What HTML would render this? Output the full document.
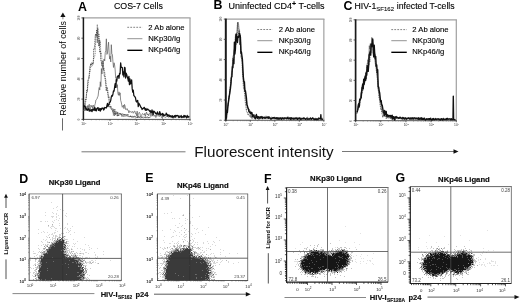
<!DOCTYPE html>
<html lang="en"><head><meta charset="utf-8"><title>Figure</title>
<style>html,body{margin:0;padding:0;background:#fff;width:520px;height:304px;overflow:hidden}svg{display:block}</style></head>
<body>
<svg width="520" height="304" viewBox="0 0 520 304" font-family='"Liberation Sans", sans-serif'>
<rect width="520" height="304" fill="#fff"/>
<line x1="83.4" y1="17.9" x2="190.6" y2="17.9" stroke="#a0a0a0" stroke-width="1.2" />
<line x1="190" y1="17.9" x2="190" y2="119.4" stroke="#a0a0a0" stroke-width="1.2" />
<line x1="83.4" y1="17.4" x2="83.4" y2="119.9" stroke="#1a1a1a" stroke-width="1.5" />
<line x1="82.9" y1="119.4" x2="190.5" y2="119.4" stroke="#2a2a2a" stroke-width="0.8" />
<line x1="81.4" y1="17.9" x2="83.4" y2="17.9" stroke="#333" stroke-width="0.8" />
<text transform="translate(79.8 17.9) rotate(-90)" font-size="3" text-anchor="middle" fill="#444">100</text>
<line x1="81.4" y1="38.2" x2="83.4" y2="38.2" stroke="#333" stroke-width="0.8" />
<text transform="translate(79.8 38.2) rotate(-90)" font-size="3" text-anchor="middle" fill="#444">80</text>
<line x1="81.4" y1="58.5" x2="83.4" y2="58.5" stroke="#333" stroke-width="0.8" />
<text transform="translate(79.8 58.5) rotate(-90)" font-size="3" text-anchor="middle" fill="#444">60</text>
<line x1="81.4" y1="78.8" x2="83.4" y2="78.8" stroke="#333" stroke-width="0.8" />
<text transform="translate(79.8 78.8) rotate(-90)" font-size="3" text-anchor="middle" fill="#444">40</text>
<line x1="81.4" y1="99.1" x2="83.4" y2="99.1" stroke="#333" stroke-width="0.8" />
<text transform="translate(79.8 99.1) rotate(-90)" font-size="3" text-anchor="middle" fill="#444">20</text>
<line x1="81.4" y1="119.4" x2="83.4" y2="119.4" stroke="#333" stroke-width="0.8" />
<text transform="translate(79.8 119.4) rotate(-90)" font-size="3" text-anchor="middle" fill="#444">0</text>
<line x1="83.4" y1="119.4" x2="83.4" y2="120.9" stroke="#333" stroke-width="0.8" />
<text x="83.7" y="124.7" font-size="3.3" text-anchor="middle" fill="#333">10<tspan dy="-1.15" font-size="2.31">0</tspan></text>
<line x1="110.05" y1="119.4" x2="110.05" y2="120.9" stroke="#333" stroke-width="0.8" />
<text x="110.35" y="124.7" font-size="3.3" text-anchor="middle" fill="#333">10<tspan dy="-1.15" font-size="2.31">1</tspan></text>
<line x1="136.7" y1="119.4" x2="136.7" y2="120.9" stroke="#333" stroke-width="0.8" />
<text x="137" y="124.7" font-size="3.3" text-anchor="middle" fill="#333">10<tspan dy="-1.15" font-size="2.31">2</tspan></text>
<line x1="163.35" y1="119.4" x2="163.35" y2="120.9" stroke="#333" stroke-width="0.8" />
<text x="163.65" y="124.7" font-size="3.3" text-anchor="middle" fill="#333">10<tspan dy="-1.15" font-size="2.31">3</tspan></text>
<line x1="190" y1="119.4" x2="190" y2="120.9" stroke="#333" stroke-width="0.8" />
<text x="190.3" y="124.7" font-size="3.3" text-anchor="middle" fill="#333">10<tspan dy="-1.15" font-size="2.31">4</tspan></text>
<line x1="91.42" y1="119.4" x2="91.42" y2="120.4" stroke="#555" stroke-width="0.4" />
<line x1="96.12" y1="119.4" x2="96.12" y2="120.4" stroke="#555" stroke-width="0.4" />
<line x1="99.44" y1="119.4" x2="99.44" y2="120.4" stroke="#555" stroke-width="0.4" />
<line x1="102.03" y1="119.4" x2="102.03" y2="120.4" stroke="#555" stroke-width="0.4" />
<line x1="104.14" y1="119.4" x2="104.14" y2="120.4" stroke="#555" stroke-width="0.4" />
<line x1="105.92" y1="119.4" x2="105.92" y2="120.4" stroke="#555" stroke-width="0.4" />
<line x1="107.47" y1="119.4" x2="107.47" y2="120.4" stroke="#555" stroke-width="0.4" />
<line x1="108.83" y1="119.4" x2="108.83" y2="120.4" stroke="#555" stroke-width="0.4" />
<line x1="118.07" y1="119.4" x2="118.07" y2="120.4" stroke="#555" stroke-width="0.4" />
<line x1="122.77" y1="119.4" x2="122.77" y2="120.4" stroke="#555" stroke-width="0.4" />
<line x1="126.09" y1="119.4" x2="126.09" y2="120.4" stroke="#555" stroke-width="0.4" />
<line x1="128.68" y1="119.4" x2="128.68" y2="120.4" stroke="#555" stroke-width="0.4" />
<line x1="130.79" y1="119.4" x2="130.79" y2="120.4" stroke="#555" stroke-width="0.4" />
<line x1="132.57" y1="119.4" x2="132.57" y2="120.4" stroke="#555" stroke-width="0.4" />
<line x1="134.12" y1="119.4" x2="134.12" y2="120.4" stroke="#555" stroke-width="0.4" />
<line x1="135.48" y1="119.4" x2="135.48" y2="120.4" stroke="#555" stroke-width="0.4" />
<line x1="144.72" y1="119.4" x2="144.72" y2="120.4" stroke="#555" stroke-width="0.4" />
<line x1="149.42" y1="119.4" x2="149.42" y2="120.4" stroke="#555" stroke-width="0.4" />
<line x1="152.74" y1="119.4" x2="152.74" y2="120.4" stroke="#555" stroke-width="0.4" />
<line x1="155.33" y1="119.4" x2="155.33" y2="120.4" stroke="#555" stroke-width="0.4" />
<line x1="157.44" y1="119.4" x2="157.44" y2="120.4" stroke="#555" stroke-width="0.4" />
<line x1="159.22" y1="119.4" x2="159.22" y2="120.4" stroke="#555" stroke-width="0.4" />
<line x1="160.77" y1="119.4" x2="160.77" y2="120.4" stroke="#555" stroke-width="0.4" />
<line x1="162.13" y1="119.4" x2="162.13" y2="120.4" stroke="#555" stroke-width="0.4" />
<line x1="171.37" y1="119.4" x2="171.37" y2="120.4" stroke="#555" stroke-width="0.4" />
<line x1="176.07" y1="119.4" x2="176.07" y2="120.4" stroke="#555" stroke-width="0.4" />
<line x1="179.39" y1="119.4" x2="179.39" y2="120.4" stroke="#555" stroke-width="0.4" />
<line x1="181.98" y1="119.4" x2="181.98" y2="120.4" stroke="#555" stroke-width="0.4" />
<line x1="184.09" y1="119.4" x2="184.09" y2="120.4" stroke="#555" stroke-width="0.4" />
<line x1="185.87" y1="119.4" x2="185.87" y2="120.4" stroke="#555" stroke-width="0.4" />
<line x1="187.42" y1="119.4" x2="187.42" y2="120.4" stroke="#555" stroke-width="0.4" />
<line x1="188.78" y1="119.4" x2="188.78" y2="120.4" stroke="#555" stroke-width="0.4" />
<text x="114" y="8.85" font-size="8.8" fill="#000" stroke="#000" stroke-width="0.12">COS-7 Cells</text>
<text transform="translate(78.1 10.7) scale(1 1)" font-size="12.4" font-weight="bold" fill="#000">A</text>
<line x1="127.3" y1="27.3" x2="142.4" y2="27.3" stroke="#666" stroke-width="0.8" stroke-dasharray="1.8 1.2"/>
<text x="148.3" y="29.55" font-size="7.7" font-weight="normal" text-anchor="start" fill="#000" stroke="#000" stroke-width="0.12">2 Ab alone</text>
<line x1="127.3" y1="38.7" x2="142.4" y2="38.7" stroke="#666" stroke-width="0.7"/>
<text x="148.3" y="40.95" font-size="7.7" font-weight="normal" text-anchor="start" fill="#000" stroke="#000" stroke-width="0.12">NKp30/Ig</text>
<line x1="127.3" y1="50.3" x2="142.4" y2="50.3" stroke="#000" stroke-width="1.35"/>
<text x="148.3" y="52.25" font-size="7.7" font-weight="normal" text-anchor="start" fill="#000" stroke="#000" stroke-width="0.12">NKp46/Ig</text>
<path d="M83.8 111.07 L84.3 109 L84.8 105.76 L85.3 99.47 L85.8 100.14 L86.3 97.02 L86.8 89.8 L87.3 90.85 L87.8 80.79 L88.3 79.27 L88.8 78.75 L89.3 74 L89.8 67.13 L90.3 65.65 L90.8 64.01 L91.3 65 L91.8 62.58 L92.3 62.77 L92.8 64.56 L93.3 63.56 L93.8 48.41 L94.3 48.73 L94.8 44.34 L95.3 34.84 L95.8 33.98 L96.3 36.61 L96.8 29.74 L97.3 42.78 L97.8 27.83 L98.3 35.62 L98.8 46.08 L99.3 39.92 L99.8 52.31 L100.3 50.68 L100.8 60.22 L101.3 61.37 L101.8 65.56 L102.3 60.86 L102.8 61.3 L103.3 69.9 L103.8 68.08 L104.3 76.17 L104.8 75.95 L105.3 79.74 L105.8 84.99 L106.3 90.91 L106.8 87.16 L107.3 89.51 L107.8 93.71 L108.3 97.49 L108.8 96.4 L109.3 102.52 L109.8 107.67 L110.3 108.11 L110.8 106.29 L111.3 109.25 L111.8 108.81 L112.3 110.04 L112.8 112.24 L113.3 109.12 L113.8 113.05 L114.3 115.89 L114.8 108.98 L115.3 115.07 L115.8 111.97 L116.3 111.85 L116.8 113.34 L117.3 116.36 L117.8 111.97 L118.3 116.28 L118.8 115.56 L119.3 114.59 L119.8 112.82 L120.3 113.43 L120.8 112.82 L121.3 115.2 L121.8 114.82 L122.3 116.17 L122.8 115.39 L123.3 114.66 L123.8 115.4 L124.3 114.52 L124.8 115.95 L125.3 116.29 L125.8 115.55 L126.3 115.97 L126.8 115.19 L127.3 115.48 L127.8 114.03 L128.3 116.17 L128.8 116.29 L129.3 117.08 L129.8 116.34 L130.3 115.91 L130.8 117.22 L131.3 116.7 L131.8 115.99 L132.3 116.81 L132.8 117.23 L133.3 116.24 L133.8 116.91 L134.3 116.6 L134.8 116.11 L135.3 116.34 L135.8 117.15 L136.3 117.39 L136.8 116.69 L137.3 117.1 L137.8 118.07 L138.3 116.34 L138.8 117.12 L139.3 116.65 L139.8 117.74 L140.3 116.36 L140.8 117.64 L141.3 117.26 L141.8 118.02 L142.3 117.39 L142.8 117.46 L143.3 117.25 L143.8 117.12 L144.3 117.38 L144.8 116.81 L145.3 117.62 L145.8 117.93 L146.3 117.38 L146.8 117.11 L147.3 116.85 L147.8 117.04 L148.3 118.35 L148.8 117.41 L149.3 116.89 L149.8 117.6" fill="none" stroke="#3a3a3a" stroke-width="0.85" stroke-linejoin="round" stroke-dasharray="1.1 0.7" />
<path d="M84.3 110.45 L84.8 106.91 L85.3 102 L85.8 101.68 L86.3 96.46 L86.8 91.93 L87.3 92.27 L87.8 85.92 L88.3 83.45 L88.8 76.66 L89.3 77.51 L89.8 71.02 L90.3 71.42 L90.8 63.37 L91.3 66.12 L91.8 66.73 L92.3 65.42 L92.8 64.36 L93.3 61.3 L93.8 58.13 L94.3 57.73 L94.8 55.81 L95.3 52.8 L95.8 36.38 L96.3 34.11 L96.8 34.17 L97.3 24.33 L97.8 37.77 L98.3 34.83 L98.8 33.77 L99.3 34.19 L99.8 45.78 L100.3 40.85 L100.8 53.59 L101.3 52.6 L101.8 57.39 L102.3 66.67 L102.8 61.97 L103.3 63.25 L103.8 68.8 L104.3 72.4 L104.8 71.83 L105.3 78.31 L105.8 79.24 L106.3 85.31 L106.8 86.93 L107.3 87.35 L107.8 90.12 L108.3 95 L108.8 96.37 L109.3 101.93 L109.8 104.35 L110.3 106.9 L110.8 106.06 L111.3 108.17 L111.8 109.59 L112.3 109.3 L112.8 108.13 L113.3 115.28 L113.8 111.83 L114.3 111.73 L114.8 111.52 L115.3 112.54 L115.8 114.81 L116.3 114.46 L116.8 111.86 L117.3 111.71 L117.8 113.6 L118.3 114.76 L118.8 113.89 L119.3 114.08 L119.8 113.43 L120.3 113.92 L120.8 115.21 L121.3 113.68 L121.8 116.45 L122.3 113.82 L122.8 113.35 L123.3 116.7 L123.8 114.65 L124.3 116.3 L124.8 113.83 L125.3 114 L125.8 115.85 L126.3 114.01 L126.8 115.79 L127.3 116.46 L127.8 116.79 L128.3 116.11 L128.8 116.35 L129.3 116.35 L129.8 116.79 L130.3 115.74 L130.8 115.73 L131.3 116.87 L131.8 117.61 L132.3 116.3 L132.8 115.99 L133.3 117.02 L133.8 117.82 L134.3 116.69 L134.8 115.82 L135.3 118.23 L135.8 116.86 L136.3 117.11 L136.8 117.7 L137.3 116.68 L137.8 117.68 L138.3 116.87 L138.8 116.39 L139.3 117.13 L139.8 117.54 L140.3 118.2 L140.8 117.87 L141.3 118.17 L141.8 116.3 L142.3 117.4 L142.8 117.92 L143.3 118.26 L143.8 118.01 L144.3 117.51 L144.8 118.04 L145.3 116.46 L145.8 117.79 L146.3 117.8 L146.8 117.22 L147.3 116.81 L147.8 116.86 L148.3 117.86 L148.8 117.33 L149.3 117.47 L149.8 117.28 L150.3 117.36" fill="none" stroke="#4a4a4a" stroke-width="0.7" stroke-linejoin="round" stroke-dasharray="0.9 0.9" />
<path d="M83.8 111.03 L84.35 109.6 L84.9 104.67 L85.45 108.12 L86 106.21 L86.55 108.19 L87.1 110.8 L87.65 105.58 L88.2 108.38 L88.75 105.17 L89.3 104.29 L89.85 109.76 L90.4 110 L90.95 105.1 L91.5 106.61 L92.05 105.85 L92.6 108.42 L93.15 105.01 L93.7 106.44 L94.25 110.25 L94.8 104.97 L95.35 103.43 L95.9 100.07 L96.45 99.55 L97 98.93 L97.55 96.91 L98.1 96.19 L98.65 91.01 L99.2 87.51 L99.75 90.04 L100.3 81.79 L100.85 86.59 L101.4 68.57 L101.95 73.99 L102.5 65.83 L103.05 67.39 L103.6 60.32 L104.15 58.97 L104.7 60.97 L105.25 52.52 L105.8 50.7 L106.35 38.82 L106.9 54.42 L107.45 53.41 L108 46.97 L108.55 42.16 L109.1 52.27 L109.65 59.08 L110.2 56.14 L110.75 61.97 L111.3 44.7 L111.85 53.67 L112.4 54.46 L112.95 61.76 L113.5 67.46 L114.05 62.77 L114.6 65 L115.15 69.78 L115.7 77.99 L116.25 77.5 L116.8 87.61 L117.35 84.65 L117.9 93.37 L118.45 95.27 L119 91.87 L119.55 95.38 L120.1 92.85 L120.65 100.34 L121.2 102 L121.75 104.91 L122.3 107.29 L122.85 106.21 L123.4 105.15 L123.95 108.64 L124.5 104.45 L125.05 106.02 L125.6 109.45 L126.15 109.79 L126.7 108.74 L127.25 108.72 L127.8 110.45 L128.35 110.45 L128.9 112.9 L129.45 110.89 L130 111.24 L130.55 111.78 L131.1 111.48 L131.65 112.56 L132.2 111.68 L132.75 111.54 L133.3 113.24 L133.85 112.31 L134.4 111.12 L134.95 111.11 L135.5 113.58 L136.05 113.09 L136.6 115.74 L137.15 111.15 L137.7 116.84 L138.25 114.04 L138.8 113.35 L139.35 112.27 L139.9 113.33 L140.45 115.84 L141 116.41 L141.55 115.8 L142.1 113.95 L142.65 113.48 L143.2 114.34 L143.75 114.83 L144.3 115.07 L144.85 113.25 L145.4 116.23 L145.95 114.15 L146.5 112.04 L147.05 113.81 L147.6 115.01 L148.15 113.87 L148.7 115.8 L149.25 114.28 L149.8 113.1 L150.35 112.44 L150.9 116.56 L151.45 114.17 L152 112.48 L152.55 116.11 L153.1 114.24 L153.65 114.4 L154.2 116.38 L154.75 115.33 L155.3 115.03 L155.85 117.56 L156.4 115.34 L156.95 116.29 L157.5 114.62 L158.05 113.56 L158.6 115.34 L159.15 116.7 L159.7 115.8 L160.25 115.69 L160.8 114.93 L161.35 117.39 L161.9 117.23 L162.45 118.52 L163 115.63 L163.55 116.54 L164.1 116.83 L164.65 116.83 L165.2 117.04 L165.75 117.46 L166.3 116.49 L166.85 116.83 L167.4 115.65 L167.95 117.09 L168.5 117.29 L169.05 117 L169.6 115.66 L170.15 116.63 L170.7 116.75 L171.25 116.43 L171.8 115.57 L172.35 117.95 L172.9 117.41 L173.45 118.26 L174 116.51 L174.55 117.49 L175.1 117.3 L175.65 117.55 L176.2 116.55 L176.75 116.96 L177.3 117.1 L177.85 116.54 L178.4 117.48 L178.95 117.72 L179.5 115.48 L180.05 117.01 L180.6 117.37 L181.15 117.28 L181.7 117.3 L182.25 116.81 L182.8 116.45 L183.35 116.42 L183.9 117.2 L184.45 117.88 L185 117.11 L185.55 116.56 L186.1 116.64 L186.65 117.06 L187.2 117.12 L187.75 117.56 L188.3 117.63 L188.85 117.94 L189.4 117.32" fill="none" stroke="#5a5a5a" stroke-width="0.7" stroke-linejoin="round" />
<path d="M83.8 105.15 L84.35 106.55 L84.9 106.54 L85.45 107.11 L86 110.04 L86.55 108.82 L87.1 109.15 L87.65 110.25 L88.2 109.37 L88.75 108.54 L89.3 111.17 L89.85 109.89 L90.4 110.32 L90.95 110.99 L91.5 109.62 L92.05 111.56 L92.6 109.48 L93.15 109.02 L93.7 110.12 L94.25 110.15 L94.8 107.47 L95.35 110.63 L95.9 108.88 L96.45 110.93 L97 108.7 L97.55 107.82 L98.1 107.72 L98.65 110.36 L99.2 110.08 L99.75 108.43 L100.3 111.15 L100.85 108.61 L101.4 109.7 L101.95 108.03 L102.5 108.41 L103.05 107.86 L103.6 110 L104.15 109.42 L104.7 107.4 L105.25 107.77 L105.8 107.61 L106.35 107.97 L106.9 105.71 L107.45 103.41 L108 106.59 L108.55 104.47 L109.1 103.53 L109.65 102.39 L110.2 101.97 L110.75 100.34 L111.3 96.97 L111.85 95.52 L112.4 96.07 L112.95 93.98 L113.5 90.88 L114.05 91.14 L114.6 87.23 L115.15 83.52 L115.7 87.37 L116.25 79.65 L116.8 81.17 L117.35 76.54 L117.9 76.06 L118.45 75.54 L119 78.27 L119.55 73.38 L120.1 73.89 L120.65 62.78 L121.2 67.34 L121.75 67.3 L122.3 67.54 L122.85 74.9 L123.4 71.99 L123.95 76.81 L124.5 67.33 L125.05 67.68 L125.6 78.03 L126.15 73.18 L126.7 74.6 L127.25 76.85 L127.8 78.47 L128.35 81.02 L128.9 76.28 L129.45 84.63 L130 78.99 L130.55 83.95 L131.1 83.17 L131.65 79.95 L132.2 88.64 L132.75 92.03 L133.3 90.19 L133.85 95.75 L134.4 96.04 L134.95 96.79 L135.5 97.86 L136.05 101.11 L136.6 102.03 L137.15 100.89 L137.7 100.37 L138.25 106.74 L138.8 103.24 L139.35 104.18 L139.9 105.12 L140.45 106.26 L141 107.6 L141.55 107.58 L142.1 109.49 L142.65 108.58 L143.2 108.58 L143.75 107.71 L144.3 107.41 L144.85 109.11 L145.4 110.25 L145.95 108.38 L146.5 110.26 L147.05 109.97 L147.6 108.97 L148.15 109.47 L148.7 109.87 L149.25 110.67 L149.8 111.54 L150.35 110.66 L150.9 112.64 L151.45 112.49 L152 109.97 L152.55 111.85 L153.1 114.71 L153.65 111.1 L154.2 111.5 L154.75 111.94 L155.3 113.28 L155.85 113.02 L156.4 114.12 L156.95 114.05 L157.5 111.89 L158.05 113.81 L158.6 114.03 L159.15 114.87 L159.7 111.55 L160.25 113.16 L160.8 115.07 L161.35 114.52 L161.9 113.95 L162.45 113.34 L163 116.16 L163.55 114.06 L164.1 115.17 L164.65 115.48 L165.2 115.06 L165.75 114.92 L166.3 113.04 L166.85 115.13 L167.4 114.38 L167.95 116.26 L168.5 115.23 L169.05 114.81 L169.6 116.67 L170.15 116.15 L170.7 115.67 L171.25 117.16 L171.8 116.61 L172.35 115.75 L172.9 117.58 L173.45 116.75 L174 116.3 L174.55 115.65 L175.1 117.21 L175.65 115.36 L176.2 116.03 L176.75 115.64 L177.3 115.44 L177.85 115.84 L178.4 115.77 L178.95 117.51 L179.5 117.16 L180.05 116.89 L180.6 116.38 L181.15 115.49 L181.7 117.69 L182.25 116.73 L182.8 117.1 L183.35 117.25 L183.9 115.34 L184.45 116.91 L185 115.61 L185.55 116.43 L186.1 117.09 L186.65 117.78 L187.2 115.45 L187.75 116.98 L188.3 117.21 L188.85 116.42 L189.4 116.56" fill="none" stroke="#111" stroke-width="1.25" stroke-linejoin="round" />
<line x1="225.8" y1="19.1" x2="324.45" y2="19.1" stroke="#a0a0a0" stroke-width="1.2" />
<line x1="323.85" y1="19.1" x2="323.85" y2="120.25" stroke="#a0a0a0" stroke-width="1.2" />
<line x1="225.8" y1="18.6" x2="225.8" y2="120.75" stroke="#1a1a1a" stroke-width="2.0" />
<line x1="225.3" y1="120.25" x2="324.35" y2="120.25" stroke="#2a2a2a" stroke-width="0.8" />
<line x1="223.8" y1="19.1" x2="225.8" y2="19.1" stroke="#333" stroke-width="0.8" />
<text transform="translate(222.2 19.1) rotate(-90)" font-size="3" text-anchor="middle" fill="#444">100</text>
<line x1="223.8" y1="39.33" x2="225.8" y2="39.33" stroke="#333" stroke-width="0.8" />
<text transform="translate(222.2 39.33) rotate(-90)" font-size="3" text-anchor="middle" fill="#444">80</text>
<line x1="223.8" y1="59.56" x2="225.8" y2="59.56" stroke="#333" stroke-width="0.8" />
<text transform="translate(222.2 59.56) rotate(-90)" font-size="3" text-anchor="middle" fill="#444">60</text>
<line x1="223.8" y1="79.79" x2="225.8" y2="79.79" stroke="#333" stroke-width="0.8" />
<text transform="translate(222.2 79.79) rotate(-90)" font-size="3" text-anchor="middle" fill="#444">40</text>
<line x1="223.8" y1="100.02" x2="225.8" y2="100.02" stroke="#333" stroke-width="0.8" />
<text transform="translate(222.2 100.02) rotate(-90)" font-size="3" text-anchor="middle" fill="#444">20</text>
<line x1="223.8" y1="120.25" x2="225.8" y2="120.25" stroke="#333" stroke-width="0.8" />
<text transform="translate(222.2 120.25) rotate(-90)" font-size="3" text-anchor="middle" fill="#444">0</text>
<line x1="225.8" y1="120.25" x2="225.8" y2="121.75" stroke="#333" stroke-width="0.8" />
<text x="226.1" y="125.55" font-size="3.3" text-anchor="middle" fill="#333">10<tspan dy="-1.15" font-size="2.31">0</tspan></text>
<line x1="250.31" y1="120.25" x2="250.31" y2="121.75" stroke="#333" stroke-width="0.8" />
<text x="250.61" y="125.55" font-size="3.3" text-anchor="middle" fill="#333">10<tspan dy="-1.15" font-size="2.31">1</tspan></text>
<line x1="274.83" y1="120.25" x2="274.83" y2="121.75" stroke="#333" stroke-width="0.8" />
<text x="275.13" y="125.55" font-size="3.3" text-anchor="middle" fill="#333">10<tspan dy="-1.15" font-size="2.31">2</tspan></text>
<line x1="299.34" y1="120.25" x2="299.34" y2="121.75" stroke="#333" stroke-width="0.8" />
<text x="299.64" y="125.55" font-size="3.3" text-anchor="middle" fill="#333">10<tspan dy="-1.15" font-size="2.31">3</tspan></text>
<line x1="323.85" y1="120.25" x2="323.85" y2="121.75" stroke="#333" stroke-width="0.8" />
<text x="324.15" y="125.55" font-size="3.3" text-anchor="middle" fill="#333">10<tspan dy="-1.15" font-size="2.31">4</tspan></text>
<line x1="233.18" y1="120.25" x2="233.18" y2="121.25" stroke="#555" stroke-width="0.4" />
<line x1="237.5" y1="120.25" x2="237.5" y2="121.25" stroke="#555" stroke-width="0.4" />
<line x1="240.56" y1="120.25" x2="240.56" y2="121.25" stroke="#555" stroke-width="0.4" />
<line x1="242.93" y1="120.25" x2="242.93" y2="121.25" stroke="#555" stroke-width="0.4" />
<line x1="244.87" y1="120.25" x2="244.87" y2="121.25" stroke="#555" stroke-width="0.4" />
<line x1="246.52" y1="120.25" x2="246.52" y2="121.25" stroke="#555" stroke-width="0.4" />
<line x1="247.94" y1="120.25" x2="247.94" y2="121.25" stroke="#555" stroke-width="0.4" />
<line x1="249.19" y1="120.25" x2="249.19" y2="121.25" stroke="#555" stroke-width="0.4" />
<line x1="257.69" y1="120.25" x2="257.69" y2="121.25" stroke="#555" stroke-width="0.4" />
<line x1="262.01" y1="120.25" x2="262.01" y2="121.25" stroke="#555" stroke-width="0.4" />
<line x1="265.07" y1="120.25" x2="265.07" y2="121.25" stroke="#555" stroke-width="0.4" />
<line x1="267.45" y1="120.25" x2="267.45" y2="121.25" stroke="#555" stroke-width="0.4" />
<line x1="269.39" y1="120.25" x2="269.39" y2="121.25" stroke="#555" stroke-width="0.4" />
<line x1="271.03" y1="120.25" x2="271.03" y2="121.25" stroke="#555" stroke-width="0.4" />
<line x1="272.45" y1="120.25" x2="272.45" y2="121.25" stroke="#555" stroke-width="0.4" />
<line x1="273.7" y1="120.25" x2="273.7" y2="121.25" stroke="#555" stroke-width="0.4" />
<line x1="282.2" y1="120.25" x2="282.2" y2="121.25" stroke="#555" stroke-width="0.4" />
<line x1="286.52" y1="120.25" x2="286.52" y2="121.25" stroke="#555" stroke-width="0.4" />
<line x1="289.58" y1="120.25" x2="289.58" y2="121.25" stroke="#555" stroke-width="0.4" />
<line x1="291.96" y1="120.25" x2="291.96" y2="121.25" stroke="#555" stroke-width="0.4" />
<line x1="293.9" y1="120.25" x2="293.9" y2="121.25" stroke="#555" stroke-width="0.4" />
<line x1="295.54" y1="120.25" x2="295.54" y2="121.25" stroke="#555" stroke-width="0.4" />
<line x1="296.96" y1="120.25" x2="296.96" y2="121.25" stroke="#555" stroke-width="0.4" />
<line x1="298.22" y1="120.25" x2="298.22" y2="121.25" stroke="#555" stroke-width="0.4" />
<line x1="306.72" y1="120.25" x2="306.72" y2="121.25" stroke="#555" stroke-width="0.4" />
<line x1="311.03" y1="120.25" x2="311.03" y2="121.25" stroke="#555" stroke-width="0.4" />
<line x1="314.1" y1="120.25" x2="314.1" y2="121.25" stroke="#555" stroke-width="0.4" />
<line x1="316.47" y1="120.25" x2="316.47" y2="121.25" stroke="#555" stroke-width="0.4" />
<line x1="318.41" y1="120.25" x2="318.41" y2="121.25" stroke="#555" stroke-width="0.4" />
<line x1="320.05" y1="120.25" x2="320.05" y2="121.25" stroke="#555" stroke-width="0.4" />
<line x1="321.47" y1="120.25" x2="321.47" y2="121.25" stroke="#555" stroke-width="0.4" />
<line x1="322.73" y1="120.25" x2="322.73" y2="121.25" stroke="#555" stroke-width="0.4" />
<text x="228.5" y="8.6" font-size="9" fill="#000" stroke="#000" stroke-width="0.12">Uninfected CD4<tspan dy="-3.0" font-size="7" font-weight="bold">+</tspan><tspan dy="3.0"> T-cells</tspan></text>
<text transform="translate(213.4 8.9) scale(1 1)" font-size="12.4" font-weight="bold" fill="#000">B</text>
<line x1="257.3" y1="29.5" x2="272.4" y2="29.5" stroke="#666" stroke-width="0.8" stroke-dasharray="1.8 1.2"/>
<text x="278.7" y="31.75" font-size="7.7" font-weight="normal" text-anchor="start" fill="#000" stroke="#000" stroke-width="0.12">2 Ab alone</text>
<line x1="257.3" y1="40.7" x2="272.4" y2="40.7" stroke="#666" stroke-width="0.7"/>
<text x="278.7" y="42.95" font-size="7.7" font-weight="normal" text-anchor="start" fill="#000" stroke="#000" stroke-width="0.12">NKp30/Ig</text>
<line x1="257.3" y1="52.3" x2="272.4" y2="52.3" stroke="#000" stroke-width="1.35"/>
<text x="278.7" y="54.25" font-size="7.7" font-weight="normal" text-anchor="start" fill="#000" stroke="#000" stroke-width="0.12">NKp46/Ig</text>
<path d="M226.5 116.93 L227 112.17 L227.5 108 L228 105.45 L228.5 99.4 L229 97.32 L229.5 95.03 L230 87.51 L230.5 83.83 L231 78.66 L231.5 79.19 L232 70.65 L232.5 69.34 L233 57.82 L233.5 62.56 L234 55.6 L234.5 53.19 L235 46.05 L235.5 35.69 L236 44.83 L236.5 32.98 L237 40.18 L237.5 22.37 L238 29.08 L238.5 34.38 L239 32.39 L239.5 29.85 L240 38.3 L240.5 41.35 L241 57.75 L241.5 58.39 L242 59.52 L242.5 73.32 L243 78.3 L243.5 88.43 L244 88.13 L244.5 93.19 L245 97.97 L245.5 104.16 L246 106.37 L246.5 111.15 L247 111.38 L247.5 113.31 L248 114.73 L248.5 113.83 L249 114.98 L249.5 115.99 L250 116.75 L250.5 115.25 L251 117.73 L251.5 116.37 L252 118.67 L252.5 118.15 L253 117.3 L253.5 117.68 L254 115.71 L254.5 115.95 L255 118.58 L255.5 118.38 L256 118.02 L256.5 116.88 L257 117.04 L257.5 117.81 L258 118.66 L258.5 118.38 L259 119.5 L259.5 118.97 L260 117.88 L260.5 117.85 L261 118.86 L261.5 118.19" fill="none" stroke="#3a3a3a" stroke-width="0.85" stroke-linejoin="round" stroke-dasharray="1.1 0.7" />
<path d="M226.5 113.63 L227 113.47 L227.5 107.44 L228 103.65 L228.5 102.37 L229 95.51 L229.5 95.1 L230 91.98 L230.5 85.99 L231 83.36 L231.5 72.39 L232 71.04 L232.5 62.62 L233 56.84 L233.5 54.83 L234 50.7 L234.5 48.59 L235 49.88 L235.5 33.72 L236 41.34 L236.5 34.3 L237 33.2 L237.5 24.18 L238 22.14 L238.5 23.57 L239 29.71 L239.5 44.69 L240 35.16 L240.5 38.5 L241 49.32 L241.5 55.57 L242 59.55 L242.5 62.36 L243 72.15 L243.5 82.22 L244 86.25 L244.5 86.81 L245 91.95 L245.5 92.33 L246 100.28 L246.5 100.16 L247 104.75 L247.5 106.58 L248 108.87 L248.5 110.46 L249 109.01 L249.5 111.72 L250 110.78 L250.5 114.87 L251 115.45 L251.5 114.26 L252 113.76 L252.5 114.84 L253 114.21 L253.5 116.29 L254 114.19 L254.5 115.07 L255 117.32 L255.5 115.29 L256 116.75 L256.5 115.47 L257 117.33 L257.5 116.1 L258 116.4 L258.5 119.3 L259 118.77 L259.5 116.77 L260 117.16 L260.5 116.48 L261 116.79 L261.5 118.05 L262 117.14 L262.5 117.77 L263 117.4 L263.5 117.77 L264 116.95 L264.5 118.71 L265 118.13 L265.5 118.88 L266 115.85 L266.5 118.15 L267 117.84 L267.5 118.29 L268 118.02 L268.5 117.96 L269 117.06 L269.5 117.46 L270 117.28 L270.5 118.24 L271 117.52 L271.5 116.83 L272 117.56 L272.5 117.53 L273 119.23 L273.5 117.38 L274 117.61 L274.5 116.84 L275 119.47 L275.5 117.52 L276 117.75 L276.5 117.72 L277 118.2 L277.5 117.5 L278 117.11 L278.5 117.75 L279 117.96 L279.5 117.99 L280 117.99 L280.5 117.62 L281 118.63 L281.5 119.05 L282 116.98 L282.5 119.24 L283 117.85 L283.5 118.67 L284 117.96 L284.5 118.63 L285 117.6 L285.5 118.37 L286 118.72 L286.5 117.48 L287 116.96 L287.5 117.56 L288 117.68 L288.5 118.81 L289 117.75 L289.5 117.68 L290 118.29 L290.5 117.27 L291 118.05 L291.5 117.69 L292 118.16 L292.5 118.26 L293 117.78 L293.5 117.94 L294 117.92 L294.5 118.74 L295 118.39 L295.5 117.58 L296 119.08 L296.5 117.43 L297 117.86 L297.5 117.9 L298 118.38 L298.5 117.72 L299 118.11 L299.5 116.99 L300 117.76 L300.5 119.16 L301 117.86 L301.5 118.33 L302 118.6 L302.5 118.21 L303 118.16 L303.5 117.98 L304 117.68 L304.5 117.87 L305 118.5 L305.5 118.95 L306 118.61 L306.5 117.67 L307 117.6 L307.5 117.17 L308 118.88 L308.5 118.25 L309 118.32 L309.5 118.46 L310 118.06 L310.5 118.47 L311 118.63 L311.5 118.65 L312 117.99 L312.5 117.48 L313 117.34 L313.5 118.65 L314 118.85 L314.5 118.53 L315 118.75 L315.5 117.89 L316 118.89 L316.5 118.25 L317 118.98 L317.5 118.53 L318 118.23 L318.5 117.42 L319 118.69 L319.5 118.23 L320 119.29 L320.5 119.12 L321 118.71 L321.5 118.71 L322 118.29 L322.5 118.12" fill="none" stroke="#555" stroke-width="0.75" stroke-linejoin="round" />
<path d="M226.4 118.66 L226.9 110.14 L227.4 112.55 L227.9 106.32 L228.4 102.35 L228.9 98.7 L229.4 95.29 L229.9 91.37 L230.4 88.83 L230.9 83.87 L231.4 77.31 L231.9 76.76 L232.4 66.6 L232.9 67.8 L233.4 59.12 L233.9 63.63 L234.4 42.12 L234.9 54.03 L235.4 49.16 L235.9 36.13 L236.4 34.53 L236.9 38.9 L237.4 42.52 L237.9 36.91 L238.4 36.15 L238.9 37.16 L239.4 33.13 L239.9 34.77 L240.4 37.12 L240.9 53.14 L241.4 51.85 L241.9 55.74 L242.4 59.35 L242.9 70.25 L243.4 77.52 L243.9 82.01 L244.4 81.64 L244.9 91.1 L245.4 90.67 L245.9 94.18 L246.4 97.9 L246.9 104.78 L247.4 105.86 L247.9 107.83 L248.4 108.73 L248.9 111.69 L249.4 111.79 L249.9 112.53 L250.4 113.34 L250.9 112.04 L251.4 113.49 L251.9 112.67 L252.4 116.81 L252.9 115.02 L253.4 115.28 L253.9 115.76 L254.4 117.58 L254.9 118.14 L255.4 118.76 L255.9 116.98 L256.4 114.54 L256.9 116.83 L257.4 118.32 L257.9 116.77 L258.4 117.67 L258.9 116.86 L259.4 117.79 L259.9 118.28 L260.4 117.92 L260.9 116.85 L261.4 117.31 L261.9 116.6 L262.4 118.48 L262.9 117.17 L263.4 117.72 L263.9 117.69 L264.4 117.22 L264.9 118.05 L265.4 117.98 L265.9 117.6 L266.4 117.68 L266.9 117.55 L267.4 117 L267.9 117.73 L268.4 118.27 L268.9 116.64 L269.4 118.12 L269.9 117.96 L270.4 118.43 L270.9 119.2 L271.4 118.88 L271.9 118.14 L272.4 117.93 L272.9 118.23 L273.4 117.66 L273.9 117.76 L274.4 117.63 L274.9 118.3 L275.4 118.26 L275.9 118.31 L276.4 118.79 L276.9 117.61 L277.4 119.03 L277.9 118.45 L278.4 118.17 L278.9 119.32 L279.4 118.13 L279.9 118.66 L280.4 118.05 L280.9 118.61 L281.4 119.19 L281.9 118.28 L282.4 118.45 L282.9 118.01 L283.4 118.15 L283.9 119.11 L284.4 117.98 L284.9 117.98 L285.4 118.14 L285.9 118.28 L286.4 118.8 L286.9 118.28 L287.4 118.62 L287.9 117.19 L288.4 118.69 L288.9 119 L289.4 118.73 L289.9 117.94 L290.4 118.81 L290.9 119.57 L291.4 117.87 L291.9 118.31 L292.4 118.67 L292.9 118.26 L293.4 119.05 L293.9 119.19 L294.4 118.15 L294.9 118.77 L295.4 118.25 L295.9 118.72 L296.4 118.19 L296.9 118.51 L297.4 119.38 L297.9 118.33 L298.4 118.88 L298.9 118.39 L299.4 118.69 L299.9 118.13 L300.4 118.91 L300.9 119.65 L301.4 118.96 L301.9 118.48 L302.4 118.83 L302.9 118.87 L303.4 118.06 L303.9 118.71 L304.4 118.17 L304.9 118.77 L305.4 119.41 L305.9 119.25 L306.4 118.96 L306.9 118.6 L307.4 119.13 L307.9 119.29 L308.4 119.08 L308.9 118.97 L309.4 119.18 L309.9 119.05 L310.4 117.94 L310.9 118.62 L311.4 119.21 L311.9 118.76 L312.4 118.11 L312.9 118.44 L313.4 118.76 L313.9 119.31 L314.4 119.59 L314.9 119.07 L315.4 118.99 L315.9 119.58 L316.4 119.53 L316.9 118.97 L317.4 119.65 L317.9 119.65 L318.4 118.83 L318.9 118.48 L319.4 118.74 L319.9 118.4 L320.4 118.26 L320.55 118.75 L320.85 114.75 L321.15 119.05 L323.05 119.25" fill="none" stroke="#111" stroke-width="1.4" stroke-linejoin="round" />
<line x1="355.6" y1="19.8" x2="456.9" y2="19.8" stroke="#a0a0a0" stroke-width="1.2" />
<line x1="456.3" y1="19.8" x2="456.3" y2="120.7" stroke="#a0a0a0" stroke-width="1.2" />
<line x1="355.6" y1="19.3" x2="355.6" y2="121.2" stroke="#1a1a1a" stroke-width="1.7" />
<line x1="355.1" y1="120.7" x2="456.8" y2="120.7" stroke="#2a2a2a" stroke-width="0.8" />
<line x1="353.6" y1="19.8" x2="355.6" y2="19.8" stroke="#333" stroke-width="0.8" />
<text transform="translate(352 19.8) rotate(-90)" font-size="3" text-anchor="middle" fill="#444">100</text>
<line x1="353.6" y1="39.98" x2="355.6" y2="39.98" stroke="#333" stroke-width="0.8" />
<text transform="translate(352 39.98) rotate(-90)" font-size="3" text-anchor="middle" fill="#444">80</text>
<line x1="353.6" y1="60.16" x2="355.6" y2="60.16" stroke="#333" stroke-width="0.8" />
<text transform="translate(352 60.16) rotate(-90)" font-size="3" text-anchor="middle" fill="#444">60</text>
<line x1="353.6" y1="80.34" x2="355.6" y2="80.34" stroke="#333" stroke-width="0.8" />
<text transform="translate(352 80.34) rotate(-90)" font-size="3" text-anchor="middle" fill="#444">40</text>
<line x1="353.6" y1="100.52" x2="355.6" y2="100.52" stroke="#333" stroke-width="0.8" />
<text transform="translate(352 100.52) rotate(-90)" font-size="3" text-anchor="middle" fill="#444">20</text>
<line x1="353.6" y1="120.7" x2="355.6" y2="120.7" stroke="#333" stroke-width="0.8" />
<text transform="translate(352 120.7) rotate(-90)" font-size="3" text-anchor="middle" fill="#444">0</text>
<line x1="355.6" y1="120.7" x2="355.6" y2="122.2" stroke="#333" stroke-width="0.8" />
<text x="355.9" y="126" font-size="3.3" text-anchor="middle" fill="#333">10<tspan dy="-1.15" font-size="2.31">0</tspan></text>
<line x1="380.78" y1="120.7" x2="380.78" y2="122.2" stroke="#333" stroke-width="0.8" />
<text x="381.08" y="126" font-size="3.3" text-anchor="middle" fill="#333">10<tspan dy="-1.15" font-size="2.31">1</tspan></text>
<line x1="405.95" y1="120.7" x2="405.95" y2="122.2" stroke="#333" stroke-width="0.8" />
<text x="406.25" y="126" font-size="3.3" text-anchor="middle" fill="#333">10<tspan dy="-1.15" font-size="2.31">2</tspan></text>
<line x1="431.12" y1="120.7" x2="431.12" y2="122.2" stroke="#333" stroke-width="0.8" />
<text x="431.43" y="126" font-size="3.3" text-anchor="middle" fill="#333">10<tspan dy="-1.15" font-size="2.31">3</tspan></text>
<line x1="456.3" y1="120.7" x2="456.3" y2="122.2" stroke="#333" stroke-width="0.8" />
<text x="456.6" y="126" font-size="3.3" text-anchor="middle" fill="#333">10<tspan dy="-1.15" font-size="2.31">4</tspan></text>
<line x1="363.18" y1="120.7" x2="363.18" y2="121.7" stroke="#555" stroke-width="0.4" />
<line x1="367.61" y1="120.7" x2="367.61" y2="121.7" stroke="#555" stroke-width="0.4" />
<line x1="370.76" y1="120.7" x2="370.76" y2="121.7" stroke="#555" stroke-width="0.4" />
<line x1="373.2" y1="120.7" x2="373.2" y2="121.7" stroke="#555" stroke-width="0.4" />
<line x1="375.19" y1="120.7" x2="375.19" y2="121.7" stroke="#555" stroke-width="0.4" />
<line x1="376.88" y1="120.7" x2="376.88" y2="121.7" stroke="#555" stroke-width="0.4" />
<line x1="378.34" y1="120.7" x2="378.34" y2="121.7" stroke="#555" stroke-width="0.4" />
<line x1="379.62" y1="120.7" x2="379.62" y2="121.7" stroke="#555" stroke-width="0.4" />
<line x1="388.35" y1="120.7" x2="388.35" y2="121.7" stroke="#555" stroke-width="0.4" />
<line x1="392.79" y1="120.7" x2="392.79" y2="121.7" stroke="#555" stroke-width="0.4" />
<line x1="395.93" y1="120.7" x2="395.93" y2="121.7" stroke="#555" stroke-width="0.4" />
<line x1="398.37" y1="120.7" x2="398.37" y2="121.7" stroke="#555" stroke-width="0.4" />
<line x1="400.36" y1="120.7" x2="400.36" y2="121.7" stroke="#555" stroke-width="0.4" />
<line x1="402.05" y1="120.7" x2="402.05" y2="121.7" stroke="#555" stroke-width="0.4" />
<line x1="403.51" y1="120.7" x2="403.51" y2="121.7" stroke="#555" stroke-width="0.4" />
<line x1="404.8" y1="120.7" x2="404.8" y2="121.7" stroke="#555" stroke-width="0.4" />
<line x1="413.53" y1="120.7" x2="413.53" y2="121.7" stroke="#555" stroke-width="0.4" />
<line x1="417.96" y1="120.7" x2="417.96" y2="121.7" stroke="#555" stroke-width="0.4" />
<line x1="421.11" y1="120.7" x2="421.11" y2="121.7" stroke="#555" stroke-width="0.4" />
<line x1="423.55" y1="120.7" x2="423.55" y2="121.7" stroke="#555" stroke-width="0.4" />
<line x1="425.54" y1="120.7" x2="425.54" y2="121.7" stroke="#555" stroke-width="0.4" />
<line x1="427.23" y1="120.7" x2="427.23" y2="121.7" stroke="#555" stroke-width="0.4" />
<line x1="428.69" y1="120.7" x2="428.69" y2="121.7" stroke="#555" stroke-width="0.4" />
<line x1="429.97" y1="120.7" x2="429.97" y2="121.7" stroke="#555" stroke-width="0.4" />
<line x1="438.7" y1="120.7" x2="438.7" y2="121.7" stroke="#555" stroke-width="0.4" />
<line x1="443.14" y1="120.7" x2="443.14" y2="121.7" stroke="#555" stroke-width="0.4" />
<line x1="446.28" y1="120.7" x2="446.28" y2="121.7" stroke="#555" stroke-width="0.4" />
<line x1="448.72" y1="120.7" x2="448.72" y2="121.7" stroke="#555" stroke-width="0.4" />
<line x1="450.71" y1="120.7" x2="450.71" y2="121.7" stroke="#555" stroke-width="0.4" />
<line x1="452.4" y1="120.7" x2="452.4" y2="121.7" stroke="#555" stroke-width="0.4" />
<line x1="453.86" y1="120.7" x2="453.86" y2="121.7" stroke="#555" stroke-width="0.4" />
<line x1="455.15" y1="120.7" x2="455.15" y2="121.7" stroke="#555" stroke-width="0.4" />
<text x="354.6" y="8.6" font-size="8.7" fill="#000" stroke="#000" stroke-width="0.12">HIV-1<tspan dy="2.3" font-size="6" fill="#1a1a1a">SF162</tspan><tspan dy="-2.3" dx="0.4"> infected T-cells</tspan></text>
<text transform="translate(343.4 9.85) scale(1 1)" font-size="12.4" font-weight="bold" fill="#000">C</text>
<line x1="391.3" y1="29.6" x2="406.8" y2="29.6" stroke="#666" stroke-width="0.8" stroke-dasharray="1.8 1.2"/>
<text x="412.3" y="31.85" font-size="7.7" font-weight="normal" text-anchor="start" fill="#000" stroke="#000" stroke-width="0.12">2 Ab alone</text>
<line x1="391.3" y1="40.7" x2="406.8" y2="40.7" stroke="#666" stroke-width="0.7"/>
<text x="412.3" y="42.95" font-size="7.7" font-weight="normal" text-anchor="start" fill="#000" stroke="#000" stroke-width="0.12">NKp30/Ig</text>
<line x1="391.3" y1="52.3" x2="406.8" y2="52.3" stroke="#000" stroke-width="1.35"/>
<text x="412.3" y="54.25" font-size="7.7" font-weight="normal" text-anchor="start" fill="#000" stroke="#000" stroke-width="0.12">NKp46/Ig</text>
<path d="M356.8 113.83 L357.3 110.98 L357.8 109.87 L358.3 106.23 L358.8 104.13 L359.3 104.9 L359.8 105.57 L360.3 98.87 L360.8 96.41 L361.3 98.27 L361.8 92.91 L362.3 92.79 L362.8 90.2 L363.3 87.35 L363.8 82.77 L364.3 83.18 L364.8 78.09 L365.3 75.76 L365.8 73.03 L366.3 73.29 L366.8 68.64 L367.3 64.29 L367.8 59.33 L368.3 59.09 L368.8 56.79 L369.3 53.75 L369.8 62.02 L370.3 43.54 L370.8 46.51 L371.3 45.1 L371.8 47.33 L372.3 40.77 L372.8 39.78 L373.3 53.63 L373.8 46.47 L374.3 52.35 L374.8 52.92 L375.3 60.76 L375.8 65.05 L376.3 70.38 L376.8 73.32 L377.3 78.23 L377.8 84.57 L378.3 89.75 L378.8 96.02 L379.3 98.33 L379.8 102.21 L380.3 105.9 L380.8 109.48 L381.3 108.53 L381.8 112.28 L382.3 114.73 L382.8 117.51 L383.3 115.17 L383.8 115.52 L384.3 115.63 L384.8 115.63 L385.3 116.98 L385.8 116.43 L386.3 118.85 L386.8 117.29 L387.3 116.86 L387.8 118.19 L388.3 118.21 L388.8 117.94 L389.3 117.71 L389.8 117.24 L390.3 118.76 L390.8 117.43 L391.3 119.09 L391.8 118.68 L392.3 118.63 L392.8 118.26 L393.3 118.73 L393.8 118.19 L394.3 118.53 L394.8 117.54 L395.3 118.28 L395.8 118.56 L396.3 118.3 L396.8 118.41 L397.3 118.68 L397.8 119.15" fill="none" stroke="#3a3a3a" stroke-width="0.85" stroke-linejoin="round" stroke-dasharray="1.1 0.7" />
<path d="M356.8 112.79 L357.3 112.27 L357.8 105.81 L358.3 104.11 L358.8 105.98 L359.3 101.67 L359.8 102.23 L360.3 98.81 L360.8 92.95 L361.3 91.94 L361.8 87.23 L362.3 90.96 L362.8 89.59 L363.3 87.99 L363.8 85.55 L364.3 80 L364.8 82.3 L365.3 77.53 L365.8 73.18 L366.3 79.02 L366.8 73.04 L367.3 63.63 L367.8 63.3 L368.3 59.72 L368.8 65.1 L369.3 45.76 L369.8 49.02 L370.3 45.09 L370.8 53.1 L371.3 44.57 L371.8 37.46 L372.3 42.59 L372.8 43.42 L373.3 46.52 L373.8 44.95 L374.3 49.8 L374.8 55.82 L375.3 63.6 L375.8 66.71 L376.3 66.7 L376.8 69.08 L377.3 76.54 L377.8 80.19 L378.3 89.48 L378.8 91.02 L379.3 93.67 L379.8 98.08 L380.3 101.34 L380.8 104.39 L381.3 105.91 L381.8 108.45 L382.3 112.05 L382.8 112.79 L383.3 110.75 L383.8 110.51 L384.3 113.31 L384.8 116.4 L385.3 113.39 L385.8 114.9 L386.3 113.75 L386.8 116.72 L387.3 115.74 L387.8 116.71 L388.3 116.1 L388.8 117.78 L389.3 116.21 L389.8 117.84 L390.3 118.12 L390.8 116.96 L391.3 117.51 L391.8 119.32 L392.3 117.76 L392.8 117.73 L393.3 117.53 L393.8 116.38 L394.3 118.39 L394.8 118.3 L395.3 119.16 L395.8 119.3 L396.3 118.61 L396.8 118.11 L397.3 118.19 L397.8 118.01 L398.3 118.12 L398.8 117.83 L399.3 118.65 L399.8 118.26 L400.3 119.13 L400.8 118.31 L401.3 118.22 L401.8 119.06 L402.3 120.1 L402.8 119.09 L403.3 117.33 L403.8 118.97 L404.3 119.03 L404.8 118.73 L405.3 118.31 L405.8 118.57 L406.3 119.09 L406.8 119.56 L407.3 119.06 L407.8 119.35 L408.3 118.75 L408.8 118.3 L409.3 118.4 L409.8 119.24 L410.3 119.45 L410.8 119.62 L411.3 118.76 L411.8 118.53 L412.3 118.76 L412.8 118.87 L413.3 119.61 L413.8 119.96 L414.3 118.48 L414.8 119.43 L415.3 118.23 L415.8 120.1 L416.3 119.73 L416.8 119.58 L417.3 119.1 L417.8 118.96 L418.3 119.44 L418.8 119.07 L419.3 119.91 L419.8 119.46 L420.3 119.85 L420.8 119.52 L421.3 119.66 L421.8 119.14 L422.3 117.83 L422.8 119.87 L423.3 119.39 L423.8 119.02 L424.3 119.23 L424.8 118.71 L425.3 119.87 L425.8 118.94 L426.3 119.72 L426.8 118.95 L427.3 119.32 L427.8 119.23 L428.3 119.73 L428.8 120.1 L429.3 120.01 L429.8 119.08 L430.3 119.68 L430.8 119.22 L431.3 120.1 L431.8 119.17 L432.3 119 L432.8 120.1 L433.3 119.3 L433.8 118.6 L434.3 119.77 L434.8 119.01 L435.3 119.53 L435.8 119.13 L436.3 119.71 L436.8 119.86 L437.3 119.72 L437.8 119.71 L438.3 119.78 L438.8 119.95 L439.3 119.04 L439.8 119.83 L440.3 120.1 L440.8 119.97 L441.3 119.33 L441.8 120.1 L442.3 119.36 L442.8 119.31 L443.3 119.04 L443.8 119.82 L444.3 120.09 L444.8 119.62 L445.3 119.52 L445.8 119.07 L446.3 119.77 L446.8 119.87 L447.3 120.1 L447.8 119.83 L448.3 119.56 L448.8 119.12 L449.3 119.62 L449.8 119.11 L450.3 119.14 L450.8 120.04 L451.3 120.1 L451.8 120.05 L452.3 119.85 L452.8 120.1 L453.3 119.44 L453.8 119.5 L454.3 119.22 L454.8 119.66 L455.3 119.98" fill="none" stroke="#555" stroke-width="0.75" stroke-linejoin="round" />
<path d="M356.7 111.77 L357.2 111.86 L357.7 110.16 L358.2 107.6 L358.7 103.7 L359.2 106.97 L359.7 99.15 L360.2 99.79 L360.7 98.77 L361.2 97.18 L361.7 91.16 L362.2 87.44 L362.7 84.02 L363.2 88.8 L363.7 79.11 L364.2 84.29 L364.7 78.57 L365.2 76.25 L365.7 80.22 L366.2 72.25 L366.7 75.16 L367.2 65.6 L367.7 68.77 L368.2 71.33 L368.7 64.94 L369.2 54.72 L369.7 53.5 L370.2 51.72 L370.7 55.14 L371.2 43.93 L371.7 46.47 L372.2 45.52 L372.7 38.94 L373.2 48.88 L373.7 56.88 L374.2 45.14 L374.7 53.74 L375.2 58.68 L375.7 56.41 L376.2 66.09 L376.7 64.79 L377.2 72.66 L377.7 69.65 L378.2 87.04 L378.7 87.01 L379.2 91.07 L379.7 92.95 L380.2 98 L380.7 101.59 L381.2 100.67 L381.7 105.15 L382.2 104.99 L382.7 108.12 L383.2 111.17 L383.7 112.39 L384.2 115.31 L384.7 110.48 L385.2 114.69 L385.7 114.5 L386.2 111.43 L386.7 116.24 L387.2 115.99 L387.7 114.84 L388.2 116.56 L388.7 115.54 L389.2 115.98 L389.7 115.53 L390.2 116.15 L390.7 115.45 L391.2 117.37 L391.7 115.77 L392.2 115.23 L392.7 119.04 L393.2 116.95 L393.7 116.72 L394.2 119.03 L394.7 120.1 L395.2 116.94 L395.7 117.63 L396.2 116.58 L396.7 117.45 L397.2 117.22 L397.7 117.8 L398.2 117.61 L398.7 118.47 L399.2 118.09 L399.7 117.32 L400.2 117.85 L400.7 117.37 L401.2 118.06 L401.7 118.3 L402.2 118.51 L402.7 117.48 L403.2 118.24 L403.7 117.88 L404.2 119.17 L404.7 118.27 L405.2 117.82 L405.7 118.67 L406.2 119.24 L406.7 118.27 L407.2 118.2 L407.7 118.29 L408.2 118.63 L408.7 117.83 L409.2 118.38 L409.7 119.07 L410.2 117.96 L410.7 118.27 L411.2 118.96 L411.7 117.9 L412.2 118.85 L412.7 117.82 L413.2 118.9 L413.7 118.33 L414.2 117.68 L414.7 118.07 L415.2 118.17 L415.7 118.54 L416.2 118.05 L416.7 118.53 L417.2 118.52 L417.7 118.97 L418.2 117.63 L418.7 119.19 L419.2 118.24 L419.7 119.32 L420.2 118.41 L420.7 118 L421.2 119.36 L421.7 117.8 L422.2 119.34 L422.7 119.39 L423.2 118.64 L423.7 119.28 L424.2 118.05 L424.7 118.84 L425.2 120.1 L425.7 119.67 L426.2 119.21 L426.7 118.81 L427.2 119.42 L427.7 119.18 L428.2 118.74 L428.7 119.45 L429.2 118.69 L429.7 119.56 L430.2 118.7 L430.7 118.15 L431.2 119.64 L431.7 120.1 L432.2 119.89 L432.7 118.65 L433.2 119.41 L433.7 118.53 L434.2 119.8 L434.7 119.66 L435.2 119.22 L435.7 118.61 L436.2 119.41 L436.7 119.55 L437.2 119.07 L437.7 119.05 L438.2 118.81 L438.7 119.23 L439.2 119.43 L439.7 119.22 L440.2 120.1 L440.7 119.24 L441.2 118.65 L441.7 119.01 L442.2 119.88 L442.7 119.95 L443.2 118.51 L443.7 119.47 L444.2 119.28 L444.7 119.2 L445.2 119.65 L445.7 119.27 L446.2 118.62 L446.7 119.64 L447.2 118.34 L447.7 119.14 L448.2 119.24 L448.7 118.89 L449.2 118.94 L449.7 118.82 L450.2 119 L450.7 119.71 L451.2 118.71 L451.7 119.38 L452.2 119.64 L453 119.2 L453.3 96.2 L453.6 119.5 L455.5 119.7" fill="none" stroke="#111" stroke-width="1.4" stroke-linejoin="round" />
<text transform="translate(66.4 115.8) rotate(-90)" font-size="8.9" fill="#000">Relative number of cells</text>
<line x1="62.5" y1="118.3" x2="62.5" y2="130.5" stroke="#444" stroke-width="0.8" />
<line x1="62.9" y1="16.5" x2="62.9" y2="19.3" stroke="#555" stroke-width="0.7" />
<path d="M62.9 12.6 L60.3 17.1 L65.5 17.1 Z" fill="#111"/>
<line x1="81.5" y1="151.8" x2="185.5" y2="151.8" stroke="#555" stroke-width="0.8" />
<text x="194.3" y="156.6" font-size="15.2" font-weight="normal" text-anchor="start" fill="#111" >Fluorescent intensity</text>
<line x1="342" y1="151.5" x2="455" y2="151.5" stroke="#555" stroke-width="0.8" />
<path d="M458.5 151.5 L453.5 149.3 L453.5 153.7 Z" fill="#111"/>
<path d="M51.5 202h0.5v0.5h-0.5zM57.5 206h0.5v0.5h-0.5zM56 207.5h0.5v0.5h-0.5zM53.5 208.5h0.5v0.5h-0.5zM60 209h0.5v0.5h-0.5zM57 210h0.5v0.5h-0.5zM63.5 210.5h0.5v0.5h-0.5zM45 212.5h0.5v0.5h-0.5zM52 212.5h0.5v0.5h-0.5zM53 213.5h0.5v0.5h-0.5zM56.5 213.5h0.5v0.5h-0.5zM66.5 213.5h0.5v0.5h-0.5zM56.5 214h0.5v0.5h-0.5zM45.5 215.5h0.5v0.5h-0.5zM58.5 215.5h0.5v0.5h-0.5zM65.5 215.5h0.5v0.5h-0.5zM52.5 216h0.5v0.5h-0.5zM56 216h0.5v0.5h-0.5zM66 216h0.5v0.5h-0.5zM51.5 216.5h0.5v0.5h-0.5zM53.5 216.5h0.5v0.5h-0.5zM56 217h0.5v0.5h-0.5zM52.5 217.5h0.5v0.5h-0.5zM59.5 218h0.5v0.5h-0.5zM56.5 219.5h0.5v0.5h-0.5zM54 220.5h0.5v0.5h-0.5zM58.5 220.5h0.5v0.5h-0.5zM45 221h0.5v0.5h-0.5zM47 221h0.5v0.5h-0.5zM40.5 221.5h1v0.5h-1zM52.5 221.5h0.5v0.5h-0.5zM53.5 222h0.5v0.5h-0.5zM59 223.5h0.5v0.5h-0.5zM67 223.5h0.5v0.5h-0.5zM52.5 224h0.5v0.5h-0.5zM67 224h0.5v0.5h-0.5zM52 224.5h0.5v0.5h-0.5zM48.5 225h0.5v0.5h-0.5zM48 225.5h0.5v0.5h-0.5zM52 225.5h0.5v0.5h-0.5zM59.5 225.5h0.5v0.5h-0.5zM48.5 226h0.5v0.5h-0.5zM52 226h0.5v0.5h-0.5zM53.5 226h0.5v0.5h-0.5zM72.5 226h0.5v0.5h-0.5zM51.5 226.5h0.5v0.5h-0.5zM54.5 227h0.5v0.5h-0.5zM65.5 227h0.5v0.5h-0.5zM50.5 227.5h0.5v0.5h-0.5zM51 228h0.5v0.5h-0.5zM56 228h0.5v0.5h-0.5zM55 228.5h0.5v0.5h-0.5zM60 228.5h0.5v0.5h-0.5zM64 228.5h0.5v0.5h-0.5zM67 228.5h0.5v0.5h-0.5zM70 228.5h0.5v0.5h-0.5zM38.5 229h0.5v0.5h-0.5zM67.5 229.5h0.5v0.5h-0.5zM55.5 230.5h0.5v0.5h-0.5zM68.5 230.5h0.5v0.5h-0.5zM70.5 230.5h0.5v0.5h-0.5zM69 231h0.5v0.5h-0.5zM43.5 231.5h0.5v0.5h-0.5zM57.5 231.5h0.5v0.5h-0.5zM47.5 232h0.5v0.5h-0.5zM54 232h0.5v0.5h-0.5zM66 232h0.5v0.5h-0.5zM68.5 232h0.5v0.5h-0.5zM74.5 232h0.5v0.5h-0.5zM41 232.5h0.5v0.5h-0.5zM44 232.5h0.5v0.5h-0.5zM55.5 232.5h0.5v0.5h-0.5zM38.5 233h0.5v0.5h-0.5zM62.5 233h0.5v0.5h-0.5zM52 233.5h0.5v0.5h-0.5zM54.5 233.5h0.5v0.5h-0.5zM61.5 233.5h0.5v0.5h-0.5zM49.5 234h0.5v0.5h-0.5zM51.5 234h1v0.5h-1zM60 234h0.5v0.5h-0.5zM70.5 234h0.5v0.5h-0.5zM56.5 235h0.5v0.5h-0.5zM60.5 235h0.5v0.5h-0.5zM48 235.5h0.5v0.5h-0.5zM59 235.5h0.5v0.5h-0.5zM46 236h0.5v0.5h-0.5zM53.5 236h0.5v0.5h-0.5zM56 236h0.5v0.5h-0.5zM57 236h0.5v0.5h-0.5zM65.5 236h0.5v0.5h-0.5zM47.5 237h0.5v0.5h-0.5zM49 237h0.5v0.5h-0.5zM62 237h0.5v0.5h-0.5zM49 237.5h0.5v0.5h-0.5zM63.5 237.5h0.5v0.5h-0.5zM84.5 237.5h0.5v0.5h-0.5zM54.5 238h0.5v0.5h-0.5zM59 238h0.5v0.5h-0.5zM52.5 238.5h0.5v0.5h-0.5zM53.5 238.5h0.5v0.5h-0.5zM61 238.5h0.5v0.5h-0.5zM43.5 239h0.5v0.5h-0.5zM57 239h0.5v0.5h-0.5zM64 239h0.5v0.5h-0.5zM46.5 239.5h0.5v0.5h-0.5zM57.5 239.5h0.5v0.5h-0.5zM67.5 239.5h0.5v0.5h-0.5zM73 239.5h0.5v0.5h-0.5zM45 240h0.5v0.5h-0.5zM63.5 240h0.5v0.5h-0.5zM52.5 240.5h0.5v0.5h-0.5zM54.5 241h0.5v0.5h-0.5zM59 241h0.5v0.5h-0.5zM67 241h0.5v0.5h-0.5zM68.5 241h0.5v0.5h-0.5zM47.5 241.5h0.5v0.5h-0.5zM59.5 241.5h1v0.5h-1zM77 241.5h0.5v0.5h-0.5zM51 242h0.5v0.5h-0.5zM42.5 242.5h0.5v0.5h-0.5zM52.5 242.5h0.5v0.5h-0.5zM56 242.5h0.5v0.5h-0.5zM59.5 242.5h0.5v0.5h-0.5zM63.5 242.5h1v0.5h-1zM54 243h0.5v0.5h-0.5zM58 243h1v0.5h-1zM65.5 243h0.5v0.5h-0.5zM73.5 243h0.5v0.5h-0.5zM55 243.5h0.5v0.5h-0.5zM63 243.5h0.5v0.5h-0.5zM65.5 243.5h0.5v0.5h-0.5zM68.5 243.5h0.5v0.5h-0.5zM75 243.5h0.5v0.5h-0.5zM48.5 244h0.5v0.5h-0.5zM55.5 244h0.5v0.5h-0.5zM57 244h0.5v0.5h-0.5zM85.5 244h0.5v0.5h-0.5zM64 244.5h0.5v0.5h-0.5zM74.5 244.5h0.5v0.5h-0.5zM38.5 245h0.5v0.5h-0.5zM49 245h0.5v0.5h-0.5zM52.5 245h0.5v0.5h-0.5zM62.5 245h0.5v0.5h-0.5zM65 245h0.5v0.5h-0.5zM67 245h0.5v0.5h-0.5zM88.5 245h0.5v0.5h-0.5zM41.5 245.5h0.5v0.5h-0.5zM54 245.5h1v0.5h-1zM60.5 245.5h0.5v0.5h-0.5zM62 245.5h0.5v0.5h-0.5zM69 245.5h0.5v0.5h-0.5zM47 246h0.5v0.5h-0.5zM55 246h0.5v0.5h-0.5zM58 246h0.5v0.5h-0.5zM63 246h0.5v0.5h-0.5zM64.5 246h0.5v0.5h-0.5zM68.5 246h0.5v0.5h-0.5zM72.5 246h0.5v0.5h-0.5zM47.5 246.5h0.5v0.5h-0.5zM53 246.5h0.5v0.5h-0.5zM57.5 246.5h0.5v0.5h-0.5zM59 246.5h0.5v0.5h-0.5zM74 246.5h0.5v0.5h-0.5zM45.5 247h0.5v0.5h-0.5zM48.5 247h0.5v0.5h-0.5zM50 247h0.5v0.5h-0.5zM58 247h0.5v0.5h-0.5zM60.5 247h0.5v0.5h-0.5zM63 247h0.5v0.5h-0.5zM58 247.5h0.5v0.5h-0.5zM59.5 247.5h0.5v0.5h-0.5zM61.5 247.5h0.5v0.5h-0.5zM89 247.5h0.5v0.5h-0.5zM43.5 248h0.5v0.5h-0.5zM49.5 248h1v0.5h-1zM55 248h0.5v0.5h-0.5zM57.5 248h0.5v0.5h-0.5zM59 248h0.5v0.5h-0.5zM65 248h0.5v0.5h-0.5zM67.5 248h0.5v0.5h-0.5zM77.5 248h0.5v0.5h-0.5zM80.5 248h0.5v0.5h-0.5zM52 248.5h0.5v0.5h-0.5zM53 248.5h0.5v0.5h-0.5zM54 248.5h0.5v0.5h-0.5zM55 248.5h0.5v0.5h-0.5zM56.5 248.5h0.5v0.5h-0.5zM58 248.5h0.5v0.5h-0.5zM59.5 248.5h0.5v0.5h-0.5zM71.5 248.5h0.5v0.5h-0.5zM91.5 248.5h0.5v0.5h-0.5zM97 248.5h0.5v0.5h-0.5zM43.5 249h0.5v0.5h-0.5zM55 249h0.5v0.5h-0.5zM56 249h0.5v0.5h-0.5zM69 249h0.5v0.5h-0.5zM72 249h0.5v0.5h-0.5zM82 249h0.5v0.5h-0.5zM84.5 249h0.5v0.5h-0.5zM39 249.5h0.5v0.5h-0.5zM65.5 249.5h1v0.5h-1zM71.5 249.5h0.5v0.5h-0.5zM89.5 249.5h0.5v0.5h-0.5zM42 250h0.5v0.5h-0.5zM48.5 250h0.5v0.5h-0.5zM57 250h0.5v0.5h-0.5zM63.5 250h0.5v0.5h-0.5zM69.5 250h0.5v0.5h-0.5zM47 250.5h0.5v0.5h-0.5zM63 250.5h0.5v0.5h-0.5zM84 250.5h0.5v0.5h-0.5zM41 251h0.5v0.5h-0.5zM43 251h0.5v0.5h-0.5zM44 251h0.5v0.5h-0.5zM53.5 251h0.5v0.5h-0.5zM60.5 251h0.5v0.5h-0.5zM71 251h0.5v0.5h-0.5zM72 251h0.5v0.5h-0.5zM80 251h0.5v0.5h-0.5zM33 251.5h0.5v0.5h-0.5zM50.5 251.5h0.5v0.5h-0.5zM58.5 251.5h1.5v0.5h-1.5zM63.5 251.5h0.5v0.5h-0.5zM73 251.5h1v0.5h-1zM103 251.5h0.5v0.5h-0.5zM38.5 252h0.5v0.5h-0.5zM40.5 252h0.5v0.5h-0.5zM42 252h0.5v0.5h-0.5zM45 252h0.5v0.5h-0.5zM50.5 252h0.5v0.5h-0.5zM51.5 252h0.5v0.5h-0.5zM52.5 252h0.5v0.5h-0.5zM54.5 252h0.5v0.5h-0.5zM67.5 252h0.5v0.5h-0.5zM70.5 252h0.5v0.5h-0.5zM86.5 252h0.5v0.5h-0.5zM42.5 252.5h0.5v0.5h-0.5zM43.5 252.5h0.5v0.5h-0.5zM47.5 252.5h0.5v0.5h-0.5zM51.5 252.5h0.5v0.5h-0.5zM59 252.5h0.5v0.5h-0.5zM62.5 252.5h0.5v0.5h-0.5zM64 252.5h0.5v0.5h-0.5zM67 252.5h0.5v0.5h-0.5zM85.5 252.5h0.5v0.5h-0.5zM94 252.5h0.5v0.5h-0.5zM33 253h0.5v0.5h-0.5zM35 253h0.5v0.5h-0.5zM48.5 253h0.5v0.5h-0.5zM51 253h0.5v0.5h-0.5zM58 253h0.5v0.5h-0.5zM66 253h0.5v0.5h-0.5zM72.5 253h0.5v0.5h-0.5zM75.5 253h0.5v0.5h-0.5zM81 253h0.5v0.5h-0.5zM88 253h0.5v0.5h-0.5zM44.5 253.5h0.5v0.5h-0.5zM55 253.5h0.5v0.5h-0.5zM62 253.5h0.5v0.5h-0.5zM63.5 253.5h1v0.5h-1zM70 253.5h0.5v0.5h-0.5zM72.5 253.5h0.5v0.5h-0.5zM74 253.5h0.5v0.5h-0.5zM80 253.5h0.5v0.5h-0.5zM82 253.5h0.5v0.5h-0.5zM43.5 254h0.5v0.5h-0.5zM54 254h0.5v0.5h-0.5zM57 254h0.5v0.5h-0.5zM58 254h0.5v0.5h-0.5zM60 254h0.5v0.5h-0.5zM61.5 254h0.5v0.5h-0.5zM64.5 254h0.5v0.5h-0.5zM67.5 254h0.5v0.5h-0.5zM71.5 254h0.5v0.5h-0.5zM73 254h0.5v0.5h-0.5zM74.5 254h0.5v0.5h-0.5zM103 254h0.5v0.5h-0.5zM37 254.5h0.5v0.5h-0.5zM45 254.5h0.5v0.5h-0.5zM46 254.5h0.5v0.5h-0.5zM53 254.5h0.5v0.5h-0.5zM54.5 254.5h0.5v0.5h-0.5zM57 254.5h0.5v0.5h-0.5zM59 254.5h0.5v0.5h-0.5zM60.5 254.5h0.5v0.5h-0.5zM61.5 254.5h0.5v0.5h-0.5zM62.5 254.5h0.5v0.5h-0.5zM63.5 254.5h0.5v0.5h-0.5zM66 254.5h0.5v0.5h-0.5zM83.5 254.5h0.5v0.5h-0.5zM95.5 254.5h0.5v0.5h-0.5zM39 255h0.5v0.5h-0.5zM51 255h0.5v0.5h-0.5zM54 255h0.5v0.5h-0.5zM56 255h0.5v0.5h-0.5zM57 255h0.5v0.5h-0.5zM59 255h1.5v0.5h-1.5zM61 255h0.5v0.5h-0.5zM62 255h1v0.5h-1zM64 255h1v0.5h-1zM73 255h1v0.5h-1zM80 255h0.5v0.5h-0.5zM36.5 255.5h0.5v0.5h-0.5zM44 255.5h0.5v0.5h-0.5zM46 255.5h1v0.5h-1zM48.5 255.5h0.5v0.5h-0.5zM52 255.5h0.5v0.5h-0.5zM53.5 255.5h0.5v0.5h-0.5zM54.5 255.5h0.5v0.5h-0.5zM56 255.5h0.5v0.5h-0.5zM60 255.5h1v0.5h-1zM67.5 255.5h0.5v0.5h-0.5zM76.5 255.5h0.5v0.5h-0.5zM79.5 255.5h0.5v0.5h-0.5zM95 255.5h0.5v0.5h-0.5zM43 256h0.5v0.5h-0.5zM44.5 256h0.5v0.5h-0.5zM51.5 256h0.5v0.5h-0.5zM52.5 256h0.5v0.5h-0.5zM55.5 256h1v0.5h-1zM58.5 256h0.5v0.5h-0.5zM61 256h0.5v0.5h-0.5zM62 256h0.5v0.5h-0.5zM70.5 256h0.5v0.5h-0.5zM82 256h0.5v0.5h-0.5zM97 256h0.5v0.5h-0.5zM43 256.5h0.5v0.5h-0.5zM44.5 256.5h1v0.5h-1zM51 256.5h0.5v0.5h-0.5zM52 256.5h0.5v0.5h-0.5zM58 256.5h0.5v0.5h-0.5zM59 256.5h0.5v0.5h-0.5zM63 256.5h0.5v0.5h-0.5zM73 256.5h0.5v0.5h-0.5zM40.5 257h0.5v0.5h-0.5zM44.5 257h0.5v0.5h-0.5zM52 257h0.5v0.5h-0.5zM53 257h0.5v0.5h-0.5zM56 257h1v0.5h-1zM65.5 257h0.5v0.5h-0.5zM70.5 257h0.5v0.5h-0.5zM85.5 257h0.5v0.5h-0.5zM87 257h0.5v0.5h-0.5zM97 257h0.5v0.5h-0.5zM30.5 257.5h0.5v0.5h-0.5zM50.5 257.5h0.5v0.5h-0.5zM52 257.5h0.5v0.5h-0.5zM54.5 257.5h0.5v0.5h-0.5zM57 257.5h1.5v0.5h-1.5zM59 257.5h0.5v0.5h-0.5zM61.5 257.5h0.5v0.5h-0.5zM63.5 257.5h0.5v0.5h-0.5zM65.5 257.5h0.5v0.5h-0.5zM67 257.5h0.5v0.5h-0.5zM73 257.5h0.5v0.5h-0.5zM77.5 257.5h1v0.5h-1zM79.5 257.5h0.5v0.5h-0.5zM82 257.5h0.5v0.5h-0.5zM89.5 257.5h0.5v0.5h-0.5zM95.5 257.5h0.5v0.5h-0.5zM59 258h0.5v0.5h-0.5zM60 258h0.5v0.5h-0.5zM63 258h0.5v0.5h-0.5zM69 258h0.5v0.5h-0.5zM75.5 258h0.5v0.5h-0.5zM78 258h0.5v0.5h-0.5zM83 258h0.5v0.5h-0.5zM96.5 258h0.5v0.5h-0.5zM32 258.5h0.5v0.5h-0.5zM70.5 258.5h0.5v0.5h-0.5zM79.5 258.5h0.5v0.5h-0.5zM84.5 258.5h0.5v0.5h-0.5zM85.5 258.5h0.5v0.5h-0.5zM96 258.5h0.5v0.5h-0.5zM100.5 258.5h0.5v0.5h-0.5zM30 259h0.5v0.5h-0.5zM35.5 259h0.5v0.5h-0.5zM51 259h0.5v0.5h-0.5zM59.5 259h0.5v0.5h-0.5zM61.5 259h0.5v0.5h-0.5zM68.5 259h1v0.5h-1zM75.5 259h0.5v0.5h-0.5zM79.5 259h0.5v0.5h-0.5zM84 259h0.5v0.5h-0.5zM53.5 259.5h0.5v0.5h-0.5zM66 259.5h0.5v0.5h-0.5zM67.5 259.5h0.5v0.5h-0.5zM70.5 259.5h0.5v0.5h-0.5zM74.5 259.5h0.5v0.5h-0.5zM80 259.5h0.5v0.5h-0.5zM71 260h0.5v0.5h-0.5zM75 260h0.5v0.5h-0.5zM76 260h1v0.5h-1zM80.5 260h0.5v0.5h-0.5zM82.5 260h0.5v0.5h-0.5zM92.5 260h0.5v0.5h-0.5zM95.5 260h0.5v0.5h-0.5zM110 260h0.5v0.5h-0.5zM30.5 260.5h0.5v0.5h-0.5zM58.5 260.5h1v0.5h-1zM62.5 260.5h0.5v0.5h-0.5zM68 260.5h0.5v0.5h-0.5zM70.5 260.5h0.5v0.5h-0.5zM79.5 260.5h0.5v0.5h-0.5zM84 260.5h0.5v0.5h-0.5zM91 260.5h0.5v0.5h-0.5zM38 261h0.5v0.5h-0.5zM55 261h0.5v0.5h-0.5zM57.5 261h0.5v0.5h-0.5zM59.5 261h0.5v0.5h-0.5zM66 261h0.5v0.5h-0.5zM71 261h0.5v0.5h-0.5zM81.5 261h0.5v0.5h-0.5zM85.5 261h0.5v0.5h-0.5zM89.5 261h1v0.5h-1zM93 261h0.5v0.5h-0.5zM47.5 261.5h0.5v0.5h-0.5zM63 261.5h0.5v0.5h-0.5zM66 261.5h0.5v0.5h-0.5zM74 261.5h0.5v0.5h-0.5zM76.5 261.5h0.5v0.5h-0.5zM81 261.5h0.5v0.5h-0.5zM83 261.5h0.5v0.5h-0.5zM52.5 262h0.5v0.5h-0.5zM55.5 262h0.5v0.5h-0.5zM62 262h0.5v0.5h-0.5zM64.5 262h0.5v0.5h-0.5zM67.5 262h0.5v0.5h-0.5zM74.5 262h0.5v0.5h-0.5zM81.5 262h1v0.5h-1zM83 262h0.5v0.5h-0.5zM86.5 262h0.5v0.5h-0.5zM88.5 262h0.5v0.5h-0.5zM90 262h0.5v0.5h-0.5zM92 262h0.5v0.5h-0.5zM93 262h0.5v0.5h-0.5zM43 262.5h0.5v0.5h-0.5zM46 262.5h0.5v0.5h-0.5zM47.5 262.5h0.5v0.5h-0.5zM49.5 262.5h0.5v0.5h-0.5zM57.5 262.5h0.5v0.5h-0.5zM60 262.5h0.5v0.5h-0.5zM65 262.5h0.5v0.5h-0.5zM66 262.5h0.5v0.5h-0.5zM69 262.5h1v0.5h-1zM70.5 262.5h0.5v0.5h-0.5zM71.5 262.5h0.5v0.5h-0.5zM73 262.5h0.5v0.5h-0.5zM75 262.5h0.5v0.5h-0.5zM85.5 262.5h0.5v0.5h-0.5zM87.5 262.5h0.5v0.5h-0.5zM89.5 262.5h1v0.5h-1zM92.5 262.5h0.5v0.5h-0.5zM95.5 262.5h0.5v0.5h-0.5zM35.5 263h0.5v0.5h-0.5zM64.5 263h0.5v0.5h-0.5zM67.5 263h0.5v0.5h-0.5zM71.5 263h0.5v0.5h-0.5zM75.5 263h0.5v0.5h-0.5zM76.5 263h1v0.5h-1zM81 263h0.5v0.5h-0.5zM83.5 263h1v0.5h-1zM90 263h0.5v0.5h-0.5zM91 263h0.5v0.5h-0.5zM97.5 263h1v0.5h-1zM72 263.5h0.5v0.5h-0.5zM89.5 263.5h0.5v0.5h-0.5zM91 263.5h0.5v0.5h-0.5zM98.5 263.5h0.5v0.5h-0.5zM34.5 264h0.5v0.5h-0.5zM47 264h0.5v0.5h-0.5zM56 264h0.5v0.5h-0.5zM59 264h0.5v0.5h-0.5zM62 264h0.5v0.5h-0.5zM79 264h0.5v0.5h-0.5zM67.5 264.5h0.5v0.5h-0.5zM82.5 264.5h0.5v0.5h-0.5zM46.5 265h0.5v0.5h-0.5zM82.5 265h0.5v0.5h-0.5zM86 265h0.5v0.5h-0.5zM33.5 265.5h0.5v0.5h-0.5zM52 265.5h0.5v0.5h-0.5zM71 265.5h1v0.5h-1zM85 265.5h0.5v0.5h-0.5zM73 266h1v0.5h-1zM81 266h0.5v0.5h-0.5zM37.5 266.5h0.5v0.5h-0.5zM51.5 266.5h1v0.5h-1zM57 266.5h0.5v0.5h-0.5zM62 266.5h0.5v0.5h-0.5zM68.5 266.5h0.5v0.5h-0.5zM37.5 267h0.5v0.5h-0.5zM74 267h0.5v0.5h-0.5zM54 267.5h0.5v0.5h-0.5zM55 267.5h1v0.5h-1zM31.5 268h0.5v0.5h-0.5zM55 268h0.5v0.5h-0.5zM43.5 268.5h0.5v0.5h-0.5zM71.5 269h0.5v0.5h-0.5zM44 270h0.5v0.5h-0.5zM55 270h0.5v0.5h-0.5zM61.5 270h0.5v0.5h-0.5zM66 270h0.5v0.5h-0.5zM76 270h0.5v0.5h-0.5zM65.5 270.5h0.5v0.5h-0.5zM82 270.5h0.5v0.5h-0.5zM39 271h0.5v0.5h-0.5zM49 271h0.5v0.5h-0.5zM54.5 271h0.5v0.5h-0.5zM67.5 271.5h0.5v0.5h-0.5zM70.5 271.5h0.5v0.5h-0.5zM65.5 272h0.5v0.5h-0.5zM67.5 272h0.5v0.5h-0.5zM75.5 272h0.5v0.5h-0.5zM30.5 272.5h0.5v0.5h-0.5zM40 272.5h0.5v0.5h-0.5zM49.5 272.5h0.5v0.5h-0.5zM49 273h0.5v0.5h-0.5zM65 273h0.5v0.5h-0.5zM72 273h0.5v0.5h-0.5zM73.5 273h0.5v0.5h-0.5zM52.5 273.5h0.5v0.5h-0.5zM58.5 273.5h0.5v0.5h-0.5zM82 273.5h0.5v0.5h-0.5zM45 274h0.5v0.5h-0.5zM56.5 274h0.5v0.5h-0.5zM34.5 274.5h0.5v0.5h-0.5zM37 274.5h0.5v0.5h-0.5zM76.5 274.5h0.5v0.5h-0.5zM55.5 275h0.5v0.5h-0.5zM64 275h0.5v0.5h-0.5zM76 275h0.5v0.5h-0.5zM83.5 275h0.5v0.5h-0.5zM32 275.5h0.5v0.5h-0.5zM59 275.5h0.5v0.5h-0.5zM65 276.5h0.5v0.5h-0.5zM39 277h0.5v0.5h-0.5zM81.5 277h0.5v0.5h-0.5zM39 277.5h0.5v0.5h-0.5zM75 277.5h1v0.5h-1zM60.5 278h0.5v0.5h-0.5zM77.5 278h1v0.5h-1zM83.5 278h0.5v0.5h-0.5zM38.5 278.5h0.5v0.5h-0.5zM63.5 278.5h0.5v0.5h-0.5zM82 278.5h0.5v0.5h-0.5zM85 278.5h0.5v0.5h-0.5zM33 279h0.5v0.5h-0.5zM66.5 279.5h0.5v0.5h-0.5z" fill="#6a6a6a"/>
<path d="M63.5 233h0.5v0.5h-0.5zM59 234.5h0.5v0.5h-0.5zM55.5 235h0.5v0.5h-0.5zM53 235.5h0.5v0.5h-0.5zM55 236.5h0.5v0.5h-0.5zM59 236.5h0.5v0.5h-0.5zM63 236.5h0.5v0.5h-0.5zM64 236.5h1v0.5h-1zM52 237h0.5v0.5h-0.5zM55 237h0.5v0.5h-0.5zM59 237h1v0.5h-1zM62 237h0.5v0.5h-0.5zM58 237.5h0.5v0.5h-0.5zM60 237.5h1v0.5h-1zM62.5 237.5h1v0.5h-1zM55 238h0.5v0.5h-0.5zM61 238h1v0.5h-1zM64 238h0.5v0.5h-0.5zM57 238.5h1v0.5h-1zM58.5 238.5h0.5v0.5h-0.5zM61.5 238.5h0.5v0.5h-0.5zM52 239h0.5v0.5h-0.5zM57.5 239h0.5v0.5h-0.5zM59 239h0.5v0.5h-0.5zM60 239h1.5v0.5h-1.5zM62 239h1v0.5h-1zM66.5 239h0.5v0.5h-0.5zM50 239.5h0.5v0.5h-0.5zM55.5 239.5h0.5v0.5h-0.5zM57 239.5h1.5v0.5h-1.5zM59 239.5h0.5v0.5h-0.5zM60 239.5h1v0.5h-1zM61.5 239.5h0.5v0.5h-0.5zM62.5 239.5h1v0.5h-1zM65 239.5h0.5v0.5h-0.5zM54.5 240h0.5v0.5h-0.5zM55.5 240h0.5v0.5h-0.5zM56.5 240h0.5v0.5h-0.5zM57.5 240h1v0.5h-1zM59 240h1.5v0.5h-1.5zM61.5 240h3v0.5h-3zM54.5 240.5h0.5v0.5h-0.5zM56.5 240.5h0.5v0.5h-0.5zM57.5 240.5h4v0.5h-4zM62 240.5h2.5v0.5h-2.5zM53 241h0.5v0.5h-0.5zM55 241h1v0.5h-1zM56.5 241h5.5v0.5h-5.5zM62.5 241h1.5v0.5h-1.5zM64.5 241h0.5v0.5h-0.5zM66 241h0.5v0.5h-0.5zM41.5 241.5h0.5v0.5h-0.5zM56 241.5h2.5v0.5h-2.5zM59 241.5h5v0.5h-5zM66.5 241.5h0.5v0.5h-0.5zM49 242h0.5v0.5h-0.5zM51.5 242h0.5v0.5h-0.5zM54.5 242h0.5v0.5h-0.5zM55.5 242h1.5v0.5h-1.5zM57.5 242h8v0.5h-8zM66 242h0.5v0.5h-0.5zM47 242.5h0.5v0.5h-0.5zM48 242.5h0.5v0.5h-0.5zM49.5 242.5h0.5v0.5h-0.5zM53 242.5h0.5v0.5h-0.5zM54.5 242.5h1v0.5h-1zM56 242.5h8v0.5h-8zM65 242.5h0.5v0.5h-0.5zM66 242.5h0.5v0.5h-0.5zM51 243h0.5v0.5h-0.5zM52.5 243h1v0.5h-1zM54.5 243h9v0.5h-9zM64.5 243h0.5v0.5h-0.5zM66.5 243h0.5v0.5h-0.5zM52 243.5h1.5v0.5h-1.5zM54 243.5h10v0.5h-10zM66 243.5h0.5v0.5h-0.5zM67.5 243.5h0.5v0.5h-0.5zM45.5 244h0.5v0.5h-0.5zM51 244h0.5v0.5h-0.5zM52 244h2v0.5h-2zM54.5 244h9v0.5h-9zM64 244h1v0.5h-1zM43.5 244.5h0.5v0.5h-0.5zM47 244.5h0.5v0.5h-0.5zM50.5 244.5h1v0.5h-1zM52.5 244.5h12.5v0.5h-12.5zM65.5 244.5h0.5v0.5h-0.5zM47.5 245h0.5v0.5h-0.5zM50 245h2v0.5h-2zM52.5 245h10.5v0.5h-10.5zM63.5 245h1v0.5h-1zM65 245h1v0.5h-1zM45.5 245.5h1v0.5h-1zM50.5 245.5h1v0.5h-1zM52 245.5h1v0.5h-1zM53.5 245.5h9.5v0.5h-9.5zM63.5 245.5h1v0.5h-1zM65 245.5h1v0.5h-1zM67.5 245.5h0.5v0.5h-0.5zM44.5 246h0.5v0.5h-0.5zM47.5 246h0.5v0.5h-0.5zM49 246h0.5v0.5h-0.5zM50.5 246h0.5v0.5h-0.5zM51.5 246h3v0.5h-3zM55 246h9.5v0.5h-9.5zM66 246h0.5v0.5h-0.5zM44 246.5h0.5v0.5h-0.5zM46 246.5h0.5v0.5h-0.5zM47.5 246.5h0.5v0.5h-0.5zM50 246.5h13.5v0.5h-13.5zM64 246.5h2v0.5h-2zM45.5 247h0.5v0.5h-0.5zM48 247h1.5v0.5h-1.5zM50.5 247h12.5v0.5h-12.5zM63.5 247h2.5v0.5h-2.5zM67.5 247h0.5v0.5h-0.5zM49 247.5h14.5v0.5h-14.5zM64 247.5h1.5v0.5h-1.5zM38.5 248h0.5v0.5h-0.5zM43 248h0.5v0.5h-0.5zM44 248h0.5v0.5h-0.5zM48.5 248h1v0.5h-1zM50.5 248h13.5v0.5h-13.5zM64.5 248h0.5v0.5h-0.5zM65.5 248h0.5v0.5h-0.5zM44.5 248.5h0.5v0.5h-0.5zM45.5 248.5h0.5v0.5h-0.5zM48 248.5h0.5v0.5h-0.5zM49 248.5h15.5v0.5h-15.5zM65 248.5h0.5v0.5h-0.5zM66 248.5h0.5v0.5h-0.5zM67 248.5h0.5v0.5h-0.5zM68.5 248.5h0.5v0.5h-0.5zM46.5 249h1v0.5h-1zM48.5 249h15v0.5h-15zM64 249h1.5v0.5h-1.5zM66.5 249h0.5v0.5h-0.5zM44.5 249.5h0.5v0.5h-0.5zM46 249.5h16.5v0.5h-16.5zM63 249.5h2v0.5h-2zM71.5 249.5h0.5v0.5h-0.5zM45.5 250h0.5v0.5h-0.5zM46.5 250h0.5v0.5h-0.5zM47.5 250h15.5v0.5h-15.5zM63.5 250h0.5v0.5h-0.5zM65 250h0.5v0.5h-0.5zM67 250h0.5v0.5h-0.5zM46.5 250.5h1.5v0.5h-1.5zM48.5 250.5h13v0.5h-13zM62 250.5h1.5v0.5h-1.5zM64 250.5h0.5v0.5h-0.5zM66 250.5h0.5v0.5h-0.5zM68.5 250.5h0.5v0.5h-0.5zM46.5 251h17.5v0.5h-17.5zM64.5 251h1v0.5h-1zM66.5 251h0.5v0.5h-0.5zM67.5 251h0.5v0.5h-0.5zM39 251.5h0.5v0.5h-0.5zM43 251.5h0.5v0.5h-0.5zM44 251.5h1v0.5h-1zM45.5 251.5h0.5v0.5h-0.5zM47 251.5h17.5v0.5h-17.5zM65 251.5h1v0.5h-1zM69 251.5h0.5v0.5h-0.5zM71.5 251.5h0.5v0.5h-0.5zM41 252h0.5v0.5h-0.5zM43 252h0.5v0.5h-0.5zM44 252h0.5v0.5h-0.5zM47.5 252h17v0.5h-17zM65 252h0.5v0.5h-0.5zM66.5 252h0.5v0.5h-0.5zM69 252h0.5v0.5h-0.5zM71 252h0.5v0.5h-0.5zM76 252h0.5v0.5h-0.5zM40 252.5h0.5v0.5h-0.5zM42 252.5h0.5v0.5h-0.5zM44.5 252.5h0.5v0.5h-0.5zM46 252.5h17v0.5h-17zM63.5 252.5h1v0.5h-1zM65 252.5h0.5v0.5h-0.5zM43.5 253h0.5v0.5h-0.5zM44.5 253h0.5v0.5h-0.5zM45.5 253h2v0.5h-2zM48 253h15.5v0.5h-15.5zM65 253h0.5v0.5h-0.5zM68.5 253h0.5v0.5h-0.5zM70.5 253h0.5v0.5h-0.5zM34.5 253.5h0.5v0.5h-0.5zM41 253.5h0.5v0.5h-0.5zM42.5 253.5h1v0.5h-1zM44 253.5h0.5v0.5h-0.5zM45 253.5h19v0.5h-19zM64.5 253.5h0.5v0.5h-0.5zM66.5 253.5h0.5v0.5h-0.5zM74 253.5h0.5v0.5h-0.5zM77 253.5h0.5v0.5h-0.5zM79 253.5h0.5v0.5h-0.5zM80.5 253.5h0.5v0.5h-0.5zM83 253.5h0.5v0.5h-0.5zM42.5 254h23.5v0.5h-23.5zM67.5 254h0.5v0.5h-0.5zM41.5 254.5h0.5v0.5h-0.5zM43 254.5h0.5v0.5h-0.5zM44 254.5h22.5v0.5h-22.5zM68 254.5h0.5v0.5h-0.5zM75.5 254.5h0.5v0.5h-0.5zM41.5 255h0.5v0.5h-0.5zM44 255h21v0.5h-21zM65.5 255h1v0.5h-1zM67 255h1v0.5h-1zM68.5 255h0.5v0.5h-0.5zM71.5 255h0.5v0.5h-0.5zM75 255h1v0.5h-1zM40 255.5h0.5v0.5h-0.5zM41.5 255.5h0.5v0.5h-0.5zM42.5 255.5h0.5v0.5h-0.5zM43.5 255.5h20.5v0.5h-20.5zM64.5 255.5h1v0.5h-1zM66 255.5h1v0.5h-1zM67.5 255.5h0.5v0.5h-0.5zM68.5 255.5h1v0.5h-1zM71 255.5h0.5v0.5h-0.5zM72.5 255.5h0.5v0.5h-0.5zM74 255.5h0.5v0.5h-0.5zM75 255.5h0.5v0.5h-0.5zM77 255.5h0.5v0.5h-0.5zM34.5 256h0.5v0.5h-0.5zM39.5 256h0.5v0.5h-0.5zM40.5 256h2.5v0.5h-2.5zM44 256h22v0.5h-22zM66.5 256h1v0.5h-1zM69 256h1v0.5h-1zM72 256h0.5v0.5h-0.5zM74.5 256h0.5v0.5h-0.5zM75.5 256h0.5v0.5h-0.5zM41 256.5h1.5v0.5h-1.5zM43 256.5h22v0.5h-22zM65.5 256.5h0.5v0.5h-0.5zM66.5 256.5h0.5v0.5h-0.5zM67.5 256.5h0.5v0.5h-0.5zM69 256.5h0.5v0.5h-0.5zM70 256.5h1v0.5h-1zM73.5 256.5h0.5v0.5h-0.5zM74.5 256.5h0.5v0.5h-0.5zM75.5 256.5h1.5v0.5h-1.5zM40.5 257h0.5v0.5h-0.5zM41.5 257h1v0.5h-1zM43 257h22.5v0.5h-22.5zM66 257h1.5v0.5h-1.5zM68.5 257h0.5v0.5h-0.5zM69.5 257h2v0.5h-2zM72 257h1v0.5h-1zM73.5 257h1v0.5h-1zM75 257h0.5v0.5h-0.5zM76 257h2.5v0.5h-2.5zM80 257h0.5v0.5h-0.5zM37.5 257.5h0.5v0.5h-0.5zM39.5 257.5h0.5v0.5h-0.5zM40.5 257.5h1.5v0.5h-1.5zM42.5 257.5h9.5v0.5h-9.5zM52.5 257.5h15v0.5h-15zM68 257.5h2.5v0.5h-2.5zM71 257.5h0.5v0.5h-0.5zM73 257.5h1.5v0.5h-1.5zM75 257.5h0.5v0.5h-0.5zM76 257.5h0.5v0.5h-0.5zM78.5 257.5h0.5v0.5h-0.5zM86 257.5h0.5v0.5h-0.5zM40 258h0.5v0.5h-0.5zM41 258h0.5v0.5h-0.5zM42.5 258h24v0.5h-24zM67 258h1.5v0.5h-1.5zM69 258h8v0.5h-8zM77.5 258h1v0.5h-1zM79.5 258h0.5v0.5h-0.5zM81 258h0.5v0.5h-0.5zM34.5 258.5h0.5v0.5h-0.5zM35.5 258.5h0.5v0.5h-0.5zM39.5 258.5h0.5v0.5h-0.5zM40.5 258.5h1.5v0.5h-1.5zM42.5 258.5h21v0.5h-21zM64 258.5h1v0.5h-1zM65.5 258.5h6v0.5h-6zM72 258.5h2.5v0.5h-2.5zM75 258.5h0.5v0.5h-0.5zM77 258.5h0.5v0.5h-0.5zM79.5 258.5h0.5v0.5h-0.5zM81 258.5h0.5v0.5h-0.5zM35.5 259h0.5v0.5h-0.5zM40 259h0.5v0.5h-0.5zM41 259h33.5v0.5h-33.5zM75.5 259h0.5v0.5h-0.5zM78 259h0.5v0.5h-0.5zM79 259h0.5v0.5h-0.5zM82 259h1v0.5h-1zM36 259.5h0.5v0.5h-0.5zM39 259.5h1v0.5h-1zM41 259.5h34v0.5h-34zM75.5 259.5h4.5v0.5h-4.5zM80.5 259.5h1v0.5h-1zM35.5 260h0.5v0.5h-0.5zM38 260h0.5v0.5h-0.5zM39 260h1.5v0.5h-1.5zM41 260h28v0.5h-28zM69.5 260h9v0.5h-9zM79.5 260h2v0.5h-2zM40 260.5h0.5v0.5h-0.5zM41 260.5h36.5v0.5h-36.5zM78 260.5h1v0.5h-1zM79.5 260.5h1v0.5h-1zM81.5 260.5h0.5v0.5h-0.5zM83 260.5h1.5v0.5h-1.5zM35.5 261h0.5v0.5h-0.5zM39.5 261h14v0.5h-14zM54 261h24.5v0.5h-24.5zM79.5 261h0.5v0.5h-0.5zM80.5 261h1v0.5h-1zM82 261h0.5v0.5h-0.5zM38.5 261.5h0.5v0.5h-0.5zM39.5 261.5h1v0.5h-1zM41 261.5h34v0.5h-34zM75.5 261.5h3.5v0.5h-3.5zM80.5 261.5h0.5v0.5h-0.5zM81.5 261.5h1.5v0.5h-1.5zM85.5 261.5h0.5v0.5h-0.5zM37.5 262h0.5v0.5h-0.5zM39.5 262h33v0.5h-33zM73 262h3v0.5h-3zM76.5 262h2v0.5h-2zM79 262h1v0.5h-1zM80.5 262h0.5v0.5h-0.5zM85.5 262h0.5v0.5h-0.5zM40.5 262.5h0.5v0.5h-0.5zM41.5 262.5h5v0.5h-5zM47 262.5h26.5v0.5h-26.5zM74 262.5h4.5v0.5h-4.5zM79.5 262.5h1v0.5h-1zM40.5 263h0.5v0.5h-0.5zM41.5 263h23.5v0.5h-23.5zM65.5 263h11v0.5h-11zM77 263h1.5v0.5h-1.5zM79 263h3v0.5h-3zM82.5 263h1v0.5h-1zM38.5 263.5h41v0.5h-41zM80 263.5h1v0.5h-1zM86 263.5h0.5v0.5h-0.5zM35.5 264h0.5v0.5h-0.5zM39 264h0.5v0.5h-0.5zM41 264h21.5v0.5h-21.5zM63 264h5.5v0.5h-5.5zM69 264h12.5v0.5h-12.5zM82 264h1v0.5h-1zM37.5 264.5h0.5v0.5h-0.5zM38.5 264.5h0.5v0.5h-0.5zM40 264.5h41v0.5h-41zM81.5 264.5h0.5v0.5h-0.5zM82.5 264.5h0.5v0.5h-0.5zM35.5 265h0.5v0.5h-0.5zM38 265h0.5v0.5h-0.5zM39 265h2v0.5h-2zM41.5 265h37v0.5h-37zM79 265h1.5v0.5h-1.5zM81 265h1v0.5h-1zM83 265h0.5v0.5h-0.5zM35.5 265.5h0.5v0.5h-0.5zM38.5 265.5h0.5v0.5h-0.5zM39.5 265.5h0.5v0.5h-0.5zM40.5 265.5h41.5v0.5h-41.5zM83.5 265.5h0.5v0.5h-0.5zM84.5 265.5h0.5v0.5h-0.5zM37 266h0.5v0.5h-0.5zM39 266h0.5v0.5h-0.5zM40.5 266h38v0.5h-38zM79.5 266h2v0.5h-2zM83 266h0.5v0.5h-0.5zM85 266h0.5v0.5h-0.5zM38.5 266.5h1.5v0.5h-1.5zM40.5 266.5h37.5v0.5h-37.5zM78.5 266.5h1.5v0.5h-1.5zM80.5 266.5h1.5v0.5h-1.5zM85 266.5h0.5v0.5h-0.5zM35.5 267h0.5v0.5h-0.5zM38.5 267h1.5v0.5h-1.5zM40.5 267h40.5v0.5h-40.5zM81.5 267h2.5v0.5h-2.5zM30 267.5h0.5v0.5h-0.5zM36 267.5h0.5v0.5h-0.5zM37.5 267.5h0.5v0.5h-0.5zM39.5 267.5h29v0.5h-29zM69 267.5h12v0.5h-12zM81.5 267.5h1.5v0.5h-1.5zM83.5 267.5h0.5v0.5h-0.5zM85 267.5h0.5v0.5h-0.5zM33 268h0.5v0.5h-0.5zM37 268h0.5v0.5h-0.5zM38.5 268h1v0.5h-1zM40 268h7.5v0.5h-7.5zM48 268h35v0.5h-35zM90.5 268h0.5v0.5h-0.5zM36 268.5h0.5v0.5h-0.5zM39 268.5h41.5v0.5h-41.5zM81 268.5h0.5v0.5h-0.5zM82 268.5h1v0.5h-1zM84 268.5h2.5v0.5h-2.5zM36.5 269h0.5v0.5h-0.5zM39 269h41v0.5h-41zM80.5 269h1v0.5h-1zM82.5 269h1.5v0.5h-1.5zM85 269h0.5v0.5h-0.5zM87 269h0.5v0.5h-0.5zM35.5 269.5h1v0.5h-1zM39 269.5h42v0.5h-42zM81.5 269.5h2.5v0.5h-2.5zM85.5 269.5h0.5v0.5h-0.5zM35.5 270h0.5v0.5h-0.5zM38.5 270h45.5v0.5h-45.5zM86 270h0.5v0.5h-0.5zM34.5 270.5h0.5v0.5h-0.5zM38 270.5h9v0.5h-9zM47.5 270.5h36v0.5h-36zM85 270.5h1.5v0.5h-1.5zM36.5 271h0.5v0.5h-0.5zM38.5 271h1.5v0.5h-1.5zM40.5 271h44.5v0.5h-44.5zM85.5 271h1.5v0.5h-1.5zM35.5 271.5h0.5v0.5h-0.5zM38 271.5h45v0.5h-45zM34 272h0.5v0.5h-0.5zM36.5 272h0.5v0.5h-0.5zM38.5 272h1v0.5h-1zM40 272h37v0.5h-37zM77.5 272h5v0.5h-5zM83 272h1v0.5h-1zM86 272h1v0.5h-1zM33.5 272.5h0.5v0.5h-0.5zM38 272.5h0.5v0.5h-0.5zM39 272.5h39.5v0.5h-39.5zM79 272.5h3.5v0.5h-3.5zM83 272.5h1v0.5h-1zM84.5 272.5h1v0.5h-1zM33.5 273h0.5v0.5h-0.5zM37.5 273h2v0.5h-2zM40 273h42v0.5h-42zM82.5 273h2v0.5h-2zM35 273.5h0.5v0.5h-0.5zM36.5 273.5h1v0.5h-1zM38.5 273.5h0.5v0.5h-0.5zM39.5 273.5h42v0.5h-42zM82 273.5h0.5v0.5h-0.5zM85 273.5h1v0.5h-1zM37.5 274h0.5v0.5h-0.5zM38.5 274h42v0.5h-42zM81 274h4v0.5h-4zM87 274h0.5v0.5h-0.5zM35 274.5h0.5v0.5h-0.5zM36.5 274.5h0.5v0.5h-0.5zM37.5 274.5h0.5v0.5h-0.5zM39.5 274.5h26.5v0.5h-26.5zM66.5 274.5h15v0.5h-15zM82.5 274.5h1.5v0.5h-1.5zM84.5 274.5h0.5v0.5h-0.5zM35 275h0.5v0.5h-0.5zM38 275h0.5v0.5h-0.5zM39 275h40.5v0.5h-40.5zM80 275h3v0.5h-3zM83.5 275h0.5v0.5h-0.5zM35 275.5h1.5v0.5h-1.5zM37 275.5h2v0.5h-2zM39.5 275.5h40v0.5h-40zM80 275.5h2.5v0.5h-2.5zM83 275.5h2v0.5h-2zM89.5 275.5h0.5v0.5h-0.5zM33.5 276h0.5v0.5h-0.5zM34.5 276h0.5v0.5h-0.5zM38.5 276h38.5v0.5h-38.5zM77.5 276h1.5v0.5h-1.5zM79.5 276h4v0.5h-4zM35 276.5h1v0.5h-1zM37.5 276.5h1.5v0.5h-1.5zM39.5 276.5h38.5v0.5h-38.5zM78.5 276.5h1.5v0.5h-1.5zM80.5 276.5h1v0.5h-1zM82 276.5h1.5v0.5h-1.5zM84.5 276.5h0.5v0.5h-0.5zM36 277h0.5v0.5h-0.5zM37 277h0.5v0.5h-0.5zM38 277h43.5v0.5h-43.5zM82.5 277h1.5v0.5h-1.5zM84.5 277h0.5v0.5h-0.5zM85.5 277h0.5v0.5h-0.5zM87.5 277h0.5v0.5h-0.5zM38 277.5h44v0.5h-44zM82.5 277.5h2v0.5h-2zM35 278h0.5v0.5h-0.5zM39 278h41.5v0.5h-41.5zM81 278h1v0.5h-1zM82.5 278h0.5v0.5h-0.5zM83.5 278h1.5v0.5h-1.5zM86 278h0.5v0.5h-0.5zM88 278h0.5v0.5h-0.5zM35 278.5h0.5v0.5h-0.5zM36 278.5h0.5v0.5h-0.5zM38 278.5h13.5v0.5h-13.5zM52 278.5h29v0.5h-29zM82.5 278.5h1.5v0.5h-1.5zM33.5 279h0.5v0.5h-0.5zM36.5 279h1v0.5h-1zM38.5 279h0.5v0.5h-0.5zM39.5 279h5.5v0.5h-5.5zM45.5 279h34v0.5h-34zM80 279h2v0.5h-2zM82.5 279h1.5v0.5h-1.5zM89.5 279h0.5v0.5h-0.5zM36.5 279.5h0.5v0.5h-0.5zM38.5 279.5h0.5v0.5h-0.5zM39.5 279.5h1.5v0.5h-1.5zM41.5 279.5h40v0.5h-40zM82.5 279.5h0.5v0.5h-0.5zM86.5 279.5h1v0.5h-1zM39.5 280h0.5v0.5h-0.5zM41.5 280h3.5v0.5h-3.5zM46 280h1.5v0.5h-1.5zM48 280h0.5v0.5h-0.5zM50 280h2v0.5h-2zM52.5 280h2v0.5h-2zM55 280h1.5v0.5h-1.5zM57.5 280h1.5v0.5h-1.5zM60 280h1v0.5h-1zM62 280h2v0.5h-2zM64.5 280h1v0.5h-1zM66 280h1v0.5h-1zM67.5 280h0.5v0.5h-0.5zM68.5 280h0.5v0.5h-0.5zM70 280h1v0.5h-1zM71.5 280h0.5v0.5h-0.5zM73 280h0.5v0.5h-0.5zM74 280h1.5v0.5h-1.5zM76 280h1v0.5h-1zM79.5 280h1v0.5h-1zM81.5 280h0.5v0.5h-0.5z" fill="#3a3a3a"/>
<line x1="28.8" y1="193.9" x2="121.8" y2="193.9" stroke="#8a8a8a" stroke-width="1.0" />
<line x1="121.4" y1="193.9" x2="121.4" y2="280.4" stroke="#555" stroke-width="0.8" />
<line x1="29.2" y1="193.9" x2="29.2" y2="280.8" stroke="#333" stroke-width="0.8" />
<line x1="28.8" y1="280.4" x2="121.8" y2="280.4" stroke="#333" stroke-width="0.8" />
<line x1="62.6" y1="193.9" x2="62.6" y2="280.4" stroke="#333" stroke-width="0.75" />
<line x1="29.2" y1="258.4" x2="121.4" y2="258.4" stroke="#333" stroke-width="0.75" />
<text x="26" y="282.9" font-size="4.4" text-anchor="end" fill="#222" stroke="#222" stroke-width="0.12">10<tspan dy="-1.6" font-size="3.1">0</tspan></text>
<text x="30" y="287.4" font-size="4.4" text-anchor="middle" fill="#333">10<tspan dy="-1.54" font-size="3.08">0</tspan></text>
<text x="26" y="261.27" font-size="4.4" text-anchor="end" fill="#222" stroke="#222" stroke-width="0.12">10<tspan dy="-1.6" font-size="3.1">1</tspan></text>
<text x="53.05" y="287.4" font-size="4.4" text-anchor="middle" fill="#333">10<tspan dy="-1.54" font-size="3.08">1</tspan></text>
<text x="26" y="239.65" font-size="4.4" text-anchor="end" fill="#222" stroke="#222" stroke-width="0.12">10<tspan dy="-1.6" font-size="3.1">2</tspan></text>
<text x="76.1" y="287.4" font-size="4.4" text-anchor="middle" fill="#333">10<tspan dy="-1.54" font-size="3.08">2</tspan></text>
<text x="26" y="218.03" font-size="4.4" text-anchor="end" fill="#222" stroke="#222" stroke-width="0.12">10<tspan dy="-1.6" font-size="3.1">3</tspan></text>
<text x="99.15" y="287.4" font-size="4.4" text-anchor="middle" fill="#333">10<tspan dy="-1.54" font-size="3.08">3</tspan></text>
<text x="26" y="196.4" font-size="4.4" text-anchor="end" fill="#222" stroke="#222" stroke-width="0.12">10<tspan dy="-1.6" font-size="3.1">4</tspan></text>
<text x="122.2" y="287.4" font-size="4.4" text-anchor="middle" fill="#333">10<tspan dy="-1.54" font-size="3.08">4</tspan></text>
<line x1="36.14" y1="280.4" x2="36.14" y2="281.4" stroke="#333" stroke-width="0.45" />
<line x1="28.2" y1="273.89" x2="29.2" y2="273.89" stroke="#333" stroke-width="0.45" />
<line x1="40.2" y1="280.4" x2="40.2" y2="281.4" stroke="#333" stroke-width="0.45" />
<line x1="28.2" y1="270.08" x2="29.2" y2="270.08" stroke="#333" stroke-width="0.45" />
<line x1="43.08" y1="280.4" x2="43.08" y2="281.4" stroke="#333" stroke-width="0.45" />
<line x1="28.2" y1="267.38" x2="29.2" y2="267.38" stroke="#333" stroke-width="0.45" />
<line x1="45.31" y1="280.4" x2="45.31" y2="281.4" stroke="#333" stroke-width="0.45" />
<line x1="28.2" y1="265.28" x2="29.2" y2="265.28" stroke="#333" stroke-width="0.45" />
<line x1="47.14" y1="280.4" x2="47.14" y2="281.4" stroke="#333" stroke-width="0.45" />
<line x1="28.2" y1="263.57" x2="29.2" y2="263.57" stroke="#333" stroke-width="0.45" />
<line x1="48.68" y1="280.4" x2="48.68" y2="281.4" stroke="#333" stroke-width="0.45" />
<line x1="28.2" y1="262.12" x2="29.2" y2="262.12" stroke="#333" stroke-width="0.45" />
<line x1="50.02" y1="280.4" x2="50.02" y2="281.4" stroke="#333" stroke-width="0.45" />
<line x1="28.2" y1="260.87" x2="29.2" y2="260.87" stroke="#333" stroke-width="0.45" />
<line x1="51.2" y1="280.4" x2="51.2" y2="281.4" stroke="#333" stroke-width="0.45" />
<line x1="28.2" y1="259.76" x2="29.2" y2="259.76" stroke="#333" stroke-width="0.45" />
<line x1="59.19" y1="280.4" x2="59.19" y2="281.4" stroke="#333" stroke-width="0.45" />
<line x1="28.2" y1="252.27" x2="29.2" y2="252.27" stroke="#333" stroke-width="0.45" />
<line x1="63.25" y1="280.4" x2="63.25" y2="281.4" stroke="#333" stroke-width="0.45" />
<line x1="28.2" y1="248.46" x2="29.2" y2="248.46" stroke="#333" stroke-width="0.45" />
<line x1="66.13" y1="280.4" x2="66.13" y2="281.4" stroke="#333" stroke-width="0.45" />
<line x1="28.2" y1="245.76" x2="29.2" y2="245.76" stroke="#333" stroke-width="0.45" />
<line x1="68.36" y1="280.4" x2="68.36" y2="281.4" stroke="#333" stroke-width="0.45" />
<line x1="28.2" y1="243.66" x2="29.2" y2="243.66" stroke="#333" stroke-width="0.45" />
<line x1="70.19" y1="280.4" x2="70.19" y2="281.4" stroke="#333" stroke-width="0.45" />
<line x1="28.2" y1="241.95" x2="29.2" y2="241.95" stroke="#333" stroke-width="0.45" />
<line x1="71.73" y1="280.4" x2="71.73" y2="281.4" stroke="#333" stroke-width="0.45" />
<line x1="28.2" y1="240.5" x2="29.2" y2="240.5" stroke="#333" stroke-width="0.45" />
<line x1="73.07" y1="280.4" x2="73.07" y2="281.4" stroke="#333" stroke-width="0.45" />
<line x1="28.2" y1="239.25" x2="29.2" y2="239.25" stroke="#333" stroke-width="0.45" />
<line x1="74.25" y1="280.4" x2="74.25" y2="281.4" stroke="#333" stroke-width="0.45" />
<line x1="28.2" y1="238.14" x2="29.2" y2="238.14" stroke="#333" stroke-width="0.45" />
<line x1="82.24" y1="280.4" x2="82.24" y2="281.4" stroke="#333" stroke-width="0.45" />
<line x1="28.2" y1="230.64" x2="29.2" y2="230.64" stroke="#333" stroke-width="0.45" />
<line x1="86.3" y1="280.4" x2="86.3" y2="281.4" stroke="#333" stroke-width="0.45" />
<line x1="28.2" y1="226.83" x2="29.2" y2="226.83" stroke="#333" stroke-width="0.45" />
<line x1="89.18" y1="280.4" x2="89.18" y2="281.4" stroke="#333" stroke-width="0.45" />
<line x1="28.2" y1="224.13" x2="29.2" y2="224.13" stroke="#333" stroke-width="0.45" />
<line x1="91.41" y1="280.4" x2="91.41" y2="281.4" stroke="#333" stroke-width="0.45" />
<line x1="28.2" y1="222.03" x2="29.2" y2="222.03" stroke="#333" stroke-width="0.45" />
<line x1="93.24" y1="280.4" x2="93.24" y2="281.4" stroke="#333" stroke-width="0.45" />
<line x1="28.2" y1="220.32" x2="29.2" y2="220.32" stroke="#333" stroke-width="0.45" />
<line x1="94.78" y1="280.4" x2="94.78" y2="281.4" stroke="#333" stroke-width="0.45" />
<line x1="28.2" y1="218.87" x2="29.2" y2="218.87" stroke="#333" stroke-width="0.45" />
<line x1="96.12" y1="280.4" x2="96.12" y2="281.4" stroke="#333" stroke-width="0.45" />
<line x1="28.2" y1="217.62" x2="29.2" y2="217.62" stroke="#333" stroke-width="0.45" />
<line x1="97.3" y1="280.4" x2="97.3" y2="281.4" stroke="#333" stroke-width="0.45" />
<line x1="28.2" y1="216.51" x2="29.2" y2="216.51" stroke="#333" stroke-width="0.45" />
<line x1="105.29" y1="280.4" x2="105.29" y2="281.4" stroke="#333" stroke-width="0.45" />
<line x1="28.2" y1="209.02" x2="29.2" y2="209.02" stroke="#333" stroke-width="0.45" />
<line x1="109.35" y1="280.4" x2="109.35" y2="281.4" stroke="#333" stroke-width="0.45" />
<line x1="28.2" y1="205.21" x2="29.2" y2="205.21" stroke="#333" stroke-width="0.45" />
<line x1="112.23" y1="280.4" x2="112.23" y2="281.4" stroke="#333" stroke-width="0.45" />
<line x1="28.2" y1="202.51" x2="29.2" y2="202.51" stroke="#333" stroke-width="0.45" />
<line x1="114.46" y1="280.4" x2="114.46" y2="281.4" stroke="#333" stroke-width="0.45" />
<line x1="28.2" y1="200.41" x2="29.2" y2="200.41" stroke="#333" stroke-width="0.45" />
<line x1="116.29" y1="280.4" x2="116.29" y2="281.4" stroke="#333" stroke-width="0.45" />
<line x1="28.2" y1="198.7" x2="29.2" y2="198.7" stroke="#333" stroke-width="0.45" />
<line x1="117.83" y1="280.4" x2="117.83" y2="281.4" stroke="#333" stroke-width="0.45" />
<line x1="28.2" y1="197.25" x2="29.2" y2="197.25" stroke="#333" stroke-width="0.45" />
<line x1="119.17" y1="280.4" x2="119.17" y2="281.4" stroke="#333" stroke-width="0.45" />
<line x1="28.2" y1="196" x2="29.2" y2="196" stroke="#333" stroke-width="0.45" />
<line x1="120.35" y1="280.4" x2="120.35" y2="281.4" stroke="#333" stroke-width="0.45" />
<line x1="28.2" y1="194.89" x2="29.2" y2="194.89" stroke="#333" stroke-width="0.45" />
<text x="31.5" y="199.1" font-size="4.3" font-weight="normal" text-anchor="start" fill="#444" >6.97</text>
<text x="118.6" y="199.1" font-size="4.3" font-weight="normal" text-anchor="end" fill="#444" >0.26</text>
<text x="118.8" y="278.1" font-size="4.3" font-weight="normal" text-anchor="end" fill="#444" >20.28</text>
<text transform="translate(19.15 182.8) scale(1 1)" font-size="12.4" font-weight="bold" fill="#000">D</text>
<text x="48.7" y="184.5" font-size="7.7" font-weight="bold" text-anchor="start" fill="#111" stroke="#111" stroke-width="0.2">NKp30 Ligand</text>
<path d="M173 195.5h0.5v0.5h-0.5zM187.5 195.5h0.5v0.5h-0.5zM180 198.5h0.5v0.5h-0.5zM193 198.5h0.5v0.5h-0.5zM190 205h0.5v0.5h-0.5zM171 212.5h0.5v0.5h-0.5zM189.5 213h0.5v0.5h-0.5zM164 213.5h0.5v0.5h-0.5zM167 213.5h0.5v0.5h-0.5zM183.5 214h0.5v0.5h-0.5zM183 215h0.5v0.5h-0.5zM182.5 215.5h1v0.5h-1zM199.5 216h0.5v0.5h-0.5zM192.5 217h0.5v0.5h-0.5zM172 218.5h0.5v0.5h-0.5zM174.5 218.5h0.5v0.5h-0.5zM179.5 218.5h0.5v0.5h-0.5zM185 218.5h0.5v0.5h-0.5zM187 219h0.5v0.5h-0.5zM185 220.5h0.5v0.5h-0.5zM190.5 221.5h0.5v0.5h-0.5zM190 222.5h0.5v0.5h-0.5zM185 223h0.5v0.5h-0.5zM189 223h0.5v0.5h-0.5zM190 223h0.5v0.5h-0.5zM179.5 223.5h0.5v0.5h-0.5zM175 225h0.5v0.5h-0.5zM182 225h0.5v0.5h-0.5zM192 225.5h0.5v0.5h-0.5zM181 226h0.5v0.5h-0.5zM208 227h0.5v0.5h-0.5zM177 227.5h0.5v0.5h-0.5zM178 227.5h0.5v0.5h-0.5zM184.5 228h0.5v0.5h-0.5zM194 228h0.5v0.5h-0.5zM184.5 228.5h0.5v0.5h-0.5zM197.5 228.5h0.5v0.5h-0.5zM170.5 229h0.5v0.5h-0.5zM186 229.5h0.5v0.5h-0.5zM196.5 229.5h0.5v0.5h-0.5zM162 230h0.5v0.5h-0.5zM185 230h0.5v0.5h-0.5zM174.5 230.5h0.5v0.5h-0.5zM181 230.5h0.5v0.5h-0.5zM202 230.5h0.5v0.5h-0.5zM175 231h0.5v0.5h-0.5zM188 231.5h0.5v0.5h-0.5zM173.5 232h0.5v0.5h-0.5zM179 232h0.5v0.5h-0.5zM184 232h1v0.5h-1zM198.5 232.5h0.5v0.5h-0.5zM191.5 233h0.5v0.5h-0.5zM195 233h0.5v0.5h-0.5zM181 234h0.5v0.5h-0.5zM192 234h0.5v0.5h-0.5zM185.5 234.5h1v0.5h-1zM205.5 234.5h0.5v0.5h-0.5zM176.5 235h0.5v0.5h-0.5zM184.5 235h0.5v0.5h-0.5zM164 236h0.5v0.5h-0.5zM173.5 236h0.5v0.5h-0.5zM179 236h0.5v0.5h-0.5zM172.5 236.5h0.5v0.5h-0.5zM183 236.5h0.5v0.5h-0.5zM186.5 236.5h0.5v0.5h-0.5zM191 236.5h0.5v0.5h-0.5zM171.5 237h0.5v0.5h-0.5zM185 237h0.5v0.5h-0.5zM184 237.5h0.5v0.5h-0.5zM189 237.5h0.5v0.5h-0.5zM216 237.5h0.5v0.5h-0.5zM194 238h0.5v0.5h-0.5zM192.5 239h0.5v0.5h-0.5zM182 239.5h0.5v0.5h-0.5zM184 239.5h0.5v0.5h-0.5zM163.5 240h0.5v0.5h-0.5zM185 240h0.5v0.5h-0.5zM190 240h0.5v0.5h-0.5zM219.5 240h0.5v0.5h-0.5zM193 240.5h0.5v0.5h-0.5zM189 241h0.5v0.5h-0.5zM193.5 241h0.5v0.5h-0.5zM207.5 241h0.5v0.5h-0.5zM172 241.5h0.5v0.5h-0.5zM178 241.5h0.5v0.5h-0.5zM183.5 241.5h0.5v0.5h-0.5zM213 241.5h0.5v0.5h-0.5zM164 242h0.5v0.5h-0.5zM192 242h0.5v0.5h-0.5zM203 242h0.5v0.5h-0.5zM214.5 242h0.5v0.5h-0.5zM177.5 242.5h0.5v0.5h-0.5zM183 242.5h0.5v0.5h-0.5zM188.5 242.5h0.5v0.5h-0.5zM195.5 242.5h0.5v0.5h-0.5zM197 242.5h0.5v0.5h-0.5zM170 243h0.5v0.5h-0.5zM190 243h0.5v0.5h-0.5zM203.5 243h0.5v0.5h-0.5zM208.5 243h0.5v0.5h-0.5zM169 243.5h0.5v0.5h-0.5zM176 243.5h0.5v0.5h-0.5zM177.5 244h0.5v0.5h-0.5zM190 244h0.5v0.5h-0.5zM197 244h0.5v0.5h-0.5zM212 244h0.5v0.5h-0.5zM180.5 244.5h0.5v0.5h-0.5zM177 245h0.5v0.5h-0.5zM193 245h0.5v0.5h-0.5zM215.5 245h0.5v0.5h-0.5zM181.5 245.5h0.5v0.5h-0.5zM183.5 245.5h0.5v0.5h-0.5zM185.5 245.5h0.5v0.5h-0.5zM187 245.5h0.5v0.5h-0.5zM186 246h0.5v0.5h-0.5zM188.5 246h0.5v0.5h-0.5zM192 246h0.5v0.5h-0.5zM170 246.5h0.5v0.5h-0.5zM175 246.5h0.5v0.5h-0.5zM181 246.5h0.5v0.5h-0.5zM183 246.5h1v0.5h-1zM210 246.5h0.5v0.5h-0.5zM169 247h0.5v0.5h-0.5zM197.5 247h0.5v0.5h-0.5zM198.5 247h0.5v0.5h-0.5zM200 247h0.5v0.5h-0.5zM164.5 247.5h0.5v0.5h-0.5zM167 247.5h0.5v0.5h-0.5zM177 247.5h0.5v0.5h-0.5zM180 247.5h0.5v0.5h-0.5zM186 247.5h0.5v0.5h-0.5zM192 247.5h0.5v0.5h-0.5zM194.5 247.5h0.5v0.5h-0.5zM202.5 247.5h0.5v0.5h-0.5zM162.5 248h0.5v0.5h-0.5zM164.5 248h0.5v0.5h-0.5zM167.5 248h0.5v0.5h-0.5zM176 248h0.5v0.5h-0.5zM180.5 248h1v0.5h-1zM184.5 248h0.5v0.5h-0.5zM192 248h0.5v0.5h-0.5zM197.5 248h0.5v0.5h-0.5zM199.5 248h0.5v0.5h-0.5zM176 248.5h0.5v0.5h-0.5zM178 248.5h0.5v0.5h-0.5zM184 248.5h0.5v0.5h-0.5zM192 248.5h0.5v0.5h-0.5zM198.5 248.5h0.5v0.5h-0.5zM199.5 248.5h0.5v0.5h-0.5zM206.5 248.5h0.5v0.5h-0.5zM208.5 248.5h0.5v0.5h-0.5zM187.5 249h0.5v0.5h-0.5zM198 249h0.5v0.5h-0.5zM200.5 249h0.5v0.5h-0.5zM210.5 249h0.5v0.5h-0.5zM220 249h0.5v0.5h-0.5zM172 249.5h0.5v0.5h-0.5zM181 249.5h0.5v0.5h-0.5zM184.5 249.5h0.5v0.5h-0.5zM187.5 249.5h0.5v0.5h-0.5zM188.5 249.5h0.5v0.5h-0.5zM210 249.5h0.5v0.5h-0.5zM173.5 250h0.5v0.5h-0.5zM186.5 250h0.5v0.5h-0.5zM175.5 250.5h0.5v0.5h-0.5zM185 250.5h0.5v0.5h-0.5zM187 250.5h0.5v0.5h-0.5zM188 250.5h1v0.5h-1zM206.5 250.5h0.5v0.5h-0.5zM223 250.5h0.5v0.5h-0.5zM173.5 251h0.5v0.5h-0.5zM174.5 251h0.5v0.5h-0.5zM175.5 251h0.5v0.5h-0.5zM181 251h1v0.5h-1zM193 251h0.5v0.5h-0.5zM204 251h0.5v0.5h-0.5zM172.5 251.5h0.5v0.5h-0.5zM178 251.5h0.5v0.5h-0.5zM182.5 251.5h0.5v0.5h-0.5zM188 251.5h1v0.5h-1zM190 251.5h0.5v0.5h-0.5zM167 252h0.5v0.5h-0.5zM176.5 252h0.5v0.5h-0.5zM177.5 252h0.5v0.5h-0.5zM179.5 252h0.5v0.5h-0.5zM180.5 252h0.5v0.5h-0.5zM183.5 252h0.5v0.5h-0.5zM185.5 252h0.5v0.5h-0.5zM186.5 252h0.5v0.5h-0.5zM189 252h0.5v0.5h-0.5zM195.5 252h1v0.5h-1zM200 252h0.5v0.5h-0.5zM201.5 252h0.5v0.5h-0.5zM203.5 252h0.5v0.5h-0.5zM204.5 252h0.5v0.5h-0.5zM220 252h0.5v0.5h-0.5zM175 252.5h1.5v0.5h-1.5zM177.5 252.5h0.5v0.5h-0.5zM178.5 252.5h0.5v0.5h-0.5zM179.5 252.5h1v0.5h-1zM181 252.5h0.5v0.5h-0.5zM182 252.5h0.5v0.5h-0.5zM186 252.5h1v0.5h-1zM188 252.5h0.5v0.5h-0.5zM189 252.5h0.5v0.5h-0.5zM194 252.5h1v0.5h-1zM195.5 252.5h0.5v0.5h-0.5zM179.5 253h0.5v0.5h-0.5zM181.5 253h1v0.5h-1zM192.5 253h1v0.5h-1zM194 253h0.5v0.5h-0.5zM200 253h0.5v0.5h-0.5zM213.5 253h0.5v0.5h-0.5zM229.5 253h0.5v0.5h-0.5zM237.5 253h0.5v0.5h-0.5zM160.5 253.5h0.5v0.5h-0.5zM171.5 253.5h0.5v0.5h-0.5zM175.5 253.5h0.5v0.5h-0.5zM177 253.5h0.5v0.5h-0.5zM179 253.5h0.5v0.5h-0.5zM180 253.5h0.5v0.5h-0.5zM183 253.5h0.5v0.5h-0.5zM184 253.5h1.5v0.5h-1.5zM194 253.5h0.5v0.5h-0.5zM198.5 253.5h0.5v0.5h-0.5zM211 253.5h0.5v0.5h-0.5zM164 254h0.5v0.5h-0.5zM172.5 254h0.5v0.5h-0.5zM173.5 254h0.5v0.5h-0.5zM175 254h0.5v0.5h-0.5zM176 254h0.5v0.5h-0.5zM177 254h0.5v0.5h-0.5zM178 254h0.5v0.5h-0.5zM179 254h0.5v0.5h-0.5zM180.5 254h0.5v0.5h-0.5zM181.5 254h0.5v0.5h-0.5zM184.5 254h0.5v0.5h-0.5zM187 254h0.5v0.5h-0.5zM188.5 254h1v0.5h-1zM191.5 254h0.5v0.5h-0.5zM194.5 254h0.5v0.5h-0.5zM198 254h0.5v0.5h-0.5zM202.5 254h0.5v0.5h-0.5zM210 254h0.5v0.5h-0.5zM173 254.5h0.5v0.5h-0.5zM174.5 254.5h0.5v0.5h-0.5zM178.5 254.5h0.5v0.5h-0.5zM180.5 254.5h0.5v0.5h-0.5zM185.5 254.5h0.5v0.5h-0.5zM190.5 254.5h0.5v0.5h-0.5zM192 254.5h1.5v0.5h-1.5zM206 254.5h0.5v0.5h-0.5zM220 254.5h0.5v0.5h-0.5zM160.5 255h0.5v0.5h-0.5zM166.5 255h0.5v0.5h-0.5zM181 255h1v0.5h-1zM183 255h0.5v0.5h-0.5zM185.5 255h0.5v0.5h-0.5zM186.5 255h0.5v0.5h-0.5zM188.5 255h0.5v0.5h-0.5zM191 255h0.5v0.5h-0.5zM192.5 255h0.5v0.5h-0.5zM203 255h0.5v0.5h-0.5zM208.5 255h0.5v0.5h-0.5zM214 255h0.5v0.5h-0.5zM161 255.5h0.5v0.5h-0.5zM169 255.5h0.5v0.5h-0.5zM175.5 255.5h0.5v0.5h-0.5zM177.5 255.5h0.5v0.5h-0.5zM178.5 255.5h0.5v0.5h-0.5zM181 255.5h0.5v0.5h-0.5zM183 255.5h0.5v0.5h-0.5zM190 255.5h1v0.5h-1zM196 255.5h0.5v0.5h-0.5zM158.5 256h0.5v0.5h-0.5zM162.5 256h0.5v0.5h-0.5zM167.5 256h0.5v0.5h-0.5zM171 256h0.5v0.5h-0.5zM172.5 256h0.5v0.5h-0.5zM174 256h0.5v0.5h-0.5zM175.5 256h0.5v0.5h-0.5zM179 256h0.5v0.5h-0.5zM182 256h0.5v0.5h-0.5zM185 256h0.5v0.5h-0.5zM187.5 256h0.5v0.5h-0.5zM190 256h0.5v0.5h-0.5zM194.5 256h0.5v0.5h-0.5zM199 256h0.5v0.5h-0.5zM200 256h0.5v0.5h-0.5zM202 256h0.5v0.5h-0.5zM204.5 256h0.5v0.5h-0.5zM214 256h0.5v0.5h-0.5zM164.5 256.5h0.5v0.5h-0.5zM171.5 256.5h0.5v0.5h-0.5zM175 256.5h0.5v0.5h-0.5zM179 256.5h0.5v0.5h-0.5zM182.5 256.5h0.5v0.5h-0.5zM183.5 256.5h0.5v0.5h-0.5zM184.5 256.5h0.5v0.5h-0.5zM187.5 256.5h1v0.5h-1zM190 256.5h0.5v0.5h-0.5zM192.5 256.5h0.5v0.5h-0.5zM194.5 256.5h0.5v0.5h-0.5zM199 256.5h0.5v0.5h-0.5zM225.5 256.5h0.5v0.5h-0.5zM170 257h1v0.5h-1zM173 257h0.5v0.5h-0.5zM177.5 257h0.5v0.5h-0.5zM195.5 257h0.5v0.5h-0.5zM206 257h0.5v0.5h-0.5zM215.5 257h0.5v0.5h-0.5zM176.5 257.5h0.5v0.5h-0.5zM193.5 257.5h0.5v0.5h-0.5zM205 257.5h0.5v0.5h-0.5zM215 257.5h0.5v0.5h-0.5zM216 257.5h0.5v0.5h-0.5zM177.5 258h0.5v0.5h-0.5zM187 258h0.5v0.5h-0.5zM194 258h0.5v0.5h-0.5zM206 258h0.5v0.5h-0.5zM209.5 258h0.5v0.5h-0.5zM179.5 258.5h0.5v0.5h-0.5zM190.5 258.5h0.5v0.5h-0.5zM204 258.5h0.5v0.5h-0.5zM205.5 258.5h0.5v0.5h-0.5zM164.5 259h0.5v0.5h-0.5zM177.5 259h0.5v0.5h-0.5zM185.5 259h0.5v0.5h-0.5zM189.5 259h0.5v0.5h-0.5zM190.5 259h0.5v0.5h-0.5zM194 259h0.5v0.5h-0.5zM205 259h0.5v0.5h-0.5zM211.5 259h0.5v0.5h-0.5zM190.5 259.5h1v0.5h-1zM209 259.5h0.5v0.5h-0.5zM213 259.5h0.5v0.5h-0.5zM220.5 259.5h0.5v0.5h-0.5zM200 260h0.5v0.5h-0.5zM207.5 260h0.5v0.5h-0.5zM213 260h0.5v0.5h-0.5zM226 260h1v0.5h-1zM162.5 260.5h0.5v0.5h-0.5zM183 260.5h0.5v0.5h-0.5zM195 260.5h0.5v0.5h-0.5zM204.5 260.5h0.5v0.5h-0.5zM208 260.5h0.5v0.5h-0.5zM209.5 260.5h0.5v0.5h-0.5zM212 260.5h0.5v0.5h-0.5zM222 260.5h0.5v0.5h-0.5zM164 261h0.5v0.5h-0.5zM167.5 261h0.5v0.5h-0.5zM194 261h0.5v0.5h-0.5zM196.5 261h0.5v0.5h-0.5zM203 261h0.5v0.5h-0.5zM206 261h0.5v0.5h-0.5zM209 261h0.5v0.5h-0.5zM210.5 261h0.5v0.5h-0.5zM166.5 261.5h0.5v0.5h-0.5zM167.5 261.5h0.5v0.5h-0.5zM184.5 261.5h0.5v0.5h-0.5zM203.5 261.5h0.5v0.5h-0.5zM221 261.5h0.5v0.5h-0.5zM228 261.5h0.5v0.5h-0.5zM174 262h1v0.5h-1zM189.5 262h0.5v0.5h-0.5zM204.5 262h0.5v0.5h-0.5zM206 262h0.5v0.5h-0.5zM207.5 262h0.5v0.5h-0.5zM209.5 262h0.5v0.5h-0.5zM216.5 262h1v0.5h-1zM228.5 262h0.5v0.5h-0.5zM238 262h0.5v0.5h-0.5zM167 262.5h0.5v0.5h-0.5zM173 262.5h0.5v0.5h-0.5zM192 262.5h0.5v0.5h-0.5zM193 262.5h0.5v0.5h-0.5zM195 262.5h0.5v0.5h-0.5zM199.5 262.5h0.5v0.5h-0.5zM207 262.5h0.5v0.5h-0.5zM209 262.5h0.5v0.5h-0.5zM213 262.5h0.5v0.5h-0.5zM220.5 262.5h0.5v0.5h-0.5zM177 263h0.5v0.5h-0.5zM195 263h0.5v0.5h-0.5zM197.5 263h1v0.5h-1zM200 263h1v0.5h-1zM203 263h0.5v0.5h-0.5zM205.5 263h1v0.5h-1zM207 263h0.5v0.5h-0.5zM208 263h0.5v0.5h-0.5zM213 263h0.5v0.5h-0.5zM214.5 263h0.5v0.5h-0.5zM233.5 263h0.5v0.5h-0.5zM158.5 263.5h0.5v0.5h-0.5zM162 263.5h0.5v0.5h-0.5zM171 263.5h0.5v0.5h-0.5zM176.5 263.5h0.5v0.5h-0.5zM187.5 263.5h0.5v0.5h-0.5zM194.5 263.5h0.5v0.5h-0.5zM199 263.5h0.5v0.5h-0.5zM201 263.5h1v0.5h-1zM208.5 263.5h0.5v0.5h-0.5zM215 263.5h0.5v0.5h-0.5zM210.5 264h0.5v0.5h-0.5zM185 264.5h0.5v0.5h-0.5zM166.5 265h0.5v0.5h-0.5zM179.5 265h0.5v0.5h-0.5zM184 265h0.5v0.5h-0.5zM158.5 265.5h0.5v0.5h-0.5zM182.5 265.5h0.5v0.5h-0.5zM189 265.5h0.5v0.5h-0.5zM197 265.5h0.5v0.5h-0.5zM178.5 266.5h0.5v0.5h-0.5zM207.5 266.5h0.5v0.5h-0.5zM210 266.5h0.5v0.5h-0.5zM184.5 267.5h0.5v0.5h-0.5zM197 268h0.5v0.5h-0.5zM205 268h0.5v0.5h-0.5zM211 268h0.5v0.5h-0.5zM163 268.5h0.5v0.5h-0.5zM171 269h0.5v0.5h-0.5zM177 269h0.5v0.5h-0.5zM171 269.5h0.5v0.5h-0.5zM176.5 269.5h0.5v0.5h-0.5zM178 270h0.5v0.5h-0.5zM194.5 270h0.5v0.5h-0.5zM180.5 270.5h1.5v0.5h-1.5zM193 270.5h0.5v0.5h-0.5zM184.5 271h0.5v0.5h-0.5zM188 271h0.5v0.5h-0.5zM212.5 271h0.5v0.5h-0.5zM166 271.5h0.5v0.5h-0.5zM197 271.5h0.5v0.5h-0.5zM211 271.5h0.5v0.5h-0.5zM179 272h0.5v0.5h-0.5zM190 272h0.5v0.5h-0.5zM171.5 272.5h0.5v0.5h-0.5zM178 272.5h0.5v0.5h-0.5zM211.5 272.5h0.5v0.5h-0.5zM171.5 273h0.5v0.5h-0.5zM183.5 273h0.5v0.5h-0.5zM166.5 273.5h0.5v0.5h-0.5zM168 273.5h0.5v0.5h-0.5zM178 273.5h0.5v0.5h-0.5zM196.5 273.5h0.5v0.5h-0.5zM196.5 274h0.5v0.5h-0.5zM162 274.5h0.5v0.5h-0.5zM189 274.5h0.5v0.5h-0.5zM164 275.5h0.5v0.5h-0.5zM170 275.5h0.5v0.5h-0.5zM180.5 275.5h0.5v0.5h-0.5zM202.5 275.5h0.5v0.5h-0.5zM162.5 276h0.5v0.5h-0.5zM167 276h0.5v0.5h-0.5zM180.5 276h0.5v0.5h-0.5zM209.5 276h0.5v0.5h-0.5zM211.5 276h0.5v0.5h-0.5zM171 276.5h0.5v0.5h-0.5zM173 277h1v0.5h-1zM212 277h0.5v0.5h-0.5zM182.5 277.5h0.5v0.5h-0.5zM175 278h0.5v0.5h-0.5zM166.5 278.5h0.5v0.5h-0.5zM170 278.5h0.5v0.5h-0.5zM188.5 278.5h0.5v0.5h-0.5zM195.5 278.5h0.5v0.5h-0.5zM199 278.5h0.5v0.5h-0.5zM201.5 278.5h0.5v0.5h-0.5zM169.5 279h0.5v0.5h-0.5zM170.5 279h0.5v0.5h-0.5zM211 279h0.5v0.5h-0.5zM196 279.5h0.5v0.5h-0.5zM207.5 279.5h0.5v0.5h-0.5zM194 280h0.5v0.5h-0.5z" fill="#6a6a6a"/>
<path d="M190.5 240.5h0.5v0.5h-0.5zM183.5 241.5h0.5v0.5h-0.5zM187.5 241.5h0.5v0.5h-0.5zM174.5 243h0.5v0.5h-0.5zM188.5 243h0.5v0.5h-0.5zM191.5 243h0.5v0.5h-0.5zM178.5 243.5h0.5v0.5h-0.5zM189 243.5h0.5v0.5h-0.5zM188 244h0.5v0.5h-0.5zM194 244.5h0.5v0.5h-0.5zM174 245h0.5v0.5h-0.5zM181.5 245h0.5v0.5h-0.5zM183.5 245h1v0.5h-1zM185.5 245h0.5v0.5h-0.5zM188 245h0.5v0.5h-0.5zM173.5 245.5h0.5v0.5h-0.5zM177.5 245.5h0.5v0.5h-0.5zM179.5 245.5h1v0.5h-1zM181 245.5h0.5v0.5h-0.5zM184 245.5h1v0.5h-1zM186.5 245.5h0.5v0.5h-0.5zM190.5 245.5h1v0.5h-1zM173 246h0.5v0.5h-0.5zM174.5 246h0.5v0.5h-0.5zM177.5 246h0.5v0.5h-0.5zM181.5 246h0.5v0.5h-0.5zM183.5 246h0.5v0.5h-0.5zM185 246h0.5v0.5h-0.5zM187.5 246h0.5v0.5h-0.5zM188.5 246h0.5v0.5h-0.5zM191 246h0.5v0.5h-0.5zM192 246h0.5v0.5h-0.5zM174.5 246.5h0.5v0.5h-0.5zM178 246.5h0.5v0.5h-0.5zM179 246.5h0.5v0.5h-0.5zM180 246.5h0.5v0.5h-0.5zM183 246.5h0.5v0.5h-0.5zM184.5 246.5h0.5v0.5h-0.5zM188 246.5h1v0.5h-1zM189.5 246.5h0.5v0.5h-0.5zM192.5 246.5h0.5v0.5h-0.5zM177 247h0.5v0.5h-0.5zM179 247h0.5v0.5h-0.5zM188 247h0.5v0.5h-0.5zM195.5 247h0.5v0.5h-0.5zM160.5 247.5h0.5v0.5h-0.5zM167.5 247.5h0.5v0.5h-0.5zM174 247.5h0.5v0.5h-0.5zM176 247.5h0.5v0.5h-0.5zM179.5 247.5h0.5v0.5h-0.5zM183.5 247.5h1v0.5h-1zM186 247.5h1v0.5h-1zM188 247.5h1v0.5h-1zM189.5 247.5h0.5v0.5h-0.5zM190.5 247.5h0.5v0.5h-0.5zM192.5 247.5h0.5v0.5h-0.5zM193.5 247.5h0.5v0.5h-0.5zM198.5 247.5h0.5v0.5h-0.5zM175 248h0.5v0.5h-0.5zM176.5 248h0.5v0.5h-0.5zM178 248h0.5v0.5h-0.5zM179 248h0.5v0.5h-0.5zM180.5 248h0.5v0.5h-0.5zM182.5 248h0.5v0.5h-0.5zM183.5 248h1.5v0.5h-1.5zM186.5 248h1.5v0.5h-1.5zM190 248h0.5v0.5h-0.5zM192 248h0.5v0.5h-0.5zM196 248h0.5v0.5h-0.5zM165 248.5h0.5v0.5h-0.5zM171 248.5h0.5v0.5h-0.5zM172 248.5h1v0.5h-1zM175 248.5h0.5v0.5h-0.5zM177.5 248.5h0.5v0.5h-0.5zM181.5 248.5h2.5v0.5h-2.5zM185 248.5h3v0.5h-3zM188.5 248.5h1v0.5h-1zM190 248.5h0.5v0.5h-0.5zM191 248.5h0.5v0.5h-0.5zM170 249h0.5v0.5h-0.5zM175 249h0.5v0.5h-0.5zM176 249h0.5v0.5h-0.5zM177.5 249h0.5v0.5h-0.5zM178.5 249h0.5v0.5h-0.5zM180 249h1.5v0.5h-1.5zM183 249h1v0.5h-1zM185 249h6v0.5h-6zM163.5 249.5h0.5v0.5h-0.5zM173.5 249.5h0.5v0.5h-0.5zM174.5 249.5h0.5v0.5h-0.5zM175.5 249.5h3v0.5h-3zM180.5 249.5h0.5v0.5h-0.5zM182 249.5h0.5v0.5h-0.5zM183 249.5h6.5v0.5h-6.5zM190 249.5h2v0.5h-2zM192.5 249.5h0.5v0.5h-0.5zM193.5 249.5h0.5v0.5h-0.5zM174.5 250h0.5v0.5h-0.5zM175.5 250h4v0.5h-4zM180 250h1v0.5h-1zM181.5 250h1v0.5h-1zM183.5 250h6.5v0.5h-6.5zM190.5 250h1.5v0.5h-1.5zM171.5 250.5h0.5v0.5h-0.5zM172.5 250.5h0.5v0.5h-0.5zM173.5 250.5h0.5v0.5h-0.5zM174.5 250.5h2v0.5h-2zM177 250.5h1.5v0.5h-1.5zM180 250.5h0.5v0.5h-0.5zM181 250.5h0.5v0.5h-0.5zM182 250.5h9.5v0.5h-9.5zM192 250.5h0.5v0.5h-0.5zM202.5 250.5h0.5v0.5h-0.5zM167 251h0.5v0.5h-0.5zM169.5 251h0.5v0.5h-0.5zM170.5 251h1v0.5h-1zM173 251h1v0.5h-1zM174.5 251h1v0.5h-1zM176 251h0.5v0.5h-0.5zM178 251h1v0.5h-1zM179.5 251h2v0.5h-2zM182 251h9v0.5h-9zM193.5 251h1v0.5h-1zM166.5 251.5h0.5v0.5h-0.5zM171.5 251.5h0.5v0.5h-0.5zM172.5 251.5h0.5v0.5h-0.5zM174 251.5h16.5v0.5h-16.5zM195.5 251.5h0.5v0.5h-0.5zM169.5 252h0.5v0.5h-0.5zM171 252h1.5v0.5h-1.5zM173.5 252h7v0.5h-7zM181 252h9.5v0.5h-9.5zM191 252h1v0.5h-1zM192.5 252h0.5v0.5h-0.5zM165.5 252.5h0.5v0.5h-0.5zM168 252.5h1v0.5h-1zM170.5 252.5h1.5v0.5h-1.5zM173 252.5h17v0.5h-17zM190.5 252.5h1.5v0.5h-1.5zM194 252.5h1v0.5h-1zM196 252.5h0.5v0.5h-0.5zM169.5 253h1v0.5h-1zM171.5 253h20v0.5h-20zM192 253h1v0.5h-1zM195.5 253h0.5v0.5h-0.5zM165 253.5h0.5v0.5h-0.5zM169.5 253.5h0.5v0.5h-0.5zM170.5 253.5h1v0.5h-1zM172 253.5h18v0.5h-18zM190.5 253.5h1.5v0.5h-1.5zM194 253.5h0.5v0.5h-0.5zM196 253.5h0.5v0.5h-0.5zM197.5 253.5h0.5v0.5h-0.5zM165.5 254h0.5v0.5h-0.5zM166.5 254h0.5v0.5h-0.5zM168.5 254h0.5v0.5h-0.5zM171.5 254h20.5v0.5h-20.5zM192.5 254h0.5v0.5h-0.5zM194.5 254h0.5v0.5h-0.5zM197.5 254h0.5v0.5h-0.5zM199.5 254h0.5v0.5h-0.5zM202.5 254h0.5v0.5h-0.5zM206.5 254h0.5v0.5h-0.5zM164 254.5h0.5v0.5h-0.5zM167 254.5h0.5v0.5h-0.5zM169 254.5h1v0.5h-1zM170.5 254.5h18.5v0.5h-18.5zM189.5 254.5h2v0.5h-2zM192 254.5h0.5v0.5h-0.5zM194 254.5h0.5v0.5h-0.5zM168 255h0.5v0.5h-0.5zM169 255h24.5v0.5h-24.5zM197.5 255h0.5v0.5h-0.5zM198.5 255h0.5v0.5h-0.5zM200 255h0.5v0.5h-0.5zM201.5 255h0.5v0.5h-0.5zM166 255.5h1v0.5h-1zM167.5 255.5h1.5v0.5h-1.5zM170 255.5h23v0.5h-23zM194.5 255.5h0.5v0.5h-0.5zM195.5 255.5h0.5v0.5h-0.5zM197.5 255.5h0.5v0.5h-0.5zM201.5 255.5h0.5v0.5h-0.5zM166.5 256h0.5v0.5h-0.5zM167.5 256h0.5v0.5h-0.5zM168.5 256h0.5v0.5h-0.5zM169.5 256h20.5v0.5h-20.5zM190.5 256h1v0.5h-1zM192.5 256h2.5v0.5h-2.5zM196 256h1v0.5h-1zM198 256h0.5v0.5h-0.5zM199 256h1v0.5h-1zM201.5 256h0.5v0.5h-0.5zM166 256.5h0.5v0.5h-0.5zM167.5 256.5h24v0.5h-24zM192 256.5h1.5v0.5h-1.5zM194 256.5h1v0.5h-1zM195.5 256.5h0.5v0.5h-0.5zM196.5 256.5h0.5v0.5h-0.5zM198 256.5h0.5v0.5h-0.5zM199 256.5h1.5v0.5h-1.5zM201 256.5h1v0.5h-1zM205.5 256.5h0.5v0.5h-0.5zM165 257h0.5v0.5h-0.5zM166 257h1v0.5h-1zM168.5 257h24v0.5h-24zM193 257h2v0.5h-2zM195.5 257h0.5v0.5h-0.5zM196.5 257h1v0.5h-1zM198.5 257h0.5v0.5h-0.5zM199.5 257h1v0.5h-1zM204 257h0.5v0.5h-0.5zM208.5 257h0.5v0.5h-0.5zM210 257h0.5v0.5h-0.5zM161.5 257.5h0.5v0.5h-0.5zM162.5 257.5h0.5v0.5h-0.5zM168 257.5h2v0.5h-2zM170.5 257.5h20.5v0.5h-20.5zM191.5 257.5h3v0.5h-3zM195 257.5h2v0.5h-2zM198 257.5h1v0.5h-1zM199.5 257.5h1.5v0.5h-1.5zM202 257.5h1v0.5h-1zM203.5 257.5h0.5v0.5h-0.5zM204.5 257.5h0.5v0.5h-0.5zM206 257.5h0.5v0.5h-0.5zM208 257.5h0.5v0.5h-0.5zM165.5 258h0.5v0.5h-0.5zM167 258h0.5v0.5h-0.5zM168 258h27.5v0.5h-27.5zM196 258h0.5v0.5h-0.5zM197 258h1.5v0.5h-1.5zM199 258h0.5v0.5h-0.5zM200 258h3.5v0.5h-3.5zM208 258h0.5v0.5h-0.5zM166 258.5h1v0.5h-1zM167.5 258.5h0.5v0.5h-0.5zM168.5 258.5h29v0.5h-29zM198.5 258.5h1v0.5h-1zM200 258.5h2v0.5h-2zM203 258.5h0.5v0.5h-0.5zM204.5 258.5h0.5v0.5h-0.5zM210 258.5h0.5v0.5h-0.5zM163.5 259h0.5v0.5h-0.5zM166 259h1v0.5h-1zM167.5 259h0.5v0.5h-0.5zM168.5 259h22.5v0.5h-22.5zM191.5 259h9v0.5h-9zM201.5 259h2.5v0.5h-2.5zM205.5 259h0.5v0.5h-0.5zM207 259h0.5v0.5h-0.5zM210 259h0.5v0.5h-0.5zM167.5 259.5h36v0.5h-36zM204.5 259.5h1.5v0.5h-1.5zM206.5 259.5h1v0.5h-1zM167 260h2v0.5h-2zM169.5 260h34.5v0.5h-34.5zM204.5 260h0.5v0.5h-0.5zM206 260h0.5v0.5h-0.5zM207.5 260h1v0.5h-1zM211.5 260h0.5v0.5h-0.5zM164.5 260.5h0.5v0.5h-0.5zM166.5 260.5h1.5v0.5h-1.5zM168.5 260.5h38v0.5h-38zM207.5 260.5h0.5v0.5h-0.5zM217.5 260.5h0.5v0.5h-0.5zM164.5 261h0.5v0.5h-0.5zM165.5 261h40v0.5h-40zM206 261h0.5v0.5h-0.5zM207 261h0.5v0.5h-0.5zM209 261h0.5v0.5h-0.5zM210.5 261h0.5v0.5h-0.5zM212 261h0.5v0.5h-0.5zM214 261h0.5v0.5h-0.5zM163.5 261.5h0.5v0.5h-0.5zM166 261.5h40v0.5h-40zM207 261.5h0.5v0.5h-0.5zM208.5 261.5h0.5v0.5h-0.5zM210 261.5h0.5v0.5h-0.5zM164 262h0.5v0.5h-0.5zM165.5 262h0.5v0.5h-0.5zM167.5 262h33v0.5h-33zM201 262h6v0.5h-6zM208 262h0.5v0.5h-0.5zM209.5 262h1v0.5h-1zM214 262h0.5v0.5h-0.5zM163 262.5h0.5v0.5h-0.5zM166 262.5h1v0.5h-1zM167.5 262.5h28.5v0.5h-28.5zM196.5 262.5h6.5v0.5h-6.5zM203.5 262.5h3v0.5h-3zM207 262.5h1v0.5h-1zM160 263h0.5v0.5h-0.5zM161 263h0.5v0.5h-0.5zM167 263h39v0.5h-39zM206.5 263h1v0.5h-1zM208 263h0.5v0.5h-0.5zM210 263h0.5v0.5h-0.5zM211.5 263h0.5v0.5h-0.5zM163.5 263.5h0.5v0.5h-0.5zM165.5 263.5h35.5v0.5h-35.5zM201.5 263.5h6v0.5h-6zM208 263.5h1.5v0.5h-1.5zM210 263.5h0.5v0.5h-0.5zM162 264h0.5v0.5h-0.5zM165.5 264h1.5v0.5h-1.5zM167.5 264h40v0.5h-40zM208 264h0.5v0.5h-0.5zM210.5 264h0.5v0.5h-0.5zM164 264.5h0.5v0.5h-0.5zM166.5 264.5h0.5v0.5h-0.5zM167.5 264.5h39.5v0.5h-39.5zM207.5 264.5h0.5v0.5h-0.5zM208.5 264.5h0.5v0.5h-0.5zM210.5 264.5h1v0.5h-1zM219 264.5h0.5v0.5h-0.5zM165.5 265h1v0.5h-1zM167.5 265h21.5v0.5h-21.5zM189.5 265h21.5v0.5h-21.5zM215 265h0.5v0.5h-0.5zM161.5 265.5h0.5v0.5h-0.5zM165 265.5h1v0.5h-1zM166.5 265.5h42v0.5h-42zM209 265.5h0.5v0.5h-0.5zM210 265.5h1v0.5h-1zM213 265.5h0.5v0.5h-0.5zM166.5 266h41.5v0.5h-41.5zM209 266h1v0.5h-1zM212 266h1v0.5h-1zM213.5 266h0.5v0.5h-0.5zM164.5 266.5h0.5v0.5h-0.5zM165.5 266.5h42.5v0.5h-42.5zM208.5 266.5h0.5v0.5h-0.5zM210 266.5h0.5v0.5h-0.5zM160 267h0.5v0.5h-0.5zM163.5 267h0.5v0.5h-0.5zM164.5 267h0.5v0.5h-0.5zM166.5 267h41v0.5h-41zM208 267h1.5v0.5h-1.5zM210 267h0.5v0.5h-0.5zM211 267h1.5v0.5h-1.5zM163 267.5h0.5v0.5h-0.5zM164.5 267.5h1v0.5h-1zM166 267.5h43v0.5h-43zM210 267.5h0.5v0.5h-0.5zM211 267.5h0.5v0.5h-0.5zM164 268h2.5v0.5h-2.5zM167 268h39v0.5h-39zM206.5 268h1.5v0.5h-1.5zM208.5 268h2.5v0.5h-2.5zM212.5 268h1v0.5h-1zM159 268.5h0.5v0.5h-0.5zM163 268.5h0.5v0.5h-0.5zM164.5 268.5h1.5v0.5h-1.5zM166.5 268.5h43v0.5h-43zM210.5 268.5h0.5v0.5h-0.5zM213 268.5h0.5v0.5h-0.5zM165.5 269h43.5v0.5h-43.5zM209.5 269h1v0.5h-1zM211 269h0.5v0.5h-0.5zM212.5 269h0.5v0.5h-0.5zM214 269h0.5v0.5h-0.5zM163.5 269.5h1.5v0.5h-1.5zM165.5 269.5h43v0.5h-43zM209 269.5h0.5v0.5h-0.5zM161 270h0.5v0.5h-0.5zM164 270h1v0.5h-1zM165.5 270h37v0.5h-37zM203 270h8.5v0.5h-8.5zM162 270.5h0.5v0.5h-0.5zM165.5 270.5h42v0.5h-42zM208 270.5h1.5v0.5h-1.5zM210.5 270.5h0.5v0.5h-0.5zM164.5 271h0.5v0.5h-0.5zM166 271h42.5v0.5h-42.5zM210.5 271h0.5v0.5h-0.5zM211.5 271h0.5v0.5h-0.5zM163.5 271.5h1v0.5h-1zM165.5 271.5h43.5v0.5h-43.5zM213.5 271.5h0.5v0.5h-0.5zM159 272h0.5v0.5h-0.5zM160 272h0.5v0.5h-0.5zM162.5 272h1v0.5h-1zM165.5 272h45.5v0.5h-45.5zM214 272h0.5v0.5h-0.5zM215.5 272h0.5v0.5h-0.5zM164 272.5h1v0.5h-1zM165.5 272.5h43.5v0.5h-43.5zM209.5 272.5h1.5v0.5h-1.5zM211.5 272.5h1v0.5h-1zM158 273h0.5v0.5h-0.5zM161.5 273h0.5v0.5h-0.5zM163 273h1v0.5h-1zM165 273h1.5v0.5h-1.5zM167 273h43.5v0.5h-43.5zM211 273h0.5v0.5h-0.5zM212 273h0.5v0.5h-0.5zM163 273.5h0.5v0.5h-0.5zM165 273.5h10v0.5h-10zM175.5 273.5h31v0.5h-31zM207 273.5h2.5v0.5h-2.5zM210.5 273.5h1v0.5h-1zM214 273.5h0.5v0.5h-0.5zM160 274h0.5v0.5h-0.5zM162.5 274h1v0.5h-1zM164 274h32.5v0.5h-32.5zM197 274h11v0.5h-11zM208.5 274h0.5v0.5h-0.5zM209.5 274h0.5v0.5h-0.5zM210.5 274h0.5v0.5h-0.5zM211.5 274h0.5v0.5h-0.5zM213 274h0.5v0.5h-0.5zM215.5 274h0.5v0.5h-0.5zM162 274.5h0.5v0.5h-0.5zM164.5 274.5h1v0.5h-1zM166 274.5h29v0.5h-29zM195.5 274.5h12.5v0.5h-12.5zM209 274.5h0.5v0.5h-0.5zM210.5 274.5h0.5v0.5h-0.5zM212.5 274.5h1.5v0.5h-1.5zM216 274.5h0.5v0.5h-0.5zM163 275h0.5v0.5h-0.5zM164 275h0.5v0.5h-0.5zM165 275h40.5v0.5h-40.5zM206 275h4v0.5h-4zM211 275h0.5v0.5h-0.5zM213.5 275h0.5v0.5h-0.5zM164.5 275.5h0.5v0.5h-0.5zM165.5 275.5h13v0.5h-13zM179 275.5h30v0.5h-30zM210.5 275.5h0.5v0.5h-0.5zM212 275.5h1v0.5h-1zM160 276h0.5v0.5h-0.5zM163 276h0.5v0.5h-0.5zM164.5 276h44.5v0.5h-44.5zM211 276h1v0.5h-1zM213 276h0.5v0.5h-0.5zM165 276.5h18v0.5h-18zM183.5 276.5h24.5v0.5h-24.5zM208.5 276.5h1v0.5h-1zM210.5 276.5h0.5v0.5h-0.5zM214.5 276.5h0.5v0.5h-0.5zM162 277h0.5v0.5h-0.5zM163 277h0.5v0.5h-0.5zM164.5 277h0.5v0.5h-0.5zM165.5 277h36v0.5h-36zM202 277h3v0.5h-3zM205.5 277h4v0.5h-4zM214.5 277h0.5v0.5h-0.5zM165 277.5h31v0.5h-31zM196.5 277.5h13v0.5h-13zM211 277.5h0.5v0.5h-0.5zM213 277.5h1v0.5h-1zM158 278h0.5v0.5h-0.5zM165 278h45.5v0.5h-45.5zM164.5 278.5h32v0.5h-32zM197 278.5h10.5v0.5h-10.5zM208 278.5h1v0.5h-1zM164.5 279h0.5v0.5h-0.5zM165.5 279h0.5v0.5h-0.5zM166.5 279h41.5v0.5h-41.5zM208.5 279h0.5v0.5h-0.5zM209.5 279h0.5v0.5h-0.5zM212 279h0.5v0.5h-0.5zM213 279h0.5v0.5h-0.5zM214.5 279h0.5v0.5h-0.5zM162.5 279.5h0.5v0.5h-0.5zM163.5 279.5h0.5v0.5h-0.5zM165.5 279.5h0.5v0.5h-0.5zM166.5 279.5h39v0.5h-39zM206 279.5h0.5v0.5h-0.5zM207 279.5h1.5v0.5h-1.5zM209 279.5h1v0.5h-1zM211 279.5h0.5v0.5h-0.5zM214 279.5h0.5v0.5h-0.5zM164.5 280h0.5v0.5h-0.5zM167 280h1v0.5h-1zM168.5 280h1.5v0.5h-1.5zM171 280h0.5v0.5h-0.5zM172.5 280h0.5v0.5h-0.5zM173.5 280h10.5v0.5h-10.5zM184.5 280h6v0.5h-6zM191.5 280h1v0.5h-1zM193.5 280h4.5v0.5h-4.5zM198.5 280h2.5v0.5h-2.5zM201.5 280h1.5v0.5h-1.5zM203.5 280h1v0.5h-1zM206.5 280h0.5v0.5h-0.5zM208 280h1.5v0.5h-1.5zM212 280h0.5v0.5h-0.5z" fill="#3a3a3a"/>
<line x1="157.1" y1="193.9" x2="248.1" y2="193.9" stroke="#8a8a8a" stroke-width="1.0" />
<line x1="247.7" y1="193.9" x2="247.7" y2="280.5" stroke="#555" stroke-width="0.8" />
<line x1="157.5" y1="193.9" x2="157.5" y2="280.9" stroke="#333" stroke-width="0.8" />
<line x1="157.1" y1="280.5" x2="248.1" y2="280.5" stroke="#333" stroke-width="0.8" />
<line x1="189.6" y1="193.9" x2="189.6" y2="280.5" stroke="#333" stroke-width="0.75" />
<line x1="157.5" y1="258.2" x2="247.7" y2="258.2" stroke="#333" stroke-width="0.75" />
<text x="152.9" y="283" font-size="4.4" text-anchor="end" fill="#222" stroke="#222" stroke-width="0.12">10<tspan dy="-1.6" font-size="3.1">0</tspan></text>
<text x="158.3" y="287.5" font-size="4.4" text-anchor="middle" fill="#333">10<tspan dy="-1.54" font-size="3.08">0</tspan></text>
<text x="152.9" y="261.35" font-size="4.4" text-anchor="end" fill="#222" stroke="#222" stroke-width="0.12">10<tspan dy="-1.6" font-size="3.1">1</tspan></text>
<text x="180.85" y="287.5" font-size="4.4" text-anchor="middle" fill="#333">10<tspan dy="-1.54" font-size="3.08">1</tspan></text>
<text x="152.9" y="239.7" font-size="4.4" text-anchor="end" fill="#222" stroke="#222" stroke-width="0.12">10<tspan dy="-1.6" font-size="3.1">2</tspan></text>
<text x="203.4" y="287.5" font-size="4.4" text-anchor="middle" fill="#333">10<tspan dy="-1.54" font-size="3.08">2</tspan></text>
<text x="152.9" y="218.05" font-size="4.4" text-anchor="end" fill="#222" stroke="#222" stroke-width="0.12">10<tspan dy="-1.6" font-size="3.1">3</tspan></text>
<text x="225.95" y="287.5" font-size="4.4" text-anchor="middle" fill="#333">10<tspan dy="-1.54" font-size="3.08">3</tspan></text>
<text x="152.9" y="196.4" font-size="4.4" text-anchor="end" fill="#222" stroke="#222" stroke-width="0.12">10<tspan dy="-1.6" font-size="3.1">4</tspan></text>
<text x="248.5" y="287.5" font-size="4.4" text-anchor="middle" fill="#333">10<tspan dy="-1.54" font-size="3.08">4</tspan></text>
<line x1="164.29" y1="280.5" x2="164.29" y2="281.5" stroke="#333" stroke-width="0.45" />
<line x1="156.5" y1="273.98" x2="157.5" y2="273.98" stroke="#333" stroke-width="0.45" />
<line x1="168.26" y1="280.5" x2="168.26" y2="281.5" stroke="#333" stroke-width="0.45" />
<line x1="156.5" y1="270.17" x2="157.5" y2="270.17" stroke="#333" stroke-width="0.45" />
<line x1="171.08" y1="280.5" x2="171.08" y2="281.5" stroke="#333" stroke-width="0.45" />
<line x1="156.5" y1="267.47" x2="157.5" y2="267.47" stroke="#333" stroke-width="0.45" />
<line x1="173.26" y1="280.5" x2="173.26" y2="281.5" stroke="#333" stroke-width="0.45" />
<line x1="156.5" y1="265.37" x2="157.5" y2="265.37" stroke="#333" stroke-width="0.45" />
<line x1="175.05" y1="280.5" x2="175.05" y2="281.5" stroke="#333" stroke-width="0.45" />
<line x1="156.5" y1="263.65" x2="157.5" y2="263.65" stroke="#333" stroke-width="0.45" />
<line x1="176.56" y1="280.5" x2="176.56" y2="281.5" stroke="#333" stroke-width="0.45" />
<line x1="156.5" y1="262.2" x2="157.5" y2="262.2" stroke="#333" stroke-width="0.45" />
<line x1="177.86" y1="280.5" x2="177.86" y2="281.5" stroke="#333" stroke-width="0.45" />
<line x1="156.5" y1="260.95" x2="157.5" y2="260.95" stroke="#333" stroke-width="0.45" />
<line x1="179.02" y1="280.5" x2="179.02" y2="281.5" stroke="#333" stroke-width="0.45" />
<line x1="156.5" y1="259.84" x2="157.5" y2="259.84" stroke="#333" stroke-width="0.45" />
<line x1="186.84" y1="280.5" x2="186.84" y2="281.5" stroke="#333" stroke-width="0.45" />
<line x1="156.5" y1="252.33" x2="157.5" y2="252.33" stroke="#333" stroke-width="0.45" />
<line x1="190.81" y1="280.5" x2="190.81" y2="281.5" stroke="#333" stroke-width="0.45" />
<line x1="156.5" y1="248.52" x2="157.5" y2="248.52" stroke="#333" stroke-width="0.45" />
<line x1="193.63" y1="280.5" x2="193.63" y2="281.5" stroke="#333" stroke-width="0.45" />
<line x1="156.5" y1="245.82" x2="157.5" y2="245.82" stroke="#333" stroke-width="0.45" />
<line x1="195.81" y1="280.5" x2="195.81" y2="281.5" stroke="#333" stroke-width="0.45" />
<line x1="156.5" y1="243.72" x2="157.5" y2="243.72" stroke="#333" stroke-width="0.45" />
<line x1="197.6" y1="280.5" x2="197.6" y2="281.5" stroke="#333" stroke-width="0.45" />
<line x1="156.5" y1="242" x2="157.5" y2="242" stroke="#333" stroke-width="0.45" />
<line x1="199.11" y1="280.5" x2="199.11" y2="281.5" stroke="#333" stroke-width="0.45" />
<line x1="156.5" y1="240.55" x2="157.5" y2="240.55" stroke="#333" stroke-width="0.45" />
<line x1="200.41" y1="280.5" x2="200.41" y2="281.5" stroke="#333" stroke-width="0.45" />
<line x1="156.5" y1="239.3" x2="157.5" y2="239.3" stroke="#333" stroke-width="0.45" />
<line x1="201.57" y1="280.5" x2="201.57" y2="281.5" stroke="#333" stroke-width="0.45" />
<line x1="156.5" y1="238.19" x2="157.5" y2="238.19" stroke="#333" stroke-width="0.45" />
<line x1="209.39" y1="280.5" x2="209.39" y2="281.5" stroke="#333" stroke-width="0.45" />
<line x1="156.5" y1="230.68" x2="157.5" y2="230.68" stroke="#333" stroke-width="0.45" />
<line x1="213.36" y1="280.5" x2="213.36" y2="281.5" stroke="#333" stroke-width="0.45" />
<line x1="156.5" y1="226.87" x2="157.5" y2="226.87" stroke="#333" stroke-width="0.45" />
<line x1="216.18" y1="280.5" x2="216.18" y2="281.5" stroke="#333" stroke-width="0.45" />
<line x1="156.5" y1="224.17" x2="157.5" y2="224.17" stroke="#333" stroke-width="0.45" />
<line x1="218.36" y1="280.5" x2="218.36" y2="281.5" stroke="#333" stroke-width="0.45" />
<line x1="156.5" y1="222.07" x2="157.5" y2="222.07" stroke="#333" stroke-width="0.45" />
<line x1="220.15" y1="280.5" x2="220.15" y2="281.5" stroke="#333" stroke-width="0.45" />
<line x1="156.5" y1="220.35" x2="157.5" y2="220.35" stroke="#333" stroke-width="0.45" />
<line x1="221.66" y1="280.5" x2="221.66" y2="281.5" stroke="#333" stroke-width="0.45" />
<line x1="156.5" y1="218.9" x2="157.5" y2="218.9" stroke="#333" stroke-width="0.45" />
<line x1="222.96" y1="280.5" x2="222.96" y2="281.5" stroke="#333" stroke-width="0.45" />
<line x1="156.5" y1="217.65" x2="157.5" y2="217.65" stroke="#333" stroke-width="0.45" />
<line x1="224.12" y1="280.5" x2="224.12" y2="281.5" stroke="#333" stroke-width="0.45" />
<line x1="156.5" y1="216.54" x2="157.5" y2="216.54" stroke="#333" stroke-width="0.45" />
<line x1="231.94" y1="280.5" x2="231.94" y2="281.5" stroke="#333" stroke-width="0.45" />
<line x1="156.5" y1="209.03" x2="157.5" y2="209.03" stroke="#333" stroke-width="0.45" />
<line x1="235.91" y1="280.5" x2="235.91" y2="281.5" stroke="#333" stroke-width="0.45" />
<line x1="156.5" y1="205.22" x2="157.5" y2="205.22" stroke="#333" stroke-width="0.45" />
<line x1="238.73" y1="280.5" x2="238.73" y2="281.5" stroke="#333" stroke-width="0.45" />
<line x1="156.5" y1="202.52" x2="157.5" y2="202.52" stroke="#333" stroke-width="0.45" />
<line x1="240.91" y1="280.5" x2="240.91" y2="281.5" stroke="#333" stroke-width="0.45" />
<line x1="156.5" y1="200.42" x2="157.5" y2="200.42" stroke="#333" stroke-width="0.45" />
<line x1="242.7" y1="280.5" x2="242.7" y2="281.5" stroke="#333" stroke-width="0.45" />
<line x1="156.5" y1="198.7" x2="157.5" y2="198.7" stroke="#333" stroke-width="0.45" />
<line x1="244.21" y1="280.5" x2="244.21" y2="281.5" stroke="#333" stroke-width="0.45" />
<line x1="156.5" y1="197.25" x2="157.5" y2="197.25" stroke="#333" stroke-width="0.45" />
<line x1="245.51" y1="280.5" x2="245.51" y2="281.5" stroke="#333" stroke-width="0.45" />
<line x1="156.5" y1="196" x2="157.5" y2="196" stroke="#333" stroke-width="0.45" />
<line x1="246.67" y1="280.5" x2="246.67" y2="281.5" stroke="#333" stroke-width="0.45" />
<line x1="156.5" y1="194.89" x2="157.5" y2="194.89" stroke="#333" stroke-width="0.45" />
<text x="160.8" y="199.7" font-size="4.3" font-weight="normal" text-anchor="start" fill="#444" >4.39</text>
<text x="244.9" y="199.1" font-size="4.3" font-weight="normal" text-anchor="end" fill="#444" >0.45</text>
<text x="245.1" y="278.2" font-size="4.3" font-weight="normal" text-anchor="end" fill="#444" >23.37</text>
<text transform="translate(145.15 182.3) scale(1 1)" font-size="12.4" font-weight="bold" fill="#000">E</text>
<text x="177" y="188.1" font-size="7.7" font-weight="bold" text-anchor="start" fill="#111" stroke="#111" stroke-width="0.2">NKp46 Ligand</text>
<path d="M345 226.5h0.5v0.5h-0.5zM360.5 233.5h0.5v0.5h-0.5zM339 240h0.5v0.5h-0.5zM354.5 242h0.5v0.5h-0.5zM302 242.5h0.5v0.5h-0.5zM345.5 242.5h0.5v0.5h-0.5zM359 244h0.5v0.5h-0.5zM300 244.5h0.5v0.5h-0.5zM335.5 247h0.5v0.5h-0.5zM355 247.5h0.5v0.5h-0.5zM295.5 248h0.5v0.5h-0.5zM305 248.5h0.5v0.5h-0.5zM341.5 248.5h0.5v0.5h-0.5zM338.5 249h0.5v0.5h-0.5zM309 250h0.5v0.5h-0.5zM345 251h0.5v0.5h-0.5zM307.5 252h0.5v0.5h-0.5zM315 252h0.5v0.5h-0.5zM318 252h0.5v0.5h-0.5zM310.5 252.5h0.5v0.5h-0.5zM313 252.5h0.5v0.5h-0.5zM321 252.5h0.5v0.5h-0.5zM318.5 253h0.5v0.5h-0.5zM313.5 253.5h0.5v0.5h-0.5zM351.5 253.5h0.5v0.5h-0.5zM373.5 253.5h0.5v0.5h-0.5zM298.5 254h0.5v0.5h-0.5zM316 254h0.5v0.5h-0.5zM322 254h0.5v0.5h-0.5zM324.5 254h0.5v0.5h-0.5zM361.5 254h0.5v0.5h-0.5zM315 254.5h0.5v0.5h-0.5zM356.5 255h0.5v0.5h-0.5zM319 255.5h0.5v0.5h-0.5zM343 255.5h0.5v0.5h-0.5zM367 255.5h0.5v0.5h-0.5zM312.5 256h0.5v0.5h-0.5zM315.5 256h0.5v0.5h-0.5zM323 256h0.5v0.5h-0.5zM331.5 256h0.5v0.5h-0.5zM335 256h0.5v0.5h-0.5zM360 256h0.5v0.5h-0.5zM308.5 256.5h0.5v0.5h-0.5zM350.5 256.5h0.5v0.5h-0.5zM353 256.5h0.5v0.5h-0.5zM304 257h0.5v0.5h-0.5zM311 257h0.5v0.5h-0.5zM323.5 257h0.5v0.5h-0.5zM336 257h0.5v0.5h-0.5zM339 257.5h0.5v0.5h-0.5zM363 258h0.5v0.5h-0.5zM372 258h0.5v0.5h-0.5zM328 258.5h0.5v0.5h-0.5zM351.5 258.5h0.5v0.5h-0.5zM361 258.5h0.5v0.5h-0.5zM315 259h0.5v0.5h-0.5zM317 259h0.5v0.5h-0.5zM326 259h0.5v0.5h-0.5zM355 259.5h0.5v0.5h-0.5zM315.5 260h0.5v0.5h-0.5zM351 260h0.5v0.5h-0.5zM367 260h0.5v0.5h-0.5zM369.5 260h0.5v0.5h-0.5zM302.5 260.5h0.5v0.5h-0.5zM346.5 260.5h0.5v0.5h-0.5zM370.5 260.5h0.5v0.5h-0.5zM297 261h0.5v0.5h-0.5zM306.5 261h0.5v0.5h-0.5zM313.5 261h0.5v0.5h-0.5zM339.5 261h0.5v0.5h-0.5zM343 261h0.5v0.5h-0.5zM360.5 261h0.5v0.5h-0.5zM294.5 261.5h0.5v0.5h-0.5zM295.5 261.5h1v0.5h-1zM315.5 261.5h0.5v0.5h-0.5zM339.5 261.5h0.5v0.5h-0.5zM347.5 261.5h0.5v0.5h-0.5zM355 261.5h0.5v0.5h-0.5zM363 261.5h0.5v0.5h-0.5zM370 261.5h0.5v0.5h-0.5zM297 262h0.5v0.5h-0.5zM311.5 262h0.5v0.5h-0.5zM322 262h0.5v0.5h-0.5zM324 262h0.5v0.5h-0.5zM326 262h0.5v0.5h-0.5zM356 262h0.5v0.5h-0.5zM310 262.5h0.5v0.5h-0.5zM315.5 263h0.5v0.5h-0.5zM331 263h0.5v0.5h-0.5zM339.5 263h0.5v0.5h-0.5zM372.5 263h0.5v0.5h-0.5zM297 263.5h0.5v0.5h-0.5zM305.5 263.5h0.5v0.5h-0.5zM330 263.5h0.5v0.5h-0.5zM342.5 263.5h0.5v0.5h-0.5zM348.5 263.5h0.5v0.5h-0.5zM360 263.5h0.5v0.5h-0.5zM366 263.5h0.5v0.5h-0.5zM316.5 264h0.5v0.5h-0.5zM320.5 264h0.5v0.5h-0.5zM325 264h0.5v0.5h-0.5zM373.5 264h0.5v0.5h-0.5zM296.5 264.5h0.5v0.5h-0.5zM307.5 264.5h0.5v0.5h-0.5zM323.5 264.5h0.5v0.5h-0.5zM326 264.5h0.5v0.5h-0.5zM338 264.5h0.5v0.5h-0.5zM349.5 264.5h0.5v0.5h-0.5z" fill="#8a8a8a"/>
<path d="M330.5 243.5h0.5v0.5h-0.5zM318 244.5h0.5v0.5h-0.5zM310 245h0.5v0.5h-0.5zM317 245h0.5v0.5h-0.5zM314 245.5h0.5v0.5h-0.5zM317 246.5h0.5v0.5h-0.5zM337 247h0.5v0.5h-0.5zM341.5 247h0.5v0.5h-0.5zM307.5 247.5h0.5v0.5h-0.5zM314 247.5h0.5v0.5h-0.5zM321 247.5h0.5v0.5h-0.5zM340 247.5h0.5v0.5h-0.5zM344 247.5h0.5v0.5h-0.5zM345.5 247.5h0.5v0.5h-0.5zM304.5 248h0.5v0.5h-0.5zM316.5 248h0.5v0.5h-0.5zM338.5 248h1v0.5h-1zM346 248h0.5v0.5h-0.5zM349 248h0.5v0.5h-0.5zM306.5 248.5h0.5v0.5h-0.5zM313 248.5h0.5v0.5h-0.5zM332.5 248.5h0.5v0.5h-0.5zM306 249h0.5v0.5h-0.5zM313.5 249h0.5v0.5h-0.5zM335 249h0.5v0.5h-0.5zM337.5 249h0.5v0.5h-0.5zM344.5 249h0.5v0.5h-0.5zM309.5 249.5h0.5v0.5h-0.5zM313.5 249.5h0.5v0.5h-0.5zM314.5 249.5h0.5v0.5h-0.5zM320.5 249.5h1v0.5h-1zM322.5 249.5h1v0.5h-1zM332.5 249.5h0.5v0.5h-0.5zM337.5 249.5h0.5v0.5h-0.5zM339.5 249.5h0.5v0.5h-0.5zM341 249.5h1v0.5h-1zM342.5 249.5h0.5v0.5h-0.5zM343.5 249.5h1v0.5h-1zM356.5 249.5h0.5v0.5h-0.5zM299.5 250h0.5v0.5h-0.5zM303.5 250h0.5v0.5h-0.5zM309 250h0.5v0.5h-0.5zM310 250h0.5v0.5h-0.5zM311.5 250h0.5v0.5h-0.5zM312.5 250h1v0.5h-1zM314.5 250h1v0.5h-1zM316 250h1v0.5h-1zM318.5 250h0.5v0.5h-0.5zM321.5 250h0.5v0.5h-0.5zM322.5 250h0.5v0.5h-0.5zM323.5 250h0.5v0.5h-0.5zM331.5 250h0.5v0.5h-0.5zM332.5 250h0.5v0.5h-0.5zM335 250h0.5v0.5h-0.5zM336 250h0.5v0.5h-0.5zM339 250h0.5v0.5h-0.5zM340.5 250h1v0.5h-1zM342 250h1.5v0.5h-1.5zM344 250h0.5v0.5h-0.5zM347 250h0.5v0.5h-0.5zM310 250.5h0.5v0.5h-0.5zM311 250.5h1v0.5h-1zM314 250.5h1.5v0.5h-1.5zM316 250.5h1v0.5h-1zM317.5 250.5h1v0.5h-1zM319.5 250.5h1v0.5h-1zM322.5 250.5h0.5v0.5h-0.5zM323.5 250.5h0.5v0.5h-0.5zM329 250.5h0.5v0.5h-0.5zM331 250.5h0.5v0.5h-0.5zM333.5 250.5h0.5v0.5h-0.5zM336.5 250.5h0.5v0.5h-0.5zM337.5 250.5h1.5v0.5h-1.5zM340.5 250.5h0.5v0.5h-0.5zM342 250.5h2v0.5h-2zM344.5 250.5h1v0.5h-1zM346.5 250.5h0.5v0.5h-0.5zM309.5 251h0.5v0.5h-0.5zM313 251h1v0.5h-1zM315 251h1v0.5h-1zM317.5 251h2v0.5h-2zM320 251h0.5v0.5h-0.5zM321 251h0.5v0.5h-0.5zM322 251h1v0.5h-1zM325.5 251h0.5v0.5h-0.5zM327 251h1.5v0.5h-1.5zM332 251h0.5v0.5h-0.5zM334.5 251h0.5v0.5h-0.5zM336 251h1v0.5h-1zM338 251h6.5v0.5h-6.5zM345 251h1v0.5h-1zM346.5 251h1v0.5h-1zM310 251.5h0.5v0.5h-0.5zM311.5 251.5h2.5v0.5h-2.5zM314.5 251.5h1v0.5h-1zM316 251.5h0.5v0.5h-0.5zM317 251.5h2v0.5h-2zM320.5 251.5h1.5v0.5h-1.5zM322.5 251.5h0.5v0.5h-0.5zM323.5 251.5h1v0.5h-1zM330 251.5h0.5v0.5h-0.5zM334 251.5h0.5v0.5h-0.5zM335 251.5h4v0.5h-4zM339.5 251.5h2.5v0.5h-2.5zM342.5 251.5h0.5v0.5h-0.5zM343.5 251.5h1v0.5h-1zM345 251.5h1v0.5h-1zM347 251.5h0.5v0.5h-0.5zM293 252h0.5v0.5h-0.5zM300 252h0.5v0.5h-0.5zM304.5 252h0.5v0.5h-0.5zM309.5 252h9v0.5h-9zM319.5 252h0.5v0.5h-0.5zM320.5 252h2v0.5h-2zM323 252h0.5v0.5h-0.5zM324 252h0.5v0.5h-0.5zM325 252h0.5v0.5h-0.5zM326 252h1v0.5h-1zM330 252h1v0.5h-1zM334.5 252h1v0.5h-1zM337 252h5.5v0.5h-5.5zM343 252h2.5v0.5h-2.5zM346 252h2v0.5h-2zM352 252h0.5v0.5h-0.5zM304 252.5h0.5v0.5h-0.5zM306 252.5h0.5v0.5h-0.5zM309.5 252.5h0.5v0.5h-0.5zM311 252.5h8.5v0.5h-8.5zM320 252.5h3.5v0.5h-3.5zM324 252.5h1v0.5h-1zM325.5 252.5h0.5v0.5h-0.5zM327 252.5h0.5v0.5h-0.5zM328 252.5h1v0.5h-1zM329.5 252.5h0.5v0.5h-0.5zM331.5 252.5h1v0.5h-1zM333 252.5h1v0.5h-1zM335.5 252.5h1.5v0.5h-1.5zM337.5 252.5h1v0.5h-1zM339 252.5h4v0.5h-4zM343.5 252.5h0.5v0.5h-0.5zM345.5 252.5h1.5v0.5h-1.5zM351 252.5h0.5v0.5h-0.5zM307 253h2.5v0.5h-2.5zM310 253h0.5v0.5h-0.5zM311 253h2.5v0.5h-2.5zM314 253h5.5v0.5h-5.5zM320 253h2v0.5h-2zM322.5 253h4.5v0.5h-4.5zM328 253h0.5v0.5h-0.5zM331 253h1v0.5h-1zM333 253h1.5v0.5h-1.5zM335 253h0.5v0.5h-0.5zM336 253h10.5v0.5h-10.5zM347.5 253h1v0.5h-1zM304.5 253.5h0.5v0.5h-0.5zM307 253.5h0.5v0.5h-0.5zM308.5 253.5h0.5v0.5h-0.5zM309.5 253.5h1.5v0.5h-1.5zM311.5 253.5h1v0.5h-1zM313 253.5h11v0.5h-11zM324.5 253.5h1v0.5h-1zM327 253.5h0.5v0.5h-0.5zM328 253.5h0.5v0.5h-0.5zM329.5 253.5h0.5v0.5h-0.5zM330.5 253.5h0.5v0.5h-0.5zM331.5 253.5h11v0.5h-11zM343 253.5h1.5v0.5h-1.5zM345 253.5h2.5v0.5h-2.5zM306 254h0.5v0.5h-0.5zM307 254h0.5v0.5h-0.5zM308 254h1v0.5h-1zM310 254h6.5v0.5h-6.5zM317 254h0.5v0.5h-0.5zM318 254h6v0.5h-6zM324.5 254h0.5v0.5h-0.5zM326 254h1v0.5h-1zM328 254h0.5v0.5h-0.5zM329 254h0.5v0.5h-0.5zM331 254h0.5v0.5h-0.5zM332 254h13.5v0.5h-13.5zM346 254h0.5v0.5h-0.5zM347 254h1.5v0.5h-1.5zM304.5 254.5h0.5v0.5h-0.5zM305.5 254.5h0.5v0.5h-0.5zM306.5 254.5h1.5v0.5h-1.5zM308.5 254.5h1v0.5h-1zM310 254.5h0.5v0.5h-0.5zM311 254.5h1.5v0.5h-1.5zM313 254.5h7.5v0.5h-7.5zM321 254.5h6.5v0.5h-6.5zM328.5 254.5h0.5v0.5h-0.5zM329.5 254.5h1v0.5h-1zM332 254.5h2.5v0.5h-2.5zM335 254.5h14v0.5h-14zM350.5 254.5h0.5v0.5h-0.5zM305 255h0.5v0.5h-0.5zM306 255h5.5v0.5h-5.5zM312 255h1v0.5h-1zM313.5 255h5.5v0.5h-5.5zM319.5 255h7v0.5h-7zM328 255h1.5v0.5h-1.5zM330 255h1v0.5h-1zM331.5 255h1.5v0.5h-1.5zM333.5 255h16v0.5h-16zM351.5 255h0.5v0.5h-0.5zM304 255.5h0.5v0.5h-0.5zM305 255.5h0.5v0.5h-0.5zM306 255.5h0.5v0.5h-0.5zM308 255.5h17v0.5h-17zM325.5 255.5h5v0.5h-5zM332 255.5h14.5v0.5h-14.5zM347 255.5h1.5v0.5h-1.5zM349 255.5h0.5v0.5h-0.5zM304 256h0.5v0.5h-0.5zM305.5 256h21.5v0.5h-21.5zM327.5 256h15v0.5h-15zM343 256h6v0.5h-6zM301.5 256.5h0.5v0.5h-0.5zM302.5 256.5h3.5v0.5h-3.5zM306.5 256.5h25.5v0.5h-25.5zM332.5 256.5h5.5v0.5h-5.5zM338.5 256.5h0.5v0.5h-0.5zM339.5 256.5h11v0.5h-11zM301 257h0.5v0.5h-0.5zM303.5 257h0.5v0.5h-0.5zM304.5 257h2v0.5h-2zM307 257h7v0.5h-7zM314.5 257h8.5v0.5h-8.5zM323.5 257h16v0.5h-16zM340 257h0.5v0.5h-0.5zM341.5 257h7.5v0.5h-7.5zM351 257h0.5v0.5h-0.5zM302.5 257.5h0.5v0.5h-0.5zM304 257.5h0.5v0.5h-0.5zM305 257.5h42v0.5h-42zM347.5 257.5h1v0.5h-1zM350.5 257.5h0.5v0.5h-0.5zM300.5 258h0.5v0.5h-0.5zM303.5 258h2v0.5h-2zM306.5 258h36v0.5h-36zM343 258h2.5v0.5h-2.5zM346 258h2.5v0.5h-2.5zM349 258h1.5v0.5h-1.5zM300.5 258.5h0.5v0.5h-0.5zM301.5 258.5h0.5v0.5h-0.5zM303 258.5h0.5v0.5h-0.5zM304.5 258.5h31v0.5h-31zM336 258.5h12v0.5h-12zM351 258.5h0.5v0.5h-0.5zM295 259h0.5v0.5h-0.5zM303 259h17.5v0.5h-17.5zM321 259h26v0.5h-26zM347.5 259h0.5v0.5h-0.5zM348.5 259h1.5v0.5h-1.5zM297.5 259.5h0.5v0.5h-0.5zM301.5 259.5h1.5v0.5h-1.5zM303.5 259.5h3.5v0.5h-3.5zM307.5 259.5h38.5v0.5h-38.5zM346.5 259.5h2.5v0.5h-2.5zM350 259.5h0.5v0.5h-0.5zM300.5 260h39v0.5h-39zM340 260h7v0.5h-7zM347.5 260h1v0.5h-1zM350 260h0.5v0.5h-0.5zM352 260h0.5v0.5h-0.5zM300.5 260.5h0.5v0.5h-0.5zM301.5 260.5h0.5v0.5h-0.5zM302.5 260.5h8.5v0.5h-8.5zM311.5 260.5h36.5v0.5h-36.5zM348.5 260.5h0.5v0.5h-0.5zM349.5 260.5h0.5v0.5h-0.5zM298.5 261h0.5v0.5h-0.5zM299.5 261h0.5v0.5h-0.5zM300.5 261h0.5v0.5h-0.5zM301.5 261h47v0.5h-47zM349.5 261h0.5v0.5h-0.5zM299 261.5h0.5v0.5h-0.5zM301 261.5h2v0.5h-2zM303.5 261.5h1v0.5h-1zM305 261.5h11.5v0.5h-11.5zM317 261.5h29.5v0.5h-29.5zM347 261.5h2.5v0.5h-2.5zM352 261.5h0.5v0.5h-0.5zM300.5 262h0.5v0.5h-0.5zM301.5 262h11v0.5h-11zM313 262h25.5v0.5h-25.5zM339 262h9v0.5h-9zM348.5 262h1v0.5h-1zM301 262.5h35v0.5h-35zM336.5 262.5h9.5v0.5h-9.5zM346.5 262.5h1v0.5h-1zM349.5 262.5h0.5v0.5h-0.5zM350.5 262.5h0.5v0.5h-0.5zM299 263h0.5v0.5h-0.5zM300.5 263h8.5v0.5h-8.5zM309.5 263h37v0.5h-37zM347 263h1v0.5h-1zM348.5 263h1v0.5h-1zM300.5 263.5h46.5v0.5h-46.5zM347.5 263.5h1v0.5h-1zM298.5 264h0.5v0.5h-0.5zM300.5 264h13.5v0.5h-13.5zM314.5 264h23v0.5h-23zM338 264h10v0.5h-10zM349.5 264h0.5v0.5h-0.5zM300 264.5h0.5v0.5h-0.5zM301.5 264.5h2v0.5h-2zM304 264.5h43v0.5h-43zM348 264.5h1v0.5h-1zM300 265h0.5v0.5h-0.5zM301.5 265h37v0.5h-37zM339 265h8v0.5h-8zM347.5 265h0.5v0.5h-0.5zM298 265.5h0.5v0.5h-0.5zM300 265.5h1.5v0.5h-1.5zM302 265.5h40v0.5h-40zM343 265.5h1v0.5h-1zM344.5 265.5h1v0.5h-1zM346 265.5h0.5v0.5h-0.5zM347 265.5h1v0.5h-1zM299.5 266h1v0.5h-1zM301.5 266h45v0.5h-45zM347 266h0.5v0.5h-0.5zM295 266.5h0.5v0.5h-0.5zM300 266.5h0.5v0.5h-0.5zM301 266.5h3.5v0.5h-3.5zM305 266.5h1v0.5h-1zM306.5 266.5h1v0.5h-1zM308 266.5h1v0.5h-1zM309.5 266.5h13v0.5h-13zM323 266.5h0.5v0.5h-0.5zM324 266.5h14v0.5h-14zM338.5 266.5h4.5v0.5h-4.5zM343.5 266.5h2v0.5h-2zM300 267h0.5v0.5h-0.5zM301 267h1v0.5h-1zM302.5 267h16v0.5h-16zM319 267h16.5v0.5h-16.5zM336 267h1v0.5h-1zM337.5 267h3.5v0.5h-3.5zM341.5 267h3v0.5h-3zM300.5 267.5h0.5v0.5h-0.5zM301.5 267.5h18.5v0.5h-18.5zM320.5 267.5h23v0.5h-23zM345 267.5h0.5v0.5h-0.5zM299.5 268h0.5v0.5h-0.5zM301 268h1v0.5h-1zM302.5 268h9v0.5h-9zM312 268h26v0.5h-26zM338.5 268h3v0.5h-3zM342 268h1v0.5h-1zM346 268h0.5v0.5h-0.5zM351 268h0.5v0.5h-0.5zM302 268.5h10v0.5h-10zM312.5 268.5h7v0.5h-7zM320 268.5h6v0.5h-6zM326.5 268.5h14v0.5h-14zM341 268.5h1.5v0.5h-1.5zM343.5 268.5h0.5v0.5h-0.5zM346 268.5h0.5v0.5h-0.5zM347.5 268.5h0.5v0.5h-0.5zM300 269h0.5v0.5h-0.5zM302 269h2v0.5h-2zM304.5 269h17.5v0.5h-17.5zM322.5 269h2.5v0.5h-2.5zM327 269h1v0.5h-1zM329 269h3.5v0.5h-3.5zM333 269h4v0.5h-4zM337.5 269h0.5v0.5h-0.5zM338.5 269h1v0.5h-1zM340 269h2v0.5h-2zM342.5 269h1v0.5h-1zM344 269h0.5v0.5h-0.5zM346.5 269h0.5v0.5h-0.5zM298 269.5h0.5v0.5h-0.5zM301.5 269.5h0.5v0.5h-0.5zM303 269.5h5v0.5h-5zM308.5 269.5h16.5v0.5h-16.5zM325.5 269.5h1v0.5h-1zM327 269.5h0.5v0.5h-0.5zM328 269.5h5.5v0.5h-5.5zM334 269.5h6v0.5h-6zM342 269.5h0.5v0.5h-0.5zM302 270h0.5v0.5h-0.5zM304 270h16v0.5h-16zM321 270h0.5v0.5h-0.5zM322 270h0.5v0.5h-0.5zM323.5 270h0.5v0.5h-0.5zM325 270h0.5v0.5h-0.5zM326 270h0.5v0.5h-0.5zM327.5 270h0.5v0.5h-0.5zM328.5 270h2v0.5h-2zM331 270h1v0.5h-1zM332.5 270h3.5v0.5h-3.5zM336.5 270h2v0.5h-2zM339 270h0.5v0.5h-0.5zM340.5 270h1v0.5h-1zM343 270h0.5v0.5h-0.5zM302.5 270.5h1v0.5h-1zM304.5 270.5h0.5v0.5h-0.5zM305.5 270.5h4v0.5h-4zM310 270.5h9.5v0.5h-9.5zM320 270.5h1.5v0.5h-1.5zM322 270.5h0.5v0.5h-0.5zM324.5 270.5h0.5v0.5h-0.5zM326 270.5h1v0.5h-1zM328 270.5h2v0.5h-2zM331 270.5h1.5v0.5h-1.5zM333.5 270.5h4v0.5h-4zM338.5 270.5h1v0.5h-1zM342 270.5h0.5v0.5h-0.5zM346.5 270.5h0.5v0.5h-0.5zM301.5 271h0.5v0.5h-0.5zM303.5 271h0.5v0.5h-0.5zM305.5 271h3.5v0.5h-3.5zM309.5 271h4.5v0.5h-4.5zM314.5 271h4.5v0.5h-4.5zM319.5 271h0.5v0.5h-0.5zM320.5 271h1.5v0.5h-1.5zM323 271h1v0.5h-1zM329 271h0.5v0.5h-0.5zM330.5 271h1.5v0.5h-1.5zM334 271h0.5v0.5h-0.5zM335 271h0.5v0.5h-0.5zM336 271h0.5v0.5h-0.5zM338 271h0.5v0.5h-0.5zM339.5 271h1v0.5h-1zM341 271h0.5v0.5h-0.5zM304 271.5h2v0.5h-2zM306.5 271.5h1v0.5h-1zM308 271.5h10.5v0.5h-10.5zM319 271.5h1v0.5h-1zM321 271.5h0.5v0.5h-0.5zM322 271.5h1v0.5h-1zM323.5 271.5h1v0.5h-1zM325.5 271.5h0.5v0.5h-0.5zM327.5 271.5h1.5v0.5h-1.5zM329.5 271.5h0.5v0.5h-0.5zM331.5 271.5h0.5v0.5h-0.5zM332.5 271.5h0.5v0.5h-0.5zM333.5 271.5h0.5v0.5h-0.5zM334.5 271.5h0.5v0.5h-0.5zM335.5 271.5h1.5v0.5h-1.5zM337.5 271.5h0.5v0.5h-0.5zM340 271.5h0.5v0.5h-0.5zM344 271.5h0.5v0.5h-0.5zM300.5 272h0.5v0.5h-0.5zM305 272h1v0.5h-1zM306.5 272h0.5v0.5h-0.5zM308 272h0.5v0.5h-0.5zM309 272h0.5v0.5h-0.5zM310 272h1.5v0.5h-1.5zM312 272h0.5v0.5h-0.5zM313 272h3v0.5h-3zM316.5 272h0.5v0.5h-0.5zM317.5 272h1v0.5h-1zM320.5 272h0.5v0.5h-0.5zM322.5 272h0.5v0.5h-0.5zM328.5 272h0.5v0.5h-0.5zM331 272h0.5v0.5h-0.5zM332.5 272h1v0.5h-1zM335.5 272h0.5v0.5h-0.5zM337 272h1v0.5h-1zM341.5 272h0.5v0.5h-0.5zM302 272.5h0.5v0.5h-0.5zM304 272.5h0.5v0.5h-0.5zM305 272.5h1v0.5h-1zM306.5 272.5h1.5v0.5h-1.5zM308.5 272.5h2.5v0.5h-2.5zM312 272.5h0.5v0.5h-0.5zM313 272.5h1v0.5h-1zM314.5 272.5h3.5v0.5h-3.5zM321 272.5h1.5v0.5h-1.5zM324 272.5h0.5v0.5h-0.5zM334 272.5h1v0.5h-1zM337 272.5h1v0.5h-1zM339 272.5h0.5v0.5h-0.5zM305 273h1.5v0.5h-1.5zM307 273h0.5v0.5h-0.5zM308 273h1v0.5h-1zM310.5 273h0.5v0.5h-0.5zM312 273h1v0.5h-1zM314.5 273h0.5v0.5h-0.5zM315.5 273h0.5v0.5h-0.5zM316.5 273h2v0.5h-2zM319 273h1.5v0.5h-1.5zM327.5 273h0.5v0.5h-0.5zM334.5 273h0.5v0.5h-0.5zM308 273.5h0.5v0.5h-0.5zM309 273.5h1.5v0.5h-1.5zM311 273.5h0.5v0.5h-0.5zM312 273.5h1v0.5h-1zM314 273.5h0.5v0.5h-0.5zM315 273.5h1v0.5h-1zM317 273.5h0.5v0.5h-0.5zM323 273.5h0.5v0.5h-0.5zM330 273.5h0.5v0.5h-0.5zM332 273.5h0.5v0.5h-0.5zM304 274h0.5v0.5h-0.5zM305.5 274h0.5v0.5h-0.5zM310.5 274h2v0.5h-2zM313.5 274h0.5v0.5h-0.5zM315.5 274h0.5v0.5h-0.5zM316.5 274h0.5v0.5h-0.5zM320 274h0.5v0.5h-0.5zM334 274h0.5v0.5h-0.5zM301 274.5h0.5v0.5h-0.5zM307 274.5h0.5v0.5h-0.5zM309 274.5h0.5v0.5h-0.5zM310 274.5h0.5v0.5h-0.5zM312.5 274.5h1.5v0.5h-1.5zM314.5 274.5h0.5v0.5h-0.5zM319.5 274.5h0.5v0.5h-0.5zM324.5 274.5h0.5v0.5h-0.5zM326.5 274.5h0.5v0.5h-0.5zM330.5 274.5h0.5v0.5h-0.5zM337.5 274.5h0.5v0.5h-0.5zM330.5 275h0.5v0.5h-0.5zM312 275.5h0.5v0.5h-0.5zM340.5 275.5h0.5v0.5h-0.5zM311.5 276h0.5v0.5h-0.5zM313.5 276h0.5v0.5h-0.5zM344.5 276h0.5v0.5h-0.5zM307 276.5h0.5v0.5h-0.5zM312.5 276.5h0.5v0.5h-0.5zM315 276.5h0.5v0.5h-0.5zM324.5 276.5h0.5v0.5h-0.5zM317 277h0.5v0.5h-0.5zM335.5 277h0.5v0.5h-0.5zM315.5 277.5h0.5v0.5h-0.5z" fill="#161616"/>
<line x1="286.6" y1="187.5" x2="388.5" y2="187.5" stroke="#666" stroke-width="1.0" />
<line x1="388" y1="187.5" x2="388" y2="282.2" stroke="#888" stroke-width="1.1" />
<line x1="286.6" y1="187.5" x2="286.6" y2="282.7" stroke="#222" stroke-width="1.2" />
<line x1="286.1" y1="282.2" x2="388" y2="282.2" stroke="#222" stroke-width="1.2" />
<line x1="327.5" y1="187.5" x2="327.5" y2="282.2" stroke="#4a4a4a" stroke-width="0.8" />
<line x1="286.6" y1="251.5" x2="388" y2="251.5" stroke="#4a4a4a" stroke-width="0.8" />
<text x="297.5" y="290.8" font-size="4.3" font-weight="normal" text-anchor="middle" fill="#222" >0</text>
<text x="308.1" y="290.8" font-size="4.3" text-anchor="middle" fill="#222">10<tspan dy="-1.5" font-size="3.01">2</tspan></text>
<text x="332.6" y="290.8" font-size="4.3" text-anchor="middle" fill="#222">10<tspan dy="-1.5" font-size="3.01">3</tspan></text>
<text x="356.9" y="290.8" font-size="4.3" text-anchor="middle" fill="#222">10<tspan dy="-1.5" font-size="3.01">4</tspan></text>
<text x="379.4" y="290.8" font-size="4.3" text-anchor="middle" fill="#222">10<tspan dy="-1.5" font-size="3.01">5</tspan></text>
<text x="282" y="198" font-size="4.6" text-anchor="end" fill="#333">10<tspan dy="-1.6" font-size="3.2">5</tspan></text>
<text x="282" y="219" font-size="4.6" text-anchor="end" fill="#333">10<tspan dy="-1.6" font-size="3.2">4</tspan></text>
<text x="282" y="240.2" font-size="4.6" text-anchor="end" fill="#333">10<tspan dy="-1.6" font-size="3.2">3</tspan></text>
<text x="282" y="262.7" font-size="4.6" text-anchor="end" fill="#333">10<tspan dy="-1.6" font-size="3.2">2</tspan></text>
<text x="282" y="274.7" font-size="4.6" font-weight="normal" text-anchor="end" fill="#333" >0</text>
<line x1="284.9" y1="275.68" x2="286.6" y2="275.68" stroke="#111" stroke-width="0.7" />
<line x1="284.9" y1="271.98" x2="286.6" y2="271.98" stroke="#111" stroke-width="0.7" />
<line x1="284.9" y1="269.36" x2="286.6" y2="269.36" stroke="#111" stroke-width="0.7" />
<line x1="284.9" y1="267.32" x2="286.6" y2="267.32" stroke="#111" stroke-width="0.7" />
<line x1="300.12" y1="282.2" x2="300.12" y2="283.9" stroke="#111" stroke-width="0.7" />
<line x1="284.9" y1="265.66" x2="286.6" y2="265.66" stroke="#111" stroke-width="0.7" />
<line x1="302.06" y1="282.2" x2="302.06" y2="283.9" stroke="#111" stroke-width="0.7" />
<line x1="284.9" y1="264.25" x2="286.6" y2="264.25" stroke="#111" stroke-width="0.7" />
<line x1="303.7" y1="282.2" x2="303.7" y2="283.9" stroke="#111" stroke-width="0.7" />
<line x1="284.9" y1="263.04" x2="286.6" y2="263.04" stroke="#111" stroke-width="0.7" />
<line x1="305.13" y1="282.2" x2="305.13" y2="283.9" stroke="#111" stroke-width="0.7" />
<line x1="284.9" y1="261.96" x2="286.6" y2="261.96" stroke="#111" stroke-width="0.7" />
<line x1="306.38" y1="282.2" x2="306.38" y2="283.9" stroke="#111" stroke-width="0.7" />
<line x1="283.8" y1="261" x2="286.6" y2="261" stroke="#111" stroke-width="0.7" />
<line x1="307.5" y1="282.2" x2="307.5" y2="285" stroke="#111" stroke-width="0.7" />
<line x1="284.9" y1="254.68" x2="286.6" y2="254.68" stroke="#111" stroke-width="0.7" />
<line x1="314.88" y1="282.2" x2="314.88" y2="283.9" stroke="#111" stroke-width="0.7" />
<line x1="284.9" y1="250.98" x2="286.6" y2="250.98" stroke="#111" stroke-width="0.7" />
<line x1="319.19" y1="282.2" x2="319.19" y2="283.9" stroke="#111" stroke-width="0.7" />
<line x1="284.9" y1="248.36" x2="286.6" y2="248.36" stroke="#111" stroke-width="0.7" />
<line x1="322.25" y1="282.2" x2="322.25" y2="283.9" stroke="#111" stroke-width="0.7" />
<line x1="284.9" y1="246.32" x2="286.6" y2="246.32" stroke="#111" stroke-width="0.7" />
<line x1="324.62" y1="282.2" x2="324.62" y2="283.9" stroke="#111" stroke-width="0.7" />
<line x1="284.9" y1="244.66" x2="286.6" y2="244.66" stroke="#111" stroke-width="0.7" />
<line x1="326.56" y1="282.2" x2="326.56" y2="283.9" stroke="#111" stroke-width="0.7" />
<line x1="284.9" y1="243.25" x2="286.6" y2="243.25" stroke="#111" stroke-width="0.7" />
<line x1="328.2" y1="282.2" x2="328.2" y2="283.9" stroke="#111" stroke-width="0.7" />
<line x1="284.9" y1="242.04" x2="286.6" y2="242.04" stroke="#111" stroke-width="0.7" />
<line x1="329.63" y1="282.2" x2="329.63" y2="283.9" stroke="#111" stroke-width="0.7" />
<line x1="284.9" y1="240.96" x2="286.6" y2="240.96" stroke="#111" stroke-width="0.7" />
<line x1="330.88" y1="282.2" x2="330.88" y2="283.9" stroke="#111" stroke-width="0.7" />
<line x1="283.8" y1="240" x2="286.6" y2="240" stroke="#111" stroke-width="0.7" />
<line x1="332" y1="282.2" x2="332" y2="285" stroke="#111" stroke-width="0.7" />
<line x1="284.9" y1="233.68" x2="286.6" y2="233.68" stroke="#111" stroke-width="0.7" />
<line x1="339.38" y1="282.2" x2="339.38" y2="283.9" stroke="#111" stroke-width="0.7" />
<line x1="284.9" y1="229.98" x2="286.6" y2="229.98" stroke="#111" stroke-width="0.7" />
<line x1="343.69" y1="282.2" x2="343.69" y2="283.9" stroke="#111" stroke-width="0.7" />
<line x1="284.9" y1="227.36" x2="286.6" y2="227.36" stroke="#111" stroke-width="0.7" />
<line x1="346.75" y1="282.2" x2="346.75" y2="283.9" stroke="#111" stroke-width="0.7" />
<line x1="284.9" y1="225.32" x2="286.6" y2="225.32" stroke="#111" stroke-width="0.7" />
<line x1="349.12" y1="282.2" x2="349.12" y2="283.9" stroke="#111" stroke-width="0.7" />
<line x1="284.9" y1="223.66" x2="286.6" y2="223.66" stroke="#111" stroke-width="0.7" />
<line x1="351.06" y1="282.2" x2="351.06" y2="283.9" stroke="#111" stroke-width="0.7" />
<line x1="284.9" y1="222.25" x2="286.6" y2="222.25" stroke="#111" stroke-width="0.7" />
<line x1="352.7" y1="282.2" x2="352.7" y2="283.9" stroke="#111" stroke-width="0.7" />
<line x1="284.9" y1="221.04" x2="286.6" y2="221.04" stroke="#111" stroke-width="0.7" />
<line x1="354.13" y1="282.2" x2="354.13" y2="283.9" stroke="#111" stroke-width="0.7" />
<line x1="284.9" y1="219.96" x2="286.6" y2="219.96" stroke="#111" stroke-width="0.7" />
<line x1="355.38" y1="282.2" x2="355.38" y2="283.9" stroke="#111" stroke-width="0.7" />
<line x1="283.8" y1="219" x2="286.6" y2="219" stroke="#111" stroke-width="0.7" />
<line x1="356.5" y1="282.2" x2="356.5" y2="285" stroke="#111" stroke-width="0.7" />
<line x1="284.9" y1="212.68" x2="286.6" y2="212.68" stroke="#111" stroke-width="0.7" />
<line x1="363.88" y1="282.2" x2="363.88" y2="283.9" stroke="#111" stroke-width="0.7" />
<line x1="284.9" y1="208.98" x2="286.6" y2="208.98" stroke="#111" stroke-width="0.7" />
<line x1="368.19" y1="282.2" x2="368.19" y2="283.9" stroke="#111" stroke-width="0.7" />
<line x1="284.9" y1="206.36" x2="286.6" y2="206.36" stroke="#111" stroke-width="0.7" />
<line x1="371.25" y1="282.2" x2="371.25" y2="283.9" stroke="#111" stroke-width="0.7" />
<line x1="284.9" y1="204.32" x2="286.6" y2="204.32" stroke="#111" stroke-width="0.7" />
<line x1="373.62" y1="282.2" x2="373.62" y2="283.9" stroke="#111" stroke-width="0.7" />
<line x1="284.9" y1="202.66" x2="286.6" y2="202.66" stroke="#111" stroke-width="0.7" />
<line x1="375.56" y1="282.2" x2="375.56" y2="283.9" stroke="#111" stroke-width="0.7" />
<line x1="284.9" y1="201.25" x2="286.6" y2="201.25" stroke="#111" stroke-width="0.7" />
<line x1="377.2" y1="282.2" x2="377.2" y2="283.9" stroke="#111" stroke-width="0.7" />
<line x1="284.9" y1="200.04" x2="286.6" y2="200.04" stroke="#111" stroke-width="0.7" />
<line x1="378.63" y1="282.2" x2="378.63" y2="283.9" stroke="#111" stroke-width="0.7" />
<line x1="284.9" y1="198.96" x2="286.6" y2="198.96" stroke="#111" stroke-width="0.7" />
<line x1="379.88" y1="282.2" x2="379.88" y2="283.9" stroke="#111" stroke-width="0.7" />
<line x1="283.8" y1="198" x2="286.6" y2="198" stroke="#111" stroke-width="0.7" />
<line x1="381" y1="282.2" x2="381" y2="285" stroke="#111" stroke-width="0.7" />
<line x1="284.9" y1="191.68" x2="286.6" y2="191.68" stroke="#111" stroke-width="0.7" />
<line x1="284.9" y1="187.98" x2="286.6" y2="187.98" stroke="#111" stroke-width="0.7" />
<line x1="287.8" y1="282.2" x2="287.8" y2="283.8" stroke="#111" stroke-width="0.7" />
<line x1="290.1" y1="282.2" x2="290.1" y2="283.8" stroke="#111" stroke-width="0.7" />
<line x1="292.4" y1="282.2" x2="292.4" y2="283.8" stroke="#111" stroke-width="0.7" />
<line x1="294.7" y1="282.2" x2="294.7" y2="283.8" stroke="#111" stroke-width="0.7" />
<line x1="297" y1="282.2" x2="297" y2="283.8" stroke="#111" stroke-width="0.7" />
<line x1="299.3" y1="282.2" x2="299.3" y2="283.8" stroke="#111" stroke-width="0.7" />
<line x1="301.6" y1="282.2" x2="301.6" y2="283.8" stroke="#111" stroke-width="0.7" />
<line x1="303.9" y1="282.2" x2="303.9" y2="283.8" stroke="#111" stroke-width="0.7" />
<line x1="306.2" y1="282.2" x2="306.2" y2="283.8" stroke="#111" stroke-width="0.7" />
<line x1="285" y1="280.7" x2="286.6" y2="280.7" stroke="#111" stroke-width="0.7" />
<line x1="285" y1="278.4" x2="286.6" y2="278.4" stroke="#111" stroke-width="0.7" />
<line x1="285" y1="276.1" x2="286.6" y2="276.1" stroke="#111" stroke-width="0.7" />
<line x1="285" y1="273.8" x2="286.6" y2="273.8" stroke="#111" stroke-width="0.7" />
<line x1="285" y1="271.5" x2="286.6" y2="271.5" stroke="#111" stroke-width="0.7" />
<line x1="285" y1="269.2" x2="286.6" y2="269.2" stroke="#111" stroke-width="0.7" />
<line x1="285" y1="266.9" x2="286.6" y2="266.9" stroke="#111" stroke-width="0.7" />
<line x1="285" y1="264.6" x2="286.6" y2="264.6" stroke="#111" stroke-width="0.7" />
<line x1="285" y1="262.3" x2="286.6" y2="262.3" stroke="#111" stroke-width="0.7" />
<text x="288.1" y="192.8" font-size="4.5" font-weight="normal" text-anchor="start" fill="#444" >0.38</text>
<text x="386.5" y="192.7" font-size="4.5" font-weight="normal" text-anchor="end" fill="#444" >0.26</text>
<text x="288.4" y="280.6" font-size="4.5" font-weight="normal" text-anchor="start" fill="#444" >72.8</text>
<text x="386.5" y="280.6" font-size="4.5" font-weight="normal" text-anchor="end" fill="#444" >26.5</text>
<text transform="translate(264 182.6) scale(1 1)" font-size="12.4" font-weight="bold" fill="#000">F</text>
<text x="310.1" y="181.3" font-size="7.7" font-weight="bold" text-anchor="start" fill="#111" stroke="#111" stroke-width="0.2">NKp30 Ligand</text>
<path d="M487 230.5h0.5v0.5h-0.5zM429 235.5h0.5v0.5h-0.5zM460 235.5h0.5v0.5h-0.5zM444 236h0.5v0.5h-0.5zM419.5 238h0.5v0.5h-0.5zM469.5 240.5h0.5v0.5h-0.5zM426.5 242h0.5v0.5h-0.5zM436.5 242h0.5v0.5h-0.5zM448.5 244h0.5v0.5h-0.5zM426 246.5h0.5v0.5h-0.5zM418 247h0.5v0.5h-0.5zM427 248h0.5v0.5h-0.5zM483.5 248h0.5v0.5h-0.5zM430 248.5h0.5v0.5h-0.5zM418.5 249h0.5v0.5h-0.5zM470.5 250h0.5v0.5h-0.5zM488 250.5h0.5v0.5h-0.5zM493.5 250.5h0.5v0.5h-0.5zM421.5 251.5h0.5v0.5h-0.5zM483.5 251.5h0.5v0.5h-0.5zM444.5 252h0.5v0.5h-0.5zM462.5 252h0.5v0.5h-0.5zM424.5 252.5h0.5v0.5h-0.5zM486.5 252.5h0.5v0.5h-0.5zM447 253h0.5v0.5h-0.5zM460.5 253h0.5v0.5h-0.5zM482 253h0.5v0.5h-0.5zM480.5 254h0.5v0.5h-0.5zM481 255h0.5v0.5h-0.5zM453.5 255.5h0.5v0.5h-0.5zM471.5 255.5h0.5v0.5h-0.5zM430.5 256h0.5v0.5h-0.5zM460 256h0.5v0.5h-0.5zM422.5 256.5h0.5v0.5h-0.5zM441 256.5h0.5v0.5h-0.5zM471.5 256.5h0.5v0.5h-0.5zM447 257.5h0.5v0.5h-0.5zM478 257.5h0.5v0.5h-0.5zM485.5 258h0.5v0.5h-0.5zM431 258.5h0.5v0.5h-0.5zM437.5 258.5h0.5v0.5h-0.5zM463 258.5h0.5v0.5h-0.5zM446.5 259h0.5v0.5h-0.5zM478 259h0.5v0.5h-0.5zM447 259.5h0.5v0.5h-0.5zM485 259.5h0.5v0.5h-0.5zM429.5 260h0.5v0.5h-0.5zM432 260h0.5v0.5h-0.5zM443.5 260h0.5v0.5h-0.5zM445.5 260h0.5v0.5h-0.5zM478 260h0.5v0.5h-0.5zM442 260.5h0.5v0.5h-0.5zM491 260.5h0.5v0.5h-0.5zM426 261h0.5v0.5h-0.5zM456 261h0.5v0.5h-0.5zM491 261h0.5v0.5h-0.5zM492 261h0.5v0.5h-0.5zM493.5 261h0.5v0.5h-0.5zM495.5 261h0.5v0.5h-0.5zM442 261.5h0.5v0.5h-0.5zM453 261.5h0.5v0.5h-0.5zM471 261.5h0.5v0.5h-0.5zM425.5 262h0.5v0.5h-0.5zM443 262h0.5v0.5h-0.5zM467.5 262h0.5v0.5h-0.5zM489 262h0.5v0.5h-0.5zM471.5 262.5h0.5v0.5h-0.5zM479.5 262.5h0.5v0.5h-0.5zM483 262.5h0.5v0.5h-0.5zM495.5 262.5h0.5v0.5h-0.5zM442 263h0.5v0.5h-0.5zM450.5 263h0.5v0.5h-0.5zM489 263h0.5v0.5h-0.5zM490 263h0.5v0.5h-0.5zM430 263.5h0.5v0.5h-0.5zM457.5 263.5h0.5v0.5h-0.5zM458.5 263.5h0.5v0.5h-0.5zM475.5 263.5h0.5v0.5h-0.5zM487 263.5h0.5v0.5h-0.5zM495.5 263.5h0.5v0.5h-0.5zM423 264h0.5v0.5h-0.5zM438 264h0.5v0.5h-0.5zM443.5 264h0.5v0.5h-0.5zM445 264h0.5v0.5h-0.5zM449.5 264h0.5v0.5h-0.5zM470 264h0.5v0.5h-0.5zM479.5 264h0.5v0.5h-0.5zM482.5 264h0.5v0.5h-0.5zM437.5 264.5h0.5v0.5h-0.5zM466.5 264.5h0.5v0.5h-0.5zM468.5 264.5h0.5v0.5h-0.5zM474 264.5h0.5v0.5h-0.5zM481 264.5h0.5v0.5h-0.5zM484.5 264.5h0.5v0.5h-0.5zM444.5 265h0.5v0.5h-0.5zM477 265h0.5v0.5h-0.5zM481 265h0.5v0.5h-0.5zM484.5 265h0.5v0.5h-0.5zM491.5 265h0.5v0.5h-0.5zM493 265h0.5v0.5h-0.5zM494.5 265h0.5v0.5h-0.5zM497 265h0.5v0.5h-0.5zM436 265.5h0.5v0.5h-0.5zM469.5 265.5h0.5v0.5h-0.5zM429 266h0.5v0.5h-0.5zM435.5 266h0.5v0.5h-0.5zM436.5 266h0.5v0.5h-0.5zM447 266h0.5v0.5h-0.5zM485.5 266h0.5v0.5h-0.5z" fill="#8a8a8a"/>
<path d="M431 246h0.5v0.5h-0.5zM464 246h0.5v0.5h-0.5zM438 246.5h0.5v0.5h-0.5zM456 246.5h0.5v0.5h-0.5zM431.5 247h0.5v0.5h-0.5zM444.5 247h0.5v0.5h-0.5zM433 248h0.5v0.5h-0.5zM441 248h0.5v0.5h-0.5zM444.5 248h0.5v0.5h-0.5zM465 248h0.5v0.5h-0.5zM436.5 248.5h1.5v0.5h-1.5zM439.5 248.5h0.5v0.5h-0.5zM441.5 248.5h0.5v0.5h-0.5zM443.5 248.5h0.5v0.5h-0.5zM438 249h0.5v0.5h-0.5zM442.5 249h0.5v0.5h-0.5zM436 249.5h0.5v0.5h-0.5zM438 249.5h0.5v0.5h-0.5zM439.5 249.5h0.5v0.5h-0.5zM454 249.5h0.5v0.5h-0.5zM461 249.5h0.5v0.5h-0.5zM463.5 249.5h0.5v0.5h-0.5zM469 249.5h0.5v0.5h-0.5zM435 250h0.5v0.5h-0.5zM440 250h0.5v0.5h-0.5zM447.5 250h0.5v0.5h-0.5zM459.5 250h0.5v0.5h-0.5zM463 250h1v0.5h-1zM466 250h0.5v0.5h-0.5zM431.5 250.5h0.5v0.5h-0.5zM432.5 250.5h0.5v0.5h-0.5zM435 250.5h0.5v0.5h-0.5zM436.5 250.5h1v0.5h-1zM439.5 250.5h1v0.5h-1zM442.5 250.5h0.5v0.5h-0.5zM455 250.5h0.5v0.5h-0.5zM457.5 250.5h0.5v0.5h-0.5zM458.5 250.5h0.5v0.5h-0.5zM460 250.5h0.5v0.5h-0.5zM461.5 250.5h0.5v0.5h-0.5zM464 250.5h0.5v0.5h-0.5zM465 250.5h0.5v0.5h-0.5zM466.5 250.5h0.5v0.5h-0.5zM471.5 250.5h0.5v0.5h-0.5zM435 251h0.5v0.5h-0.5zM436.5 251h1.5v0.5h-1.5zM441 251h1.5v0.5h-1.5zM443 251h1v0.5h-1zM446 251h0.5v0.5h-0.5zM447 251h0.5v0.5h-0.5zM454 251h0.5v0.5h-0.5zM458.5 251h0.5v0.5h-0.5zM459.5 251h1v0.5h-1zM462.5 251h2v0.5h-2zM471.5 251h0.5v0.5h-0.5zM430 251.5h0.5v0.5h-0.5zM432.5 251.5h0.5v0.5h-0.5zM434.5 251.5h1v0.5h-1zM438 251.5h0.5v0.5h-0.5zM439 251.5h0.5v0.5h-0.5zM440.5 251.5h0.5v0.5h-0.5zM441.5 251.5h1.5v0.5h-1.5zM443.5 251.5h0.5v0.5h-0.5zM445.5 251.5h0.5v0.5h-0.5zM447.5 251.5h0.5v0.5h-0.5zM456.5 251.5h0.5v0.5h-0.5zM457.5 251.5h0.5v0.5h-0.5zM458.5 251.5h0.5v0.5h-0.5zM460.5 251.5h0.5v0.5h-0.5zM461.5 251.5h1.5v0.5h-1.5zM463.5 251.5h1v0.5h-1zM465.5 251.5h0.5v0.5h-0.5zM467 251.5h0.5v0.5h-0.5zM469.5 251.5h0.5v0.5h-0.5zM424 252h0.5v0.5h-0.5zM425.5 252h0.5v0.5h-0.5zM433.5 252h0.5v0.5h-0.5zM435.5 252h0.5v0.5h-0.5zM436.5 252h0.5v0.5h-0.5zM437.5 252h3.5v0.5h-3.5zM442 252h0.5v0.5h-0.5zM443 252h1.5v0.5h-1.5zM445 252h1v0.5h-1zM446.5 252h0.5v0.5h-0.5zM447.5 252h0.5v0.5h-0.5zM456 252h0.5v0.5h-0.5zM458 252h1v0.5h-1zM459.5 252h0.5v0.5h-0.5zM460.5 252h0.5v0.5h-0.5zM462 252h0.5v0.5h-0.5zM463 252h1v0.5h-1zM465 252h0.5v0.5h-0.5zM468.5 252h0.5v0.5h-0.5zM429.5 252.5h0.5v0.5h-0.5zM432 252.5h0.5v0.5h-0.5zM434.5 252.5h1.5v0.5h-1.5zM436.5 252.5h0.5v0.5h-0.5zM437.5 252.5h0.5v0.5h-0.5zM438.5 252.5h3.5v0.5h-3.5zM442.5 252.5h0.5v0.5h-0.5zM445.5 252.5h0.5v0.5h-0.5zM446.5 252.5h1v0.5h-1zM448.5 252.5h0.5v0.5h-0.5zM453 252.5h0.5v0.5h-0.5zM458.5 252.5h0.5v0.5h-0.5zM460.5 252.5h1v0.5h-1zM462 252.5h3v0.5h-3zM465.5 252.5h0.5v0.5h-0.5zM466.5 252.5h0.5v0.5h-0.5zM468 252.5h0.5v0.5h-0.5zM469 252.5h0.5v0.5h-0.5zM470 252.5h0.5v0.5h-0.5zM428 253h0.5v0.5h-0.5zM429 253h0.5v0.5h-0.5zM430 253h2.5v0.5h-2.5zM433.5 253h1v0.5h-1zM435 253h2v0.5h-2zM438 253h1v0.5h-1zM440 253h3v0.5h-3zM443.5 253h1.5v0.5h-1.5zM446 253h0.5v0.5h-0.5zM447.5 253h0.5v0.5h-0.5zM450.5 253h0.5v0.5h-0.5zM453 253h0.5v0.5h-0.5zM454.5 253h0.5v0.5h-0.5zM455.5 253h0.5v0.5h-0.5zM457 253h0.5v0.5h-0.5zM458.5 253h0.5v0.5h-0.5zM460 253h0.5v0.5h-0.5zM461 253h2.5v0.5h-2.5zM464 253h1v0.5h-1zM465.5 253h1.5v0.5h-1.5zM469.5 253h0.5v0.5h-0.5zM471 253h0.5v0.5h-0.5zM472 253h0.5v0.5h-0.5zM426 253.5h0.5v0.5h-0.5zM428.5 253.5h0.5v0.5h-0.5zM429.5 253.5h1.5v0.5h-1.5zM432.5 253.5h4v0.5h-4zM437 253.5h6.5v0.5h-6.5zM444.5 253.5h1v0.5h-1zM446 253.5h1v0.5h-1zM451.5 253.5h0.5v0.5h-0.5zM455 253.5h0.5v0.5h-0.5zM457 253.5h1v0.5h-1zM458.5 253.5h2v0.5h-2zM461 253.5h3v0.5h-3zM464.5 253.5h3.5v0.5h-3.5zM468.5 253.5h1v0.5h-1zM471 253.5h1v0.5h-1zM425.5 254h0.5v0.5h-0.5zM427.5 254h0.5v0.5h-0.5zM428.5 254h0.5v0.5h-0.5zM430 254h4.5v0.5h-4.5zM435 254h3v0.5h-3zM438.5 254h7.5v0.5h-7.5zM447 254h2.5v0.5h-2.5zM450 254h0.5v0.5h-0.5zM452.5 254h0.5v0.5h-0.5zM454 254h1.5v0.5h-1.5zM456.5 254h0.5v0.5h-0.5zM457.5 254h3v0.5h-3zM461.5 254h5.5v0.5h-5.5zM468 254h1v0.5h-1zM470 254h0.5v0.5h-0.5zM474 254h0.5v0.5h-0.5zM422 254.5h1v0.5h-1zM427 254.5h1.5v0.5h-1.5zM430 254.5h2v0.5h-2zM432.5 254.5h4v0.5h-4zM437 254.5h9v0.5h-9zM446.5 254.5h0.5v0.5h-0.5zM447.5 254.5h1v0.5h-1zM449.5 254.5h0.5v0.5h-0.5zM455.5 254.5h0.5v0.5h-0.5zM456.5 254.5h1.5v0.5h-1.5zM458.5 254.5h8v0.5h-8zM467 254.5h1v0.5h-1zM468.5 254.5h1.5v0.5h-1.5zM473 254.5h0.5v0.5h-0.5zM422 255h0.5v0.5h-0.5zM426 255h2.5v0.5h-2.5zM430 255h2v0.5h-2zM432.5 255h1v0.5h-1zM434 255h11.5v0.5h-11.5zM446 255h0.5v0.5h-0.5zM447 255h2.5v0.5h-2.5zM451 255h0.5v0.5h-0.5zM452.5 255h1.5v0.5h-1.5zM454.5 255h2v0.5h-2zM457 255h9.5v0.5h-9.5zM467.5 255h4v0.5h-4zM473 255h0.5v0.5h-0.5zM423.5 255.5h0.5v0.5h-0.5zM426.5 255.5h0.5v0.5h-0.5zM427.5 255.5h3v0.5h-3zM431 255.5h2.5v0.5h-2.5zM434 255.5h5v0.5h-5zM439.5 255.5h10.5v0.5h-10.5zM450.5 255.5h1v0.5h-1zM452 255.5h1v0.5h-1zM453.5 255.5h0.5v0.5h-0.5zM454.5 255.5h0.5v0.5h-0.5zM455.5 255.5h0.5v0.5h-0.5zM456.5 255.5h6v0.5h-6zM463 255.5h7v0.5h-7zM470.5 255.5h1.5v0.5h-1.5zM472.5 255.5h0.5v0.5h-0.5zM474 255.5h0.5v0.5h-0.5zM423 256h0.5v0.5h-0.5zM426 256h5.5v0.5h-5.5zM432 256h11v0.5h-11zM443.5 256h6.5v0.5h-6.5zM450.5 256h0.5v0.5h-0.5zM451.5 256h1v0.5h-1zM453.5 256h0.5v0.5h-0.5zM454.5 256h0.5v0.5h-0.5zM455.5 256h1.5v0.5h-1.5zM457.5 256h5v0.5h-5zM463 256h9.5v0.5h-9.5zM425.5 256.5h1v0.5h-1zM428 256.5h0.5v0.5h-0.5zM429 256.5h0.5v0.5h-0.5zM430 256.5h18.5v0.5h-18.5zM449 256.5h1.5v0.5h-1.5zM451 256.5h2.5v0.5h-2.5zM454 256.5h1.5v0.5h-1.5zM456 256.5h1v0.5h-1zM457.5 256.5h14v0.5h-14zM472 256.5h1.5v0.5h-1.5zM424 257h0.5v0.5h-0.5zM426 257h19v0.5h-19zM445.5 257h3.5v0.5h-3.5zM449.5 257h13v0.5h-13zM463 257h4.5v0.5h-4.5zM468 257h2.5v0.5h-2.5zM471 257h1v0.5h-1zM421 257.5h0.5v0.5h-0.5zM425 257.5h1v0.5h-1zM427 257.5h6.5v0.5h-6.5zM434 257.5h0.5v0.5h-0.5zM435 257.5h22v0.5h-22zM457.5 257.5h12.5v0.5h-12.5zM470.5 257.5h1.5v0.5h-1.5zM472.5 257.5h1v0.5h-1zM418.5 258h0.5v0.5h-0.5zM422.5 258h1v0.5h-1zM424.5 258h1.5v0.5h-1.5zM426.5 258h3v0.5h-3zM430 258h4v0.5h-4zM434.5 258h37.5v0.5h-37.5zM472.5 258h1v0.5h-1zM476.5 258h0.5v0.5h-0.5zM421.5 258.5h0.5v0.5h-0.5zM424 258.5h2v0.5h-2zM426.5 258.5h6v0.5h-6zM433 258.5h5.5v0.5h-5.5zM439.5 258.5h8v0.5h-8zM448 258.5h2v0.5h-2zM450.5 258.5h21v0.5h-21zM472.5 258.5h0.5v0.5h-0.5zM422.5 259h0.5v0.5h-0.5zM424 259h1.5v0.5h-1.5zM426.5 259h15.5v0.5h-15.5zM442.5 259h28.5v0.5h-28.5zM472 259h1.5v0.5h-1.5zM474 259h0.5v0.5h-0.5zM480 259h0.5v0.5h-0.5zM419.5 259.5h0.5v0.5h-0.5zM421 259.5h0.5v0.5h-0.5zM422 259.5h0.5v0.5h-0.5zM423 259.5h1v0.5h-1zM424.5 259.5h13v0.5h-13zM438 259.5h30v0.5h-30zM468.5 259.5h4v0.5h-4zM423 260h0.5v0.5h-0.5zM424 260h7.5v0.5h-7.5zM432 260h41.5v0.5h-41.5zM474 260h0.5v0.5h-0.5zM421.5 260.5h0.5v0.5h-0.5zM423 260.5h0.5v0.5h-0.5zM424 260.5h45.5v0.5h-45.5zM470 260.5h2v0.5h-2zM472.5 260.5h0.5v0.5h-0.5zM473.5 260.5h0.5v0.5h-0.5zM475 260.5h0.5v0.5h-0.5zM424 261h49v0.5h-49zM475 261h0.5v0.5h-0.5zM423.5 261.5h47.5v0.5h-47.5zM471.5 261.5h2v0.5h-2zM474 261.5h0.5v0.5h-0.5zM476.5 261.5h0.5v0.5h-0.5zM417 262h0.5v0.5h-0.5zM420.5 262h1v0.5h-1zM422.5 262h0.5v0.5h-0.5zM424 262h19v0.5h-19zM443.5 262h30.5v0.5h-30.5zM422.5 262.5h6.5v0.5h-6.5zM429.5 262.5h43.5v0.5h-43.5zM475 262.5h0.5v0.5h-0.5zM420 263h1v0.5h-1zM421.5 263h1v0.5h-1zM423 263h1v0.5h-1zM424.5 263h1.5v0.5h-1.5zM426.5 263h45v0.5h-45zM419.5 263.5h0.5v0.5h-0.5zM422 263.5h0.5v0.5h-0.5zM423 263.5h45v0.5h-45zM469 263.5h2.5v0.5h-2.5zM472 263.5h1v0.5h-1zM473.5 263.5h0.5v0.5h-0.5zM421 264h0.5v0.5h-0.5zM423 264h9.5v0.5h-9.5zM433 264h38.5v0.5h-38.5zM472 264h1v0.5h-1zM473.5 264h0.5v0.5h-0.5zM421 264.5h0.5v0.5h-0.5zM422 264.5h11v0.5h-11zM433.5 264.5h1.5v0.5h-1.5zM435.5 264.5h10.5v0.5h-10.5zM446.5 264.5h25v0.5h-25zM472 264.5h1v0.5h-1zM473.5 264.5h0.5v0.5h-0.5zM421.5 265h1v0.5h-1zM423 265h1.5v0.5h-1.5zM425 265h0.5v0.5h-0.5zM426 265h0.5v0.5h-0.5zM427 265h3v0.5h-3zM430.5 265h41v0.5h-41zM474 265h0.5v0.5h-0.5zM477 265h0.5v0.5h-0.5zM422 265.5h0.5v0.5h-0.5zM423 265.5h0.5v0.5h-0.5zM424 265.5h34.5v0.5h-34.5zM459 265.5h4v0.5h-4zM463.5 265.5h7v0.5h-7zM473 265.5h0.5v0.5h-0.5zM421 266h0.5v0.5h-0.5zM423 266h13v0.5h-13zM436.5 266h33v0.5h-33zM470 266h0.5v0.5h-0.5zM471.5 266h0.5v0.5h-0.5zM472.5 266h0.5v0.5h-0.5zM421 266.5h1v0.5h-1zM422.5 266.5h1v0.5h-1zM424 266.5h18.5v0.5h-18.5zM443 266.5h26.5v0.5h-26.5zM471.5 266.5h0.5v0.5h-0.5zM420 267h0.5v0.5h-0.5zM421.5 267h0.5v0.5h-0.5zM422.5 267h23.5v0.5h-23.5zM446.5 267h18v0.5h-18zM465 267h3.5v0.5h-3.5zM469.5 267h0.5v0.5h-0.5zM470.5 267h0.5v0.5h-0.5zM472 267h0.5v0.5h-0.5zM420 267.5h0.5v0.5h-0.5zM421 267.5h0.5v0.5h-0.5zM423 267.5h1v0.5h-1zM425.5 267.5h13v0.5h-13zM439 267.5h25.5v0.5h-25.5zM465 267.5h1.5v0.5h-1.5zM467 267.5h1.5v0.5h-1.5zM469 267.5h0.5v0.5h-0.5zM470 267.5h1v0.5h-1zM474 267.5h0.5v0.5h-0.5zM422.5 268h0.5v0.5h-0.5zM424 268h16.5v0.5h-16.5zM441 268h8v0.5h-8zM449.5 268h9v0.5h-9zM459 268h5.5v0.5h-5.5zM465.5 268h0.5v0.5h-0.5zM466.5 268h1v0.5h-1zM469 268h0.5v0.5h-0.5zM470.5 268h0.5v0.5h-0.5zM471.5 268h0.5v0.5h-0.5zM419.5 268.5h0.5v0.5h-0.5zM421.5 268.5h1v0.5h-1zM423.5 268.5h24v0.5h-24zM448 268.5h21.5v0.5h-21.5zM422.5 269h2.5v0.5h-2.5zM425.5 269h6v0.5h-6zM432 269h34v0.5h-34zM467 269h1v0.5h-1zM470 269h0.5v0.5h-0.5zM421 269.5h1v0.5h-1zM423.5 269.5h0.5v0.5h-0.5zM424.5 269.5h0.5v0.5h-0.5zM425.5 269.5h0.5v0.5h-0.5zM426.5 269.5h10v0.5h-10zM437 269.5h11v0.5h-11zM448.5 269.5h1v0.5h-1zM451 269.5h3v0.5h-3zM454.5 269.5h1v0.5h-1zM456 269.5h11v0.5h-11zM468 269.5h2v0.5h-2zM422 270h0.5v0.5h-0.5zM424 270h0.5v0.5h-0.5zM425 270h5v0.5h-5zM430.5 270h17v0.5h-17zM448.5 270h0.5v0.5h-0.5zM451 270h0.5v0.5h-0.5zM452 270h4v0.5h-4zM457 270h4.5v0.5h-4.5zM462 270h1v0.5h-1zM463.5 270h0.5v0.5h-0.5zM464.5 270h1v0.5h-1zM466 270h0.5v0.5h-0.5zM467 270h0.5v0.5h-0.5zM468.5 270h0.5v0.5h-0.5zM424.5 270.5h2v0.5h-2zM427 270.5h16v0.5h-16zM443.5 270.5h4v0.5h-4zM449 270.5h1.5v0.5h-1.5zM452 270.5h0.5v0.5h-0.5zM453 270.5h5.5v0.5h-5.5zM459 270.5h0.5v0.5h-0.5zM460 270.5h3v0.5h-3zM467.5 270.5h0.5v0.5h-0.5zM468.5 270.5h0.5v0.5h-0.5zM422.5 271h0.5v0.5h-0.5zM426 271h17.5v0.5h-17.5zM444 271h3.5v0.5h-3.5zM448.5 271h0.5v0.5h-0.5zM450 271h3v0.5h-3zM453.5 271h9v0.5h-9zM463.5 271h0.5v0.5h-0.5zM466 271h0.5v0.5h-0.5zM424.5 271.5h21v0.5h-21zM447 271.5h0.5v0.5h-0.5zM448 271.5h0.5v0.5h-0.5zM451 271.5h0.5v0.5h-0.5zM452 271.5h0.5v0.5h-0.5zM453.5 271.5h1v0.5h-1zM455.5 271.5h3v0.5h-3zM459 271.5h3v0.5h-3zM462.5 271.5h0.5v0.5h-0.5zM463.5 271.5h0.5v0.5h-0.5zM465 271.5h0.5v0.5h-0.5zM423.5 272h0.5v0.5h-0.5zM425.5 272h0.5v0.5h-0.5zM426.5 272h2v0.5h-2zM429 272h1.5v0.5h-1.5zM431 272h10v0.5h-10zM441.5 272h2v0.5h-2zM444 272h1.5v0.5h-1.5zM446 272h1v0.5h-1zM447.5 272h0.5v0.5h-0.5zM450.5 272h0.5v0.5h-0.5zM451.5 272h0.5v0.5h-0.5zM453.5 272h4v0.5h-4zM458 272h1.5v0.5h-1.5zM460 272h2v0.5h-2zM464 272h0.5v0.5h-0.5zM466.5 272h0.5v0.5h-0.5zM468.5 272h0.5v0.5h-0.5zM426 272.5h2v0.5h-2zM428.5 272.5h2.5v0.5h-2.5zM431.5 272.5h8.5v0.5h-8.5zM440.5 272.5h4v0.5h-4zM450.5 272.5h0.5v0.5h-0.5zM455 272.5h4v0.5h-4zM460.5 272.5h0.5v0.5h-0.5zM462.5 272.5h0.5v0.5h-0.5zM465.5 272.5h0.5v0.5h-0.5zM425.5 273h4v0.5h-4zM430 273h1v0.5h-1zM431.5 273h0.5v0.5h-0.5zM432.5 273h1v0.5h-1zM434 273h3v0.5h-3zM437.5 273h2.5v0.5h-2.5zM441.5 273h1.5v0.5h-1.5zM443.5 273h0.5v0.5h-0.5zM454 273h1v0.5h-1zM457 273h1v0.5h-1zM458.5 273h1v0.5h-1zM460 273h0.5v0.5h-0.5zM462 273h0.5v0.5h-0.5zM466 273h0.5v0.5h-0.5zM425 273.5h0.5v0.5h-0.5zM428 273.5h2v0.5h-2zM430.5 273.5h7.5v0.5h-7.5zM438.5 273.5h2.5v0.5h-2.5zM441.5 273.5h2v0.5h-2zM446 273.5h1.5v0.5h-1.5zM450 273.5h0.5v0.5h-0.5zM453 273.5h0.5v0.5h-0.5zM456.5 273.5h0.5v0.5h-0.5zM457.5 273.5h1.5v0.5h-1.5zM460 273.5h0.5v0.5h-0.5zM461.5 273.5h1v0.5h-1zM466.5 273.5h0.5v0.5h-0.5zM424 274h0.5v0.5h-0.5zM426.5 274h1v0.5h-1zM429 274h2v0.5h-2zM431.5 274h3v0.5h-3zM435 274h2.5v0.5h-2.5zM438 274h0.5v0.5h-0.5zM439 274h0.5v0.5h-0.5zM441 274h1v0.5h-1zM445 274h0.5v0.5h-0.5zM452 274h0.5v0.5h-0.5zM453 274h1v0.5h-1zM454.5 274h0.5v0.5h-0.5zM455.5 274h1v0.5h-1zM457 274h0.5v0.5h-0.5zM460 274h0.5v0.5h-0.5zM467.5 274h0.5v0.5h-0.5zM424 274.5h0.5v0.5h-0.5zM429.5 274.5h0.5v0.5h-0.5zM432 274.5h3v0.5h-3zM435.5 274.5h0.5v0.5h-0.5zM437 274.5h2v0.5h-2zM440.5 274.5h0.5v0.5h-0.5zM441.5 274.5h1v0.5h-1zM446.5 274.5h0.5v0.5h-0.5zM449.5 274.5h0.5v0.5h-0.5zM453 274.5h0.5v0.5h-0.5zM456.5 274.5h1v0.5h-1zM458 274.5h0.5v0.5h-0.5zM461 274.5h0.5v0.5h-0.5zM462 274.5h0.5v0.5h-0.5zM468 274.5h0.5v0.5h-0.5zM426.5 275h0.5v0.5h-0.5zM428 275h0.5v0.5h-0.5zM430 275h0.5v0.5h-0.5zM431 275h0.5v0.5h-0.5zM432 275h2.5v0.5h-2.5zM435 275h0.5v0.5h-0.5zM436 275h1v0.5h-1zM438 275h0.5v0.5h-0.5zM441 275h0.5v0.5h-0.5zM445 275h0.5v0.5h-0.5zM453 275h0.5v0.5h-0.5zM455.5 275h0.5v0.5h-0.5zM462.5 275h0.5v0.5h-0.5zM430.5 275.5h0.5v0.5h-0.5zM432.5 275.5h3.5v0.5h-3.5zM436.5 275.5h1v0.5h-1zM439 275.5h0.5v0.5h-0.5zM440 275.5h1v0.5h-1zM441.5 275.5h0.5v0.5h-0.5zM448 275.5h0.5v0.5h-0.5zM459 275.5h0.5v0.5h-0.5zM432 276h0.5v0.5h-0.5zM435 276h2.5v0.5h-2.5zM442 276h0.5v0.5h-0.5zM445.5 276h0.5v0.5h-0.5zM453 276h0.5v0.5h-0.5zM432 276.5h0.5v0.5h-0.5zM433.5 276.5h0.5v0.5h-0.5zM436.5 276.5h0.5v0.5h-0.5zM437.5 276.5h0.5v0.5h-0.5zM440 276.5h0.5v0.5h-0.5zM428 277h0.5v0.5h-0.5zM430.5 277h0.5v0.5h-0.5zM433 277h0.5v0.5h-0.5zM462.5 277h0.5v0.5h-0.5zM422 277.5h0.5v0.5h-0.5zM444.5 277.5h0.5v0.5h-0.5zM433.5 278h0.5v0.5h-0.5zM442.5 278h1v0.5h-1zM456 278h0.5v0.5h-0.5zM435 278.5h0.5v0.5h-0.5zM440.5 278.5h0.5v0.5h-0.5zM457.5 279.5h0.5v0.5h-0.5zM440.5 280h0.5v0.5h-0.5z" fill="#161616"/>
<line x1="410.3" y1="186.6" x2="511.9" y2="186.6" stroke="#666" stroke-width="1.0" />
<line x1="511.4" y1="186.6" x2="511.4" y2="283.5" stroke="#888" stroke-width="1.1" />
<line x1="410.3" y1="186.6" x2="410.3" y2="284" stroke="#222" stroke-width="1.2" />
<line x1="409.8" y1="283.5" x2="511.4" y2="283.5" stroke="#222" stroke-width="1.2" />
<line x1="450.8" y1="186.6" x2="450.8" y2="283.5" stroke="#4a4a4a" stroke-width="0.8" />
<line x1="410.3" y1="252.2" x2="511.4" y2="252.2" stroke="#4a4a4a" stroke-width="0.8" />
<text x="421.3" y="292.1" font-size="4.3" font-weight="normal" text-anchor="middle" fill="#222" >0</text>
<text x="431.4" y="292.1" font-size="4.3" text-anchor="middle" fill="#222">10<tspan dy="-1.5" font-size="3.01">2</tspan></text>
<text x="456.3" y="292.1" font-size="4.3" text-anchor="middle" fill="#222">10<tspan dy="-1.5" font-size="3.01">3</tspan></text>
<text x="479.6" y="292.1" font-size="4.3" text-anchor="middle" fill="#222">10<tspan dy="-1.5" font-size="3.01">4</tspan></text>
<text x="502.2" y="292.1" font-size="4.3" text-anchor="middle" fill="#222">10<tspan dy="-1.5" font-size="3.01">5</tspan></text>
<text x="405.7" y="197.2" font-size="4.6" text-anchor="end" fill="#333">10<tspan dy="-1.6" font-size="3.2">5</tspan></text>
<text x="405.7" y="218.5" font-size="4.6" text-anchor="end" fill="#333">10<tspan dy="-1.6" font-size="3.2">4</tspan></text>
<text x="405.7" y="241" font-size="4.6" text-anchor="end" fill="#333">10<tspan dy="-1.6" font-size="3.2">3</tspan></text>
<text x="405.7" y="263.5" font-size="4.6" text-anchor="end" fill="#333">10<tspan dy="-1.6" font-size="3.2">2</tspan></text>
<text x="405.7" y="274.7" font-size="4.6" font-weight="normal" text-anchor="end" fill="#333" >0</text>
<line x1="408.6" y1="276.69" x2="410.3" y2="276.69" stroke="#111" stroke-width="0.7" />
<line x1="408.6" y1="272.94" x2="410.3" y2="272.94" stroke="#111" stroke-width="0.7" />
<line x1="408.6" y1="270.28" x2="410.3" y2="270.28" stroke="#111" stroke-width="0.7" />
<line x1="408.6" y1="268.21" x2="410.3" y2="268.21" stroke="#111" stroke-width="0.7" />
<line x1="423.3" y1="283.5" x2="423.3" y2="285.2" stroke="#111" stroke-width="0.7" />
<line x1="408.6" y1="266.53" x2="410.3" y2="266.53" stroke="#111" stroke-width="0.7" />
<line x1="425.28" y1="283.5" x2="425.28" y2="285.2" stroke="#111" stroke-width="0.7" />
<line x1="408.6" y1="265.1" x2="410.3" y2="265.1" stroke="#111" stroke-width="0.7" />
<line x1="426.94" y1="283.5" x2="426.94" y2="285.2" stroke="#111" stroke-width="0.7" />
<line x1="408.6" y1="263.86" x2="410.3" y2="263.86" stroke="#111" stroke-width="0.7" />
<line x1="428.39" y1="283.5" x2="428.39" y2="285.2" stroke="#111" stroke-width="0.7" />
<line x1="408.6" y1="262.77" x2="410.3" y2="262.77" stroke="#111" stroke-width="0.7" />
<line x1="429.66" y1="283.5" x2="429.66" y2="285.2" stroke="#111" stroke-width="0.7" />
<line x1="407.5" y1="261.8" x2="410.3" y2="261.8" stroke="#111" stroke-width="0.7" />
<line x1="430.8" y1="283.5" x2="430.8" y2="286.3" stroke="#111" stroke-width="0.7" />
<line x1="408.6" y1="255.39" x2="410.3" y2="255.39" stroke="#111" stroke-width="0.7" />
<line x1="438.3" y1="283.5" x2="438.3" y2="285.2" stroke="#111" stroke-width="0.7" />
<line x1="408.6" y1="251.64" x2="410.3" y2="251.64" stroke="#111" stroke-width="0.7" />
<line x1="442.68" y1="283.5" x2="442.68" y2="285.2" stroke="#111" stroke-width="0.7" />
<line x1="408.6" y1="248.98" x2="410.3" y2="248.98" stroke="#111" stroke-width="0.7" />
<line x1="445.79" y1="283.5" x2="445.79" y2="285.2" stroke="#111" stroke-width="0.7" />
<line x1="408.6" y1="246.91" x2="410.3" y2="246.91" stroke="#111" stroke-width="0.7" />
<line x1="448.2" y1="283.5" x2="448.2" y2="285.2" stroke="#111" stroke-width="0.7" />
<line x1="408.6" y1="245.23" x2="410.3" y2="245.23" stroke="#111" stroke-width="0.7" />
<line x1="450.18" y1="283.5" x2="450.18" y2="285.2" stroke="#111" stroke-width="0.7" />
<line x1="408.6" y1="243.8" x2="410.3" y2="243.8" stroke="#111" stroke-width="0.7" />
<line x1="451.84" y1="283.5" x2="451.84" y2="285.2" stroke="#111" stroke-width="0.7" />
<line x1="408.6" y1="242.56" x2="410.3" y2="242.56" stroke="#111" stroke-width="0.7" />
<line x1="453.29" y1="283.5" x2="453.29" y2="285.2" stroke="#111" stroke-width="0.7" />
<line x1="408.6" y1="241.47" x2="410.3" y2="241.47" stroke="#111" stroke-width="0.7" />
<line x1="454.56" y1="283.5" x2="454.56" y2="285.2" stroke="#111" stroke-width="0.7" />
<line x1="407.5" y1="240.5" x2="410.3" y2="240.5" stroke="#111" stroke-width="0.7" />
<line x1="455.7" y1="283.5" x2="455.7" y2="286.3" stroke="#111" stroke-width="0.7" />
<line x1="408.6" y1="234.09" x2="410.3" y2="234.09" stroke="#111" stroke-width="0.7" />
<line x1="463.2" y1="283.5" x2="463.2" y2="285.2" stroke="#111" stroke-width="0.7" />
<line x1="408.6" y1="230.34" x2="410.3" y2="230.34" stroke="#111" stroke-width="0.7" />
<line x1="467.58" y1="283.5" x2="467.58" y2="285.2" stroke="#111" stroke-width="0.7" />
<line x1="408.6" y1="227.68" x2="410.3" y2="227.68" stroke="#111" stroke-width="0.7" />
<line x1="470.69" y1="283.5" x2="470.69" y2="285.2" stroke="#111" stroke-width="0.7" />
<line x1="408.6" y1="225.61" x2="410.3" y2="225.61" stroke="#111" stroke-width="0.7" />
<line x1="473.1" y1="283.5" x2="473.1" y2="285.2" stroke="#111" stroke-width="0.7" />
<line x1="408.6" y1="223.93" x2="410.3" y2="223.93" stroke="#111" stroke-width="0.7" />
<line x1="475.08" y1="283.5" x2="475.08" y2="285.2" stroke="#111" stroke-width="0.7" />
<line x1="408.6" y1="222.5" x2="410.3" y2="222.5" stroke="#111" stroke-width="0.7" />
<line x1="476.74" y1="283.5" x2="476.74" y2="285.2" stroke="#111" stroke-width="0.7" />
<line x1="408.6" y1="221.26" x2="410.3" y2="221.26" stroke="#111" stroke-width="0.7" />
<line x1="478.19" y1="283.5" x2="478.19" y2="285.2" stroke="#111" stroke-width="0.7" />
<line x1="408.6" y1="220.17" x2="410.3" y2="220.17" stroke="#111" stroke-width="0.7" />
<line x1="479.46" y1="283.5" x2="479.46" y2="285.2" stroke="#111" stroke-width="0.7" />
<line x1="407.5" y1="219.2" x2="410.3" y2="219.2" stroke="#111" stroke-width="0.7" />
<line x1="480.6" y1="283.5" x2="480.6" y2="286.3" stroke="#111" stroke-width="0.7" />
<line x1="408.6" y1="212.79" x2="410.3" y2="212.79" stroke="#111" stroke-width="0.7" />
<line x1="488.1" y1="283.5" x2="488.1" y2="285.2" stroke="#111" stroke-width="0.7" />
<line x1="408.6" y1="209.04" x2="410.3" y2="209.04" stroke="#111" stroke-width="0.7" />
<line x1="492.48" y1="283.5" x2="492.48" y2="285.2" stroke="#111" stroke-width="0.7" />
<line x1="408.6" y1="206.38" x2="410.3" y2="206.38" stroke="#111" stroke-width="0.7" />
<line x1="495.59" y1="283.5" x2="495.59" y2="285.2" stroke="#111" stroke-width="0.7" />
<line x1="408.6" y1="204.31" x2="410.3" y2="204.31" stroke="#111" stroke-width="0.7" />
<line x1="498" y1="283.5" x2="498" y2="285.2" stroke="#111" stroke-width="0.7" />
<line x1="408.6" y1="202.63" x2="410.3" y2="202.63" stroke="#111" stroke-width="0.7" />
<line x1="499.98" y1="283.5" x2="499.98" y2="285.2" stroke="#111" stroke-width="0.7" />
<line x1="408.6" y1="201.2" x2="410.3" y2="201.2" stroke="#111" stroke-width="0.7" />
<line x1="501.64" y1="283.5" x2="501.64" y2="285.2" stroke="#111" stroke-width="0.7" />
<line x1="408.6" y1="199.96" x2="410.3" y2="199.96" stroke="#111" stroke-width="0.7" />
<line x1="503.09" y1="283.5" x2="503.09" y2="285.2" stroke="#111" stroke-width="0.7" />
<line x1="408.6" y1="198.87" x2="410.3" y2="198.87" stroke="#111" stroke-width="0.7" />
<line x1="504.36" y1="283.5" x2="504.36" y2="285.2" stroke="#111" stroke-width="0.7" />
<line x1="407.5" y1="197.9" x2="410.3" y2="197.9" stroke="#111" stroke-width="0.7" />
<line x1="505.5" y1="283.5" x2="505.5" y2="286.3" stroke="#111" stroke-width="0.7" />
<line x1="408.6" y1="191.49" x2="410.3" y2="191.49" stroke="#111" stroke-width="0.7" />
<line x1="408.6" y1="187.74" x2="410.3" y2="187.74" stroke="#111" stroke-width="0.7" />
<line x1="411.5" y1="283.5" x2="411.5" y2="285.1" stroke="#111" stroke-width="0.7" />
<line x1="413.8" y1="283.5" x2="413.8" y2="285.1" stroke="#111" stroke-width="0.7" />
<line x1="416.1" y1="283.5" x2="416.1" y2="285.1" stroke="#111" stroke-width="0.7" />
<line x1="418.4" y1="283.5" x2="418.4" y2="285.1" stroke="#111" stroke-width="0.7" />
<line x1="420.7" y1="283.5" x2="420.7" y2="285.1" stroke="#111" stroke-width="0.7" />
<line x1="423" y1="283.5" x2="423" y2="285.1" stroke="#111" stroke-width="0.7" />
<line x1="425.3" y1="283.5" x2="425.3" y2="285.1" stroke="#111" stroke-width="0.7" />
<line x1="427.6" y1="283.5" x2="427.6" y2="285.1" stroke="#111" stroke-width="0.7" />
<line x1="408.7" y1="282" x2="410.3" y2="282" stroke="#111" stroke-width="0.7" />
<line x1="408.7" y1="279.7" x2="410.3" y2="279.7" stroke="#111" stroke-width="0.7" />
<line x1="408.7" y1="277.4" x2="410.3" y2="277.4" stroke="#111" stroke-width="0.7" />
<line x1="408.7" y1="275.1" x2="410.3" y2="275.1" stroke="#111" stroke-width="0.7" />
<line x1="408.7" y1="272.8" x2="410.3" y2="272.8" stroke="#111" stroke-width="0.7" />
<line x1="408.7" y1="270.5" x2="410.3" y2="270.5" stroke="#111" stroke-width="0.7" />
<line x1="408.7" y1="268.2" x2="410.3" y2="268.2" stroke="#111" stroke-width="0.7" />
<line x1="408.7" y1="265.9" x2="410.3" y2="265.9" stroke="#111" stroke-width="0.7" />
<line x1="408.7" y1="263.6" x2="410.3" y2="263.6" stroke="#111" stroke-width="0.7" />
<text x="411.8" y="191.9" font-size="4.5" font-weight="normal" text-anchor="start" fill="#444" >0.44</text>
<text x="509.9" y="191.8" font-size="4.5" font-weight="normal" text-anchor="end" fill="#444" >0.28</text>
<text x="412.1" y="281.9" font-size="4.5" font-weight="normal" text-anchor="start" fill="#444" >73.2</text>
<text x="509.9" y="281.9" font-size="4.5" font-weight="normal" text-anchor="end" fill="#444" >26.1</text>
<text transform="translate(395.5 182.2) scale(1 1)" font-size="12.4" font-weight="bold" fill="#000">G</text>
<text x="438.1" y="181.8" font-size="7.7" font-weight="bold" text-anchor="start" fill="#111" stroke="#111" stroke-width="0.2">NKp46 Ligand</text>
<text transform="translate(8 254.6) rotate(-90)" font-size="5.7" font-weight="bold" fill="#111">Ligand for NCR</text>
<line x1="6" y1="259.4" x2="6" y2="279.1" stroke="#333" stroke-width="0.85" />
<line x1="6" y1="197.3" x2="6" y2="208" stroke="#333" stroke-width="0.85" />
<path d="M6 193.8 L4.1 197.8 L7.9 197.8 Z" fill="#111"/>
<text transform="translate(270.2 248.5) rotate(-90)" font-size="5.65" font-weight="bold" fill="#111">Ligand for NCR</text>
<line x1="268.3" y1="253.2" x2="268.3" y2="283.5" stroke="#333" stroke-width="0.85" />
<line x1="267.6" y1="189.5" x2="267.6" y2="203.5" stroke="#333" stroke-width="0.85" />
<path d="M267.6 186 L265.7 190 L269.5 190 Z" fill="#111"/>
<line x1="12.5" y1="293.6" x2="94.4" y2="293.6" stroke="#555" stroke-width="0.7" />
<text y="296.6" font-size="7.6" font-weight="bold" fill="#111" stroke="#111" stroke-width="0.15"><tspan x="100.65">HIV-I</tspan><tspan x="118.0" y="298.6" font-size="4.8">SF162</tspan><tspan x="135.4" y="296.6">p24</tspan></text>
<line x1="154" y1="294.2" x2="247" y2="294.2" stroke="#333" stroke-width="0.8" />
<path d="M250.8 294.2 L245.8 292 L245.8 296.4 Z" fill="#111"/>
<line x1="284.5" y1="297.5" x2="366" y2="297.5" stroke="#555" stroke-width="0.7" />
<text y="299.5" font-size="7.6" font-weight="bold" fill="#111" stroke="#111" stroke-width="0.15"><tspan x="369.8">HIV-I</tspan><tspan x="387.1" y="301.5" font-size="4.9">SF128A</tspan><tspan x="408.4" y="299.5">p24</tspan></text>
<line x1="427.5" y1="297.1" x2="516" y2="297.1" stroke="#333" stroke-width="0.8" />
<path d="M519.5 297.1 L514.5 294.9 L514.5 299.3 Z" fill="#111"/>
</svg>
</body></html>
